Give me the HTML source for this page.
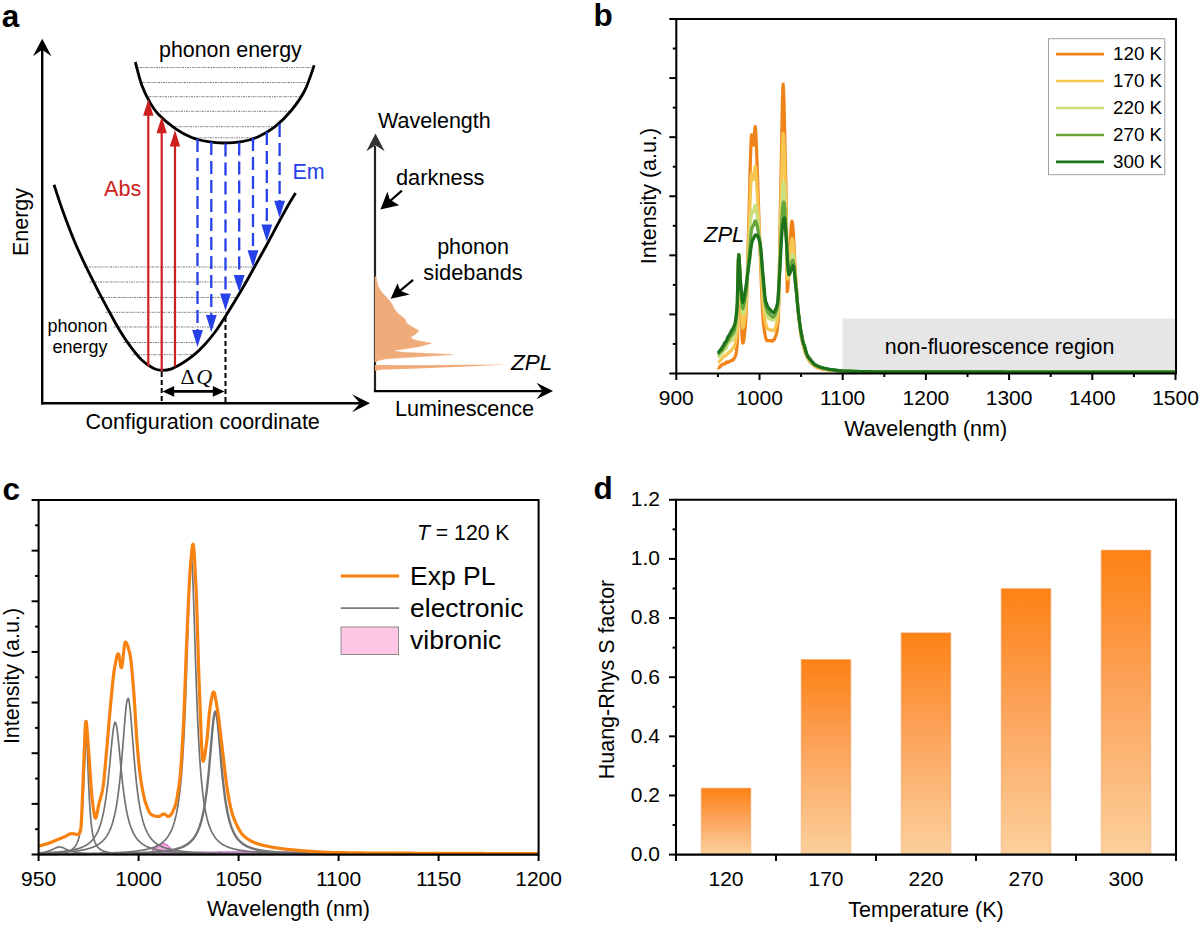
<!DOCTYPE html><html><head><meta charset="utf-8"><style>
html,body{margin:0;padding:0;background:#fff;}
svg{display:block;}
text{font-family:"Liberation Sans", sans-serif;}
</style></head><body>
<svg width="1200" height="927" viewBox="0 0 1200 927">
<defs>
<linearGradient id="barg" x1="0" y1="0" x2="0" y2="1">
<stop offset="0" stop-color="#fd8214"/><stop offset="0.45" stop-color="#fca35a"/><stop offset="1" stop-color="#fcd09c"/>
</linearGradient>
</defs>
<rect width="1200" height="927" fill="#fff"/>

<text x="1.80" y="26.50" font-size="31.5" text-anchor="start" fill="#000" font-weight="bold">a</text>
<line x1="42.2" y1="404.5" x2="42.2" y2="48" stroke="#000" stroke-width="2.4"/>
<path d="M42.20,38.80 L51.45,56.30 L42.20,49.80 L32.95,56.30 Z" fill="#000"/>
<line x1="41" y1="403.3" x2="360" y2="403.3" stroke="#000" stroke-width="2.4"/>
<path d="M370.00,403.30 L352.00,412.30 L360.00,403.30 L352.00,394.30 Z" fill="#000"/>
<line x1="135.0" y1="67.5" x2="313.2" y2="67.5" stroke="#7a7a7a" stroke-width="1" stroke-dasharray="2.2 1 1 1"/>
<line x1="142.2" y1="82.5" x2="307.3" y2="82.5" stroke="#7a7a7a" stroke-width="1" stroke-dasharray="2.2 1 1 1"/>
<line x1="149.2" y1="96.7" x2="300.5" y2="96.7" stroke="#7a7a7a" stroke-width="1" stroke-dasharray="2.2 1 1 1"/>
<line x1="160.0" y1="111.3" x2="289.0" y2="111.3" stroke="#7a7a7a" stroke-width="1" stroke-dasharray="2.2 1 1 1"/>
<line x1="174.2" y1="126.7" x2="274.5" y2="126.7" stroke="#7a7a7a" stroke-width="1" stroke-dasharray="2.2 1 1 1"/>
<line x1="194.2" y1="137.8" x2="254.8" y2="137.8" stroke="#7a7a7a" stroke-width="1" stroke-dasharray="2.2 1 1 1"/>
<line x1="83.9" y1="267.0" x2="255.0" y2="267.0" stroke="#7a7a7a" stroke-width="1" stroke-dasharray="2.2 1 1 1"/>
<line x1="89.5" y1="282.0" x2="246.4" y2="282.0" stroke="#7a7a7a" stroke-width="1" stroke-dasharray="2.2 1 1 1"/>
<line x1="97.5" y1="297.5" x2="236.5" y2="297.5" stroke="#7a7a7a" stroke-width="1" stroke-dasharray="2.2 1 1 1"/>
<line x1="105.5" y1="312.3" x2="227.0" y2="312.3" stroke="#7a7a7a" stroke-width="1" stroke-dasharray="2.2 1 1 1"/>
<line x1="113.5" y1="327.0" x2="214.0" y2="327.0" stroke="#7a7a7a" stroke-width="1" stroke-dasharray="2.2 1 1 1"/>
<line x1="123.5" y1="342.5" x2="198.9" y2="342.5" stroke="#7a7a7a" stroke-width="1" stroke-dasharray="2.2 1 1 1"/>
<line x1="132.5" y1="354.7" x2="192.5" y2="354.7" stroke="#7a7a7a" stroke-width="1" stroke-dasharray="2.2 1 1 1"/>
<path d="M135.30,62.00 C136.37,65.83 139.25,78.25 141.70,85.00 C144.15,91.75 147.23,97.63 150.00,102.50 C152.77,107.37 154.13,109.90 158.30,114.20 C162.47,118.50 169.43,124.42 175.00,128.30 C180.57,132.18 186.15,135.27 191.70,137.50 C197.25,139.73 203.03,140.78 208.30,141.70 C213.57,142.62 217.73,143.00 223.30,143.00 C228.87,143.00 235.87,142.75 241.70,141.70 C247.53,140.65 252.75,139.20 258.30,136.70 C263.85,134.20 269.43,131.15 275.00,126.70 C280.57,122.25 286.70,116.12 291.70,110.00 C296.70,103.88 301.25,97.45 305.00,90.00 C308.75,82.55 312.67,69.42 314.20,65.30" fill="none" stroke="#000" stroke-width="2.8" stroke-linecap="butt"/>
<path d="M54.00,184.70 C55.45,189.05 59.37,201.55 62.70,210.80 C66.03,220.05 70.23,231.13 74.00,240.20 C77.77,249.27 81.53,257.27 85.30,265.20 C89.07,273.13 92.82,280.45 96.60,287.80 C100.38,295.15 104.22,302.32 108.00,309.30 C111.78,316.28 115.53,323.47 119.30,329.70 C123.07,335.93 126.82,341.60 130.60,346.70 C134.38,351.80 138.22,356.72 142.00,360.30 C145.78,363.88 150.05,366.53 153.30,368.20 C156.55,369.87 158.45,370.20 161.50,370.30 C164.55,370.40 168.13,369.98 171.60,368.80 C175.07,367.62 178.72,365.38 182.30,363.20 C185.88,361.02 189.50,358.65 193.10,355.70 C196.70,352.75 200.30,349.37 203.90,345.50 C207.50,341.63 211.10,337.37 214.70,332.50 C218.30,327.63 221.90,321.92 225.50,316.30 C229.10,310.68 232.72,304.77 236.30,298.80 C239.88,292.83 243.42,286.80 247.00,280.50 C250.58,274.20 254.20,267.50 257.80,261.00 C261.40,254.50 265.00,248.13 268.60,241.50 C272.20,234.87 275.80,227.82 279.40,221.20 C283.00,214.58 287.50,206.50 290.20,201.80 C292.90,197.10 294.70,194.47 295.60,193.00" fill="none" stroke="#000" stroke-width="2.8"/>
<line x1="148.3" y1="366.5" x2="148.3" y2="109.2" stroke="#cf2020" stroke-width="2.2"/>
<path d="M148.3,99.2 L143.1,115.7 L153.5,115.7 Z" fill="#cf2020"/>
<line x1="161.7" y1="371.0" x2="161.7" y2="126.7" stroke="#cf2020" stroke-width="2.2"/>
<path d="M161.7,116.7 L156.5,133.2 L166.9,133.2 Z" fill="#cf2020"/>
<line x1="175.0" y1="366.5" x2="175.0" y2="140.0" stroke="#cf2020" stroke-width="2.2"/>
<path d="M175.0,130.0 L169.8,146.5 L180.2,146.5 Z" fill="#cf2020"/>
<line x1="197.5" y1="139.0" x2="197.5" y2="335.1" stroke="#2641e8" stroke-width="2.3" stroke-dasharray="13 6"/>
<path d="M197.5,347.1 L192.1,330.1 L202.9,330.1 Z" fill="#2641e8"/>
<line x1="211.3" y1="142.0" x2="211.3" y2="320.0" stroke="#2641e8" stroke-width="2.3" stroke-dasharray="13 6"/>
<path d="M211.3,332.0 L205.9,315.0 L216.7,315.0 Z" fill="#2641e8"/>
<line x1="225.5" y1="143.5" x2="225.5" y2="298.5" stroke="#2641e8" stroke-width="2.3" stroke-dasharray="13 6"/>
<path d="M225.5,310.5 L220.1,293.5 L230.9,293.5 Z" fill="#2641e8"/>
<line x1="239.2" y1="142.5" x2="239.2" y2="280.0" stroke="#2641e8" stroke-width="2.3" stroke-dasharray="13 6"/>
<path d="M239.2,292.0 L233.8,275.0 L244.6,275.0 Z" fill="#2641e8"/>
<line x1="253.0" y1="138.0" x2="253.0" y2="255.3" stroke="#2641e8" stroke-width="2.3" stroke-dasharray="13 6"/>
<path d="M253.0,267.3 L247.6,250.3 L258.4,250.3 Z" fill="#2641e8"/>
<line x1="266.8" y1="132.0" x2="266.8" y2="229.5" stroke="#2641e8" stroke-width="2.3" stroke-dasharray="13 6"/>
<path d="M266.8,241.5 L261.4,224.5 L272.2,224.5 Z" fill="#2641e8"/>
<line x1="279.6" y1="124.0" x2="279.6" y2="205.7" stroke="#2641e8" stroke-width="2.3" stroke-dasharray="13 6"/>
<path d="M279.6,217.7 L274.2,200.7 L285.0,200.7 Z" fill="#2641e8"/>
<line x1="161.7" y1="372" x2="161.7" y2="402" stroke="#000" stroke-width="2" stroke-dasharray="5 3"/>
<line x1="225.5" y1="317" x2="225.5" y2="402" stroke="#000" stroke-width="2" stroke-dasharray="5 3"/>
<line x1="170" y1="391.4" x2="216" y2="391.4" stroke="#000" stroke-width="2.8"/>
<path d="M162.5,391.4 L174.2,386.1 L174.2,396.7 Z" fill="#000"/>
<path d="M224.5,391.4 L212.8,386.1 L212.8,396.7 Z" fill="#000"/>
<text x="180.5" y="384" font-size="22" style="font-family:'Liberation Serif',serif">&#916;<tspan font-style="italic" dx="1.5">Q</tspan></text>
<text x="159.00" y="57.00" font-size="21.4" text-anchor="start" fill="#000" >phonon energy</text>
<text x="104.00" y="196.00" font-size="21.6" text-anchor="start" fill="#cf2020" >Abs</text>
<text x="292.50" y="179.00" font-size="21.5" text-anchor="start" fill="#2641e8" >Em</text>
<text x="27.50" y="222.00" font-size="21.5" text-anchor="middle" fill="#000" transform="rotate(-90 27.5 222)">Energy</text>
<text x="107.50" y="332.00" font-size="18" text-anchor="end" fill="#000" >phonon</text>
<text x="107.50" y="353.00" font-size="18" text-anchor="end" fill="#000" >energy</text>
<text x="202.70" y="429.00" font-size="21.5" text-anchor="middle" fill="#000" >Configuration coordinate</text>
<line x1="375" y1="392" x2="375" y2="146" stroke="#222" stroke-width="2.2"/>
<path d="M375.50,133.50 L384.65,151.30 L375.50,145.30 L366.35,151.30 Z" fill="#333"/>
<line x1="374" y1="391.1" x2="545" y2="391.1" stroke="#000" stroke-width="2.2"/>
<path d="M553.00,391.10 L536.50,399.35 L542.50,391.10 L536.50,382.85 Z" fill="#000"/>
<path d="M375.0,276.5 L376.1,277.4 L377.9,286.1 L381.6,292.3 L386.6,297.3 L391.6,303.5 L394.0,308.4 L397.8,313.4 L402.7,317.1 L405.2,319.6 L406.5,323.3 L411.4,326.4 L418.9,330.8 L415.1,334.5 L410.2,337.6 L413.0,339.2 L417.6,340.7 L431.3,343.2 L417.6,346.9 L400.0,349.5 L392.8,350.6 L398.0,351.8 L405.2,352.5 L452.4,354.6 L417.6,356.8 L386.6,358.7 L377.9,360.5 L376.7,361.8 L375.0,362.0 Z" fill="#f0ab7b" stroke="#f0ab7b" stroke-width="0.6" stroke-linejoin="round"/>
<path d="M375,364.8 L377.9,364.9 L417.6,365.3 L468,364.8 L507.2,364.6 L468,366.6 L417.6,368.4 L380.4,369.8 L376.7,370.5 L375,371 Z" fill="#f0ab7b"/>
<text x="378.00" y="127.50" font-size="21.5" text-anchor="start" fill="#000" >Wavelength</text>
<text x="396.00" y="185.00" font-size="21.8" text-anchor="start" fill="#000" >darkness</text>
<text x="473.00" y="254.00" font-size="21.5" text-anchor="middle" fill="#000" >phonon</text>
<text x="473.00" y="280.00" font-size="21.8" text-anchor="middle" fill="#000" >sidebands</text>
<text x="511" y="370" font-size="22.5" font-style="italic">ZPL</text>
<text x="464.50" y="416.00" font-size="21.6" text-anchor="middle" fill="#000" >Luminescence</text>
<line x1="401.9" y1="190.7" x2="385" y2="205.5" stroke="#000" stroke-width="2.2"/>
<path d="M380.4,209.5 L387.4,191.7 L389.8,199.5 L399.2,205.2 Z" fill="#000"/>
<line x1="413.1" y1="279.8" x2="395" y2="295" stroke="#000" stroke-width="2.2"/>
<path d="M390.7,298.8 L397.5,283.2 L400.3,290.8 L409.8,294.5 Z" fill="#000"/>
<path d="M38.6,854.5 39.1,854.5 39.6,854.5 40.1,854.5 40.6,854.5 41.1,854.5 41.6,854.5 42.1,854.5 42.6,854.5 43.1,854.5 43.6,854.5 44.1,854.5 44.6,854.5 45.1,854.5 45.6,854.5 46.1,854.5 46.6,854.5 47.1,854.5 47.6,854.5 48.1,854.5 48.6,854.5 49.1,854.5 49.6,854.5 50.1,854.5 50.6,854.5 51.1,854.5 51.6,854.5 52.1,854.5 52.6,854.5 53.1,854.5 53.6,854.5 54.1,854.5 54.6,854.5 55.1,854.5 55.6,854.5 56.1,854.5 56.6,854.5 57.1,854.5 57.6,854.5 58.1,854.5 58.6,854.5 59.1,854.5 59.6,854.5 60.1,854.5 60.6,854.5 61.1,854.5 61.6,854.5 62.1,854.5 62.6,854.5 63.1,854.5 63.6,854.5 64.1,854.5 64.6,854.5 65.1,854.5 65.6,854.5 66.1,854.5 66.6,854.5 67.1,854.5 67.6,854.5 68.1,854.5 68.6,854.5 69.1,854.5 69.6,854.5 70.1,854.5 70.6,854.5 71.1,854.5 71.6,854.5 72.1,854.5 72.6,854.5 73.1,854.5 73.6,854.5 74.1,854.5 74.6,854.5 75.1,854.5 75.6,854.5 76.1,854.5 76.6,854.5 77.1,854.5 77.6,854.5 78.1,854.5 78.6,854.5 79.1,854.5 79.6,854.5 80.1,854.5 80.6,854.5 81.1,854.5 81.6,854.5 82.1,854.5 82.6,854.5 83.1,854.5 83.6,854.5 84.1,854.5 84.6,854.5 85.1,854.5 85.6,854.5 86.1,854.5 86.6,854.5 87.1,854.5 87.6,854.5 88.1,854.5 88.6,854.5 89.1,854.5 89.6,854.5 90.1,854.5 90.6,854.5 91.1,854.5 91.6,854.5 92.1,854.5 92.6,854.5 93.1,854.5 93.6,854.5 94.1,854.5 94.6,854.5 95.1,854.5 95.6,854.5 96.1,854.5 96.6,854.5 97.1,854.5 97.6,854.5 98.1,854.5 98.6,854.5 99.1,854.5 99.6,854.5 100.1,854.5 100.6,854.5 101.1,854.5 101.6,854.5 102.1,854.5 102.6,854.5 103.1,854.5 103.6,854.5 104.1,854.5 104.6,854.5 105.1,854.5 105.6,854.5 106.1,854.5 106.6,854.5 107.1,854.5 107.6,854.5 108.1,854.5 108.6,854.5 109.1,854.5 109.6,854.5 110.1,854.5 110.6,854.5 111.1,854.5 111.6,854.5 112.1,854.5 112.6,854.5 113.1,854.5 113.6,854.5 114.1,854.5 114.6,854.5 115.1,854.5 115.6,854.5 116.1,854.5 116.6,854.5 117.1,854.5 117.6,854.5 118.1,854.5 118.6,854.5 119.1,854.5 119.6,854.5 120.1,854.5 120.6,854.5 121.1,854.5 121.6,854.5 122.1,854.5 122.6,854.5 123.1,854.5 123.6,854.5 124.1,854.5 124.6,854.5 125.1,854.5 125.6,854.5 126.1,854.5 126.6,854.5 127.1,854.5 127.6,854.5 128.1,854.5 128.6,854.5 129.1,854.5 129.6,854.5 130.1,854.5 130.6,854.5 131.1,854.5 131.6,854.5 132.1,854.5 132.6,854.5 133.1,854.5 133.6,854.5 134.1,854.5 134.6,854.5 135.1,854.5 135.6,854.5 136.1,854.5 136.6,854.5 137.1,854.5 137.6,854.5 138.1,854.5 138.6,854.5 139.1,854.5 139.6,854.4 140.1,854.4 140.6,854.4 141.1,854.4 141.6,854.4 142.1,854.3 142.6,854.3 143.1,854.3 143.6,854.2 144.1,854.1 144.6,854.1 145.1,854.0 145.6,853.9 146.1,853.8 146.6,853.7 147.1,853.5 147.6,853.4 148.1,853.2 148.6,853.0 149.1,852.8 149.6,852.6 150.1,852.3 150.6,852.0 151.1,851.7 151.6,851.4 152.1,851.0 152.6,850.6 153.1,850.2 153.6,849.8 154.1,849.4 154.6,848.9 155.1,848.5 155.6,848.0 156.1,847.6 156.6,847.1 157.1,846.6 157.6,846.2 158.1,845.8 158.6,845.4 159.1,845.0 159.6,844.7 160.1,844.4 160.6,844.1 161.1,843.9 161.6,843.7 162.1,843.6 162.6,843.5 163.1,843.5 163.6,843.5 164.1,843.6 164.6,843.8 165.1,844.0 165.6,844.2 166.1,844.5 166.6,844.8 167.1,845.1 167.6,845.5 168.1,845.9 168.6,846.4 169.1,846.8 169.6,847.3 170.1,847.7 170.6,848.2 171.1,848.7 171.6,849.1 172.1,849.6 172.6,850.0 173.1,850.4 173.6,850.8 174.1,851.1 174.6,851.5 175.1,851.8 175.6,852.1 176.1,852.4 176.6,852.7 177.1,852.9 177.6,853.1 178.1,853.3 178.6,853.4 179.1,853.6 179.6,853.7 180.1,853.8 180.6,853.9 181.1,854.0 181.6,854.1 182.1,854.2 182.6,854.2 183.1,854.3 183.6,854.3 184.1,854.3 184.6,854.4 185.1,854.4 185.6,854.4 186.1,854.4 186.6,854.4 187.1,854.5 187.6,854.5 188.1,854.5 188.6,854.5 189.1,854.5 189.6,854.5 190.1,854.5 190.6,854.5 191.1,854.5 191.6,854.5 192.1,854.5 192.6,854.5 193.1,854.5 193.6,854.5 194.1,854.5 194.6,854.5 195.1,854.5 195.6,854.5 196.1,854.5 196.6,854.5 197.1,854.5 197.6,854.5 198.1,854.5 198.6,854.5 199.1,854.5 199.6,854.5 200.1,854.5 200.6,854.5 201.1,854.5 201.6,854.5 202.1,854.5 202.6,854.5 203.1,854.5 203.6,854.5 204.1,854.5 204.6,854.5 205.1,854.5 205.6,854.5 206.1,854.5 206.6,854.5 207.1,854.5 207.6,854.5 208.1,854.5 208.6,854.5 209.1,854.5 209.6,854.5 210.1,854.5 210.6,854.5 211.1,854.5 211.6,854.5 212.1,854.5 212.6,854.5 213.1,854.5 213.6,854.5 214.1,854.5 214.6,854.5 215.1,854.5 215.6,854.5 216.1,854.5 216.6,854.5 217.1,854.5 217.6,854.5 218.1,854.5 218.6,854.5 219.1,854.5 219.6,854.5 220.1,854.5 220.6,854.5 221.1,854.5 221.6,854.5 222.1,854.5 222.6,854.5 223.1,854.5 223.6,854.5 224.1,854.5 224.6,854.5 225.1,854.5 225.6,854.5 226.1,854.5 226.6,854.5 227.1,854.5 227.6,854.5 228.1,854.5 228.6,854.5 229.1,854.5 229.6,854.5 230.1,854.5 230.6,854.5 231.1,854.5 231.6,854.5 232.1,854.5 232.6,854.5 233.1,854.5 233.6,854.5 234.1,854.5 234.6,854.5 235.1,854.5 235.6,854.5 236.1,854.5 236.6,854.5 237.1,854.5 237.6,854.5 238.1,854.5 238.6,854.5 239.1,854.5 239.6,854.5 240.1,854.5 240.6,854.5 241.1,854.5 241.6,854.5 242.1,854.5 242.6,854.5 243.1,854.5 243.6,854.5 244.1,854.5 244.6,854.5 245.1,854.5 245.6,854.5 246.1,854.5 246.6,854.5 247.1,854.5 247.6,854.5 248.1,854.5 248.6,854.5 249.1,854.5 249.6,854.5 250.1,854.5 250.6,854.5 251.1,854.5 251.6,854.5 252.1,854.5 252.6,854.5 253.1,854.5 253.6,854.5 254.1,854.5 254.6,854.5 255.1,854.5 255.6,854.5 256.1,854.5 256.6,854.5 257.1,854.5 257.6,854.5 258.1,854.5 258.6,854.5 259.1,854.5 259.6,854.5 260.1,854.5 260.6,854.5 261.1,854.5 261.6,854.5 262.1,854.5 262.6,854.5 263.1,854.5 263.6,854.5 264.1,854.5 264.6,854.5 265.1,854.5 265.6,854.5 266.1,854.5 266.6,854.5 267.1,854.5 267.6,854.5 268.1,854.5 268.6,854.5 269.1,854.5 269.6,854.5 270.1,854.5 270.6,854.5 271.1,854.5 271.6,854.5 272.1,854.5 272.6,854.5 273.1,854.5 273.6,854.5 274.1,854.5 274.6,854.5 275.1,854.5 275.6,854.5 276.1,854.5 276.6,854.5 277.1,854.5 277.6,854.5 278.1,854.5 278.6,854.5 279.1,854.5 279.6,854.5 280.1,854.5 280.6,854.5 281.1,854.5 281.6,854.5 282.1,854.5 282.6,854.5 283.1,854.5 283.6,854.5 284.1,854.5 284.6,854.5 285.1,854.5 285.6,854.5 286.1,854.5 286.6,854.5 287.1,854.5 287.6,854.5 288.1,854.5 288.6,854.5 289.1,854.5 289.6,854.5 290.1,854.5 290.6,854.5 291.1,854.5 291.6,854.5 292.1,854.5 292.6,854.5 293.1,854.5 293.6,854.5 294.1,854.5 294.6,854.5 295.1,854.5 295.6,854.5 296.1,854.5 296.6,854.5 297.1,854.5 297.6,854.5 298.1,854.5 298.6,854.5 299.1,854.5 299.6,854.5 300.1,854.5 300.6,854.5 301.1,854.5 301.6,854.5 302.1,854.5 302.6,854.5 303.1,854.5 303.6,854.5 304.1,854.5 304.6,854.5 305.1,854.5 305.6,854.5 306.1,854.5 306.6,854.5 307.1,854.5 307.6,854.5 308.1,854.5 308.6,854.5 309.1,854.5 309.6,854.5 310.1,854.5 310.6,854.5 311.1,854.5 311.6,854.5 312.1,854.5 312.6,854.5 313.1,854.5 313.6,854.5 314.1,854.5 314.6,854.5 315.1,854.5 315.6,854.5 316.1,854.5 316.6,854.5 317.1,854.5 317.6,854.5 318.1,854.5 318.6,854.5 319.1,854.5 319.6,854.5 320.1,854.5 320.6,854.5 321.1,854.5 321.6,854.5 322.1,854.5 322.6,854.5 323.1,854.5 323.6,854.5 324.1,854.5 324.6,854.5 325.1,854.5 325.6,854.5 326.1,854.5 326.6,854.5 327.1,854.5 327.6,854.5 328.1,854.5 328.6,854.5 329.1,854.5 329.6,854.5 330.1,854.5 330.6,854.5 331.1,854.5 331.6,854.5 332.1,854.5 332.6,854.5 333.1,854.5 333.6,854.5 334.1,854.5 334.6,854.5 335.1,854.5 335.6,854.5 336.1,854.5 336.6,854.5 337.1,854.5 337.6,854.5 338.1,854.5 338.6,854.5 339.1,854.5 339.6,854.5 340.1,854.5 340.6,854.5 341.1,854.5 341.6,854.5 342.1,854.5 342.6,854.5 343.1,854.5 343.6,854.5 344.1,854.5 344.6,854.5 345.1,854.5 345.6,854.5 346.1,854.5 346.6,854.5 347.1,854.5 347.6,854.5 348.1,854.5 348.6,854.5 349.1,854.5 349.6,854.5 350.1,854.5 350.6,854.5 351.1,854.5 351.6,854.5 352.1,854.5 352.6,854.5 353.1,854.5 353.6,854.5 354.1,854.5 354.6,854.5 355.1,854.5 355.6,854.5 356.1,854.5 356.6,854.5 357.1,854.5 357.6,854.5 358.1,854.5 358.6,854.5 359.1,854.5 359.6,854.5 360.1,854.5 360.6,854.5 361.1,854.5 361.6,854.5 362.1,854.5 362.6,854.5 363.1,854.5 363.6,854.5 364.1,854.5 364.6,854.5 365.1,854.5 365.6,854.5 366.1,854.5 366.6,854.5 367.1,854.5 367.6,854.5 368.1,854.5 368.6,854.5 369.1,854.5 369.6,854.5 370.1,854.5 370.6,854.5 371.1,854.5 371.6,854.5 372.1,854.5 372.6,854.5 373.1,854.5 373.6,854.5 374.1,854.5 374.6,854.5 375.1,854.5 375.6,854.5 376.1,854.5 376.6,854.5 377.1,854.5 377.6,854.5 378.1,854.5 378.6,854.5 379.1,854.5 379.6,854.5 380.1,854.5 380.6,854.5 381.1,854.5 381.6,854.5 382.1,854.5 382.6,854.5 383.1,854.5 383.6,854.5 384.1,854.5 384.6,854.5 385.1,854.5 385.6,854.5 386.1,854.5 386.6,854.5 387.1,854.5 387.6,854.5 388.1,854.5 388.6,854.5 389.1,854.5 389.6,854.5 390.1,854.5 390.6,854.5 391.1,854.5 391.6,854.5 392.1,854.5 392.6,854.5 393.1,854.5 393.6,854.5 394.1,854.5 394.6,854.5 395.1,854.5 395.6,854.5 396.1,854.5 396.6,854.5 397.1,854.5 397.6,854.5 398.1,854.5 398.6,854.5 399.1,854.5 399.6,854.5 400.1,854.5 400.6,854.5 401.1,854.5 401.6,854.5 402.1,854.5 402.6,854.5 403.1,854.5 403.6,854.5 404.1,854.5 404.6,854.5 405.1,854.5 405.6,854.5 406.1,854.5 406.6,854.5 407.1,854.5 407.6,854.5 408.1,854.5 408.6,854.5 409.1,854.5 409.6,854.5 410.1,854.5 410.6,854.5 411.1,854.5 411.6,854.5 412.1,854.5 412.6,854.5 413.1,854.5 413.6,854.5 414.1,854.5 414.6,854.5 415.1,854.5 415.6,854.5 416.1,854.5 416.6,854.5 417.1,854.5 417.6,854.5 418.1,854.5 418.6,854.5 419.1,854.5 419.6,854.5 420.1,854.5 420.6,854.5 421.1,854.5 421.6,854.5 422.1,854.5 422.6,854.5 423.1,854.5 423.6,854.5 424.1,854.5 424.6,854.5 425.1,854.5 425.6,854.5 426.1,854.5 426.6,854.5 427.1,854.5 427.6,854.5 428.1,854.5 428.6,854.5 429.1,854.5 429.6,854.5 430.1,854.5 430.6,854.5 431.1,854.5 431.6,854.5 432.1,854.5 432.6,854.5 433.1,854.5 433.6,854.5 434.1,854.5 434.6,854.5 435.1,854.5 435.6,854.5 436.1,854.5 436.6,854.5 437.1,854.5 437.6,854.5 438.1,854.5 438.6,854.5 439.1,854.5 439.6,854.5 440.1,854.5 440.6,854.5 441.1,854.5 441.6,854.5 442.1,854.5 442.6,854.5 443.1,854.5 443.6,854.5 444.1,854.5 444.6,854.5 445.1,854.5 445.6,854.5 446.1,854.5 446.6,854.5 447.1,854.5 447.6,854.5 448.1,854.5 448.6,854.5 449.1,854.5 449.6,854.5 450.1,854.5 450.6,854.5 451.1,854.5 451.6,854.5 452.1,854.5 452.6,854.5 453.1,854.5 453.6,854.5 454.1,854.5 454.6,854.5 455.1,854.5 455.6,854.5 456.1,854.5 456.6,854.5 457.1,854.5 457.6,854.5 458.1,854.5 458.6,854.5 459.1,854.5 459.6,854.5 460.1,854.5 460.6,854.5 461.1,854.5 461.6,854.5 462.1,854.5 462.6,854.5 463.1,854.5 463.6,854.5 464.1,854.5 464.6,854.5 465.1,854.5 465.6,854.5 466.1,854.5 466.6,854.5 467.1,854.5 467.6,854.5 468.1,854.5 468.6,854.5 469.1,854.5 469.6,854.5 470.1,854.5 470.6,854.5 471.1,854.5 471.6,854.5 472.1,854.5 472.6,854.5 473.1,854.5 473.6,854.5 474.1,854.5 474.6,854.5 475.1,854.5 475.6,854.5 476.1,854.5 476.6,854.5 477.1,854.5 477.6,854.5 478.1,854.5 478.6,854.5 479.1,854.5 479.6,854.5 480.1,854.5 480.6,854.5 481.1,854.5 481.6,854.5 482.1,854.5 482.6,854.5 483.1,854.5 483.6,854.5 484.1,854.5 484.6,854.5 485.1,854.5 485.6,854.5 486.1,854.5 486.6,854.5 487.1,854.5 487.6,854.5 488.1,854.5 488.6,854.5 489.1,854.5 489.6,854.5 490.1,854.5 490.6,854.5 491.1,854.5 491.6,854.5 492.1,854.5 492.6,854.5 493.1,854.5 493.6,854.5 494.1,854.5 494.6,854.5 495.1,854.5 495.6,854.5 496.1,854.5 496.6,854.5 497.1,854.5 497.6,854.5 498.1,854.5 498.6,854.5 499.1,854.5 499.6,854.5 500.1,854.5 500.6,854.5 501.1,854.5 501.6,854.5 502.1,854.5 502.6,854.5 503.1,854.5 503.6,854.5 504.1,854.5 504.6,854.5 505.1,854.5 505.6,854.5 506.1,854.5 506.6,854.5 507.1,854.5 507.6,854.5 508.1,854.5 508.6,854.5 509.1,854.5 509.6,854.5 510.1,854.5 510.6,854.5 511.1,854.5 511.6,854.5 512.1,854.5 512.6,854.5 513.1,854.5 513.6,854.5 514.1,854.5 514.6,854.5 515.1,854.5 515.6,854.5 516.1,854.5 516.6,854.5 517.1,854.5 517.6,854.5 518.1,854.5 518.6,854.5 519.1,854.5 519.6,854.5 520.1,854.5 520.6,854.5 521.1,854.5 521.6,854.5 522.1,854.5 522.6,854.5 523.1,854.5 523.6,854.5 524.1,854.5 524.6,854.5 525.1,854.5 525.6,854.5 526.1,854.5 526.6,854.5 527.1,854.5 527.6,854.5 528.1,854.5 528.6,854.5 529.1,854.5 529.6,854.5 530.1,854.5 530.6,854.5 531.1,854.5 531.6,854.5 532.1,854.5 532.6,854.5 533.1,854.5 533.6,854.5 534.1,854.5 534.6,854.5 535.1,854.5 535.6,854.5 536.1,854.5 536.6,854.5 537.1,854.5 537.6,854.5 538.1,854.5 538.6,854.5 L538.6,854.5 L38.6,854.5 Z" fill="#f7a8dc" stroke="#d070c8" stroke-width="1.2"/>
<path d="M38.6,854.5 39.1,854.5 39.6,854.5 40.1,854.5 40.6,854.5 41.1,854.5 41.6,854.5 42.1,854.5 42.6,854.5 43.1,854.5 43.6,854.5 44.1,854.5 44.6,854.5 45.1,854.5 45.6,854.5 46.1,854.5 46.6,854.5 47.1,854.5 47.6,854.5 48.1,854.5 48.6,854.5 49.1,854.5 49.6,854.5 50.1,854.5 50.6,854.5 51.1,854.5 51.6,854.5 52.1,854.5 52.6,854.5 53.1,854.5 53.6,854.5 54.1,854.5 54.6,854.5 55.1,854.5 55.6,854.5 56.1,854.5 56.6,854.5 57.1,854.5 57.6,854.5 58.1,854.5 58.6,854.5 59.1,854.5 59.6,854.5 60.1,854.5 60.6,854.5 61.1,854.5 61.6,854.5 62.1,854.5 62.6,854.5 63.1,854.5 63.6,854.5 64.1,854.5 64.6,854.5 65.1,854.5 65.6,854.5 66.1,854.5 66.6,854.5 67.1,854.5 67.6,854.5 68.1,854.5 68.6,854.5 69.1,854.5 69.6,854.5 70.1,854.5 70.6,854.5 71.1,854.5 71.6,854.5 72.1,854.5 72.6,854.5 73.1,854.5 73.6,854.5 74.1,854.5 74.6,854.5 75.1,854.5 75.6,854.5 76.1,854.5 76.6,854.5 77.1,854.5 77.6,854.5 78.1,854.5 78.6,854.5 79.1,854.5 79.6,854.5 80.1,854.5 80.6,854.5 81.1,854.5 81.6,854.5 82.1,854.5 82.6,854.5 83.1,854.5 83.6,854.5 84.1,854.5 84.6,854.5 85.1,854.5 85.6,854.5 86.1,854.5 86.6,854.5 87.1,854.5 87.6,854.5 88.1,854.5 88.6,854.5 89.1,854.5 89.6,854.5 90.1,854.5 90.6,854.5 91.1,854.5 91.6,854.5 92.1,854.5 92.6,854.5 93.1,854.5 93.6,854.5 94.1,854.5 94.6,854.5 95.1,854.5 95.6,854.5 96.1,854.5 96.6,854.5 97.1,854.5 97.6,854.5 98.1,854.5 98.6,854.5 99.1,854.5 99.6,854.5 100.1,854.5 100.6,854.5 101.1,854.5 101.6,854.5 102.1,854.5 102.6,854.5 103.1,854.5 103.6,854.5 104.1,854.5 104.6,854.5 105.1,854.5 105.6,854.5 106.1,854.5 106.6,854.5 107.1,854.5 107.6,854.5 108.1,854.5 108.6,854.5 109.1,854.5 109.6,854.5 110.1,854.5 110.6,854.5 111.1,854.5 111.6,854.5 112.1,854.5 112.6,854.5 113.1,854.5 113.6,854.5 114.1,854.5 114.6,854.5 115.1,854.5 115.6,854.5 116.1,854.5 116.6,854.5 117.1,854.5 117.6,854.5 118.1,854.5 118.6,854.5 119.1,854.4 119.6,854.4 120.1,854.4 120.6,854.4 121.1,854.4 121.6,854.4 122.1,854.4 122.6,854.4 123.1,854.3 123.6,854.3 124.1,854.3 124.6,854.3 125.1,854.3 125.6,854.2 126.1,854.2 126.6,854.2 127.1,854.1 127.6,854.1 128.1,854.1 128.6,854.0 129.1,854.0 129.6,854.0 130.1,853.9 130.6,853.9 131.1,853.9 131.6,853.8 132.1,853.8 132.6,853.7 133.1,853.7 133.6,853.7 134.1,853.6 134.6,853.6 135.1,853.6 135.6,853.5 136.1,853.5 136.6,853.5 137.1,853.5 137.6,853.5 138.1,853.4 138.6,853.4 139.1,853.4 139.6,853.4 140.1,853.4 140.6,853.4 141.1,853.4 141.6,853.4 142.1,853.4 142.6,853.4 143.1,853.4 143.6,853.4 144.1,853.3 144.6,853.3 145.1,853.3 145.6,853.3 146.1,853.3 146.6,853.3 147.1,853.3 147.6,853.3 148.1,853.3 148.6,853.3 149.1,853.3 149.6,853.3 150.1,853.2 150.6,853.2 151.1,853.2 151.6,853.2 152.1,853.2 152.6,853.2 153.1,853.2 153.6,853.2 154.1,853.2 154.6,853.2 155.1,853.2 155.6,853.1 156.1,853.1 156.6,853.1 157.1,853.1 157.6,853.1 158.1,853.1 158.6,853.1 159.1,853.1 159.6,853.1 160.1,853.1 160.6,853.1 161.1,853.1 161.6,853.0 162.1,853.0 162.6,853.0 163.1,853.0 163.6,853.0 164.1,853.0 164.6,853.0 165.1,853.0 165.6,853.0 166.1,853.0 166.6,853.0 167.1,852.9 167.6,852.9 168.1,852.9 168.6,852.9 169.1,852.9 169.6,852.9 170.1,852.9 170.6,852.9 171.1,852.9 171.6,852.9 172.1,852.9 172.6,852.9 173.1,852.8 173.6,852.8 174.1,852.8 174.6,852.8 175.1,852.8 175.6,852.8 176.1,852.8 176.6,852.8 177.1,852.8 177.6,852.8 178.1,852.8 178.6,852.7 179.1,852.7 179.6,852.7 180.1,852.7 180.6,852.7 181.1,852.7 181.6,852.7 182.1,852.7 182.6,852.7 183.1,852.7 183.6,852.7 184.1,852.7 184.6,852.6 185.1,852.6 185.6,852.6 186.1,852.6 186.6,852.6 187.1,852.6 187.6,852.6 188.1,852.6 188.6,852.6 189.1,852.6 189.6,852.6 190.1,852.6 190.6,852.5 191.1,852.5 191.6,852.5 192.1,852.5 192.6,852.5 193.1,852.5 193.6,852.5 194.1,852.5 194.6,852.5 195.1,852.5 195.6,852.5 196.1,852.5 196.6,852.4 197.1,852.4 197.6,852.4 198.1,852.4 198.6,852.4 199.1,852.4 199.6,852.4 200.1,852.4 200.6,852.4 201.1,852.4 201.6,852.4 202.1,852.4 202.6,852.4 203.1,852.4 203.6,852.3 204.1,852.3 204.6,852.3 205.1,852.3 205.6,852.3 206.1,852.3 206.6,852.3 207.1,852.3 207.6,852.3 208.1,852.3 208.6,852.3 209.1,852.3 209.6,852.3 210.1,852.3 210.6,852.2 211.1,852.2 211.6,852.2 212.1,852.2 212.6,852.2 213.1,852.2 213.6,852.2 214.1,852.2 214.6,852.2 215.1,852.2 215.6,852.2 216.1,852.2 216.6,852.2 217.1,852.2 217.6,852.2 218.1,852.2 218.6,852.1 219.1,852.1 219.6,852.1 220.1,852.1 220.6,852.1 221.1,852.1 221.6,852.1 222.1,852.1 222.6,852.1 223.1,852.1 223.6,852.1 224.1,852.1 224.6,852.1 225.1,852.1 225.6,852.1 226.1,852.1 226.6,852.1 227.1,852.1 227.6,852.0 228.1,852.0 228.6,852.0 229.1,852.0 229.6,852.0 230.1,852.0 230.6,852.0 231.1,852.0 231.6,852.0 232.1,852.0 232.6,852.0 233.1,852.0 233.6,852.0 234.1,852.0 234.6,852.0 235.1,852.0 235.6,852.0 236.1,852.0 236.6,852.0 237.1,852.0 237.6,852.0 238.1,852.0 238.6,852.0 239.1,852.0 239.6,852.0 240.1,852.0 240.6,852.0 241.1,851.9 241.6,851.9 242.1,851.9 242.6,851.9 243.1,851.9 243.6,851.9 244.1,851.9 244.6,851.9 245.1,851.9 245.6,851.9 246.1,851.9 246.6,851.9 247.1,851.9 247.6,851.9 248.1,851.9 248.6,851.9 249.1,851.9 249.6,851.9 250.1,851.9 250.6,851.9 251.1,851.9 251.6,851.9 252.1,851.9 252.6,851.9 253.1,851.9 253.6,851.9 254.1,851.9 254.6,851.9 255.1,851.9 255.6,851.9 256.1,851.9 256.6,851.9 257.1,851.9 257.6,851.9 258.1,851.9 258.6,851.9 259.1,851.9 259.6,851.9 260.1,851.9 260.6,851.9 261.1,851.9 261.6,851.9 262.1,851.9 262.6,851.9 263.1,851.9 263.6,851.9 264.1,851.9 264.6,851.9 265.1,851.9 265.6,851.9 266.1,851.9 266.6,851.9 267.1,851.9 267.6,851.9 268.1,851.9 268.6,851.9 269.1,851.9 269.6,851.9 270.1,851.9 270.6,851.9 271.1,851.9 271.6,851.9 272.1,851.9 272.6,851.9 273.1,851.9 273.6,851.9 274.1,851.9 274.6,851.9 275.1,851.9 275.6,851.9 276.1,851.9 276.6,852.0 277.1,852.0 277.6,852.0 278.1,852.0 278.6,852.0 279.1,852.0 279.6,852.0 280.1,852.0 280.6,852.0 281.1,852.0 281.6,852.0 282.1,852.0 282.6,852.0 283.1,852.0 283.6,852.0 284.1,852.0 284.6,852.0 285.1,852.0 285.6,852.0 286.1,852.0 286.6,852.0 287.1,852.0 287.6,852.0 288.1,852.0 288.6,852.0 289.1,852.0 289.6,852.0 290.1,852.1 290.6,852.1 291.1,852.1 291.6,852.1 292.1,852.1 292.6,852.1 293.1,852.1 293.6,852.1 294.1,852.1 294.6,852.1 295.1,852.1 295.6,852.1 296.1,852.1 296.6,852.1 297.1,852.1 297.6,852.1 298.1,852.1 298.6,852.1 299.1,852.2 299.6,852.2 300.1,852.2 300.6,852.2 301.1,852.2 301.6,852.2 302.1,852.2 302.6,852.2 303.1,852.2 303.6,852.2 304.1,852.2 304.6,852.2 305.1,852.2 305.6,852.2 306.1,852.2 306.6,852.2 307.1,852.3 307.6,852.3 308.1,852.3 308.6,852.3 309.1,852.3 309.6,852.3 310.1,852.3 310.6,852.3 311.1,852.3 311.6,852.3 312.1,852.3 312.6,852.3 313.1,852.3 313.6,852.3 314.1,852.4 314.6,852.4 315.1,852.4 315.6,852.4 316.1,852.4 316.6,852.4 317.1,852.4 317.6,852.4 318.1,852.4 318.6,852.4 319.1,852.4 319.6,852.4 320.1,852.4 320.6,852.4 321.1,852.5 321.6,852.5 322.1,852.5 322.6,852.5 323.1,852.5 323.6,852.5 324.1,852.5 324.6,852.5 325.1,852.5 325.6,852.5 326.1,852.5 326.6,852.5 327.1,852.6 327.6,852.6 328.1,852.6 328.6,852.6 329.1,852.6 329.6,852.6 330.1,852.6 330.6,852.6 331.1,852.6 331.6,852.6 332.1,852.6 332.6,852.6 333.1,852.7 333.6,852.7 334.1,852.7 334.6,852.7 335.1,852.7 335.6,852.7 336.1,852.7 336.6,852.7 337.1,852.7 337.6,852.7 338.1,852.7 338.6,852.7 339.1,852.8 339.6,852.8 340.1,852.8 340.6,852.8 341.1,852.8 341.6,852.8 342.1,852.8 342.6,852.8 343.1,852.8 343.6,852.8 344.1,852.8 344.6,852.9 345.1,852.9 345.6,852.9 346.1,852.9 346.6,852.9 347.1,852.9 347.6,852.9 348.1,852.9 348.6,852.9 349.1,852.9 349.6,852.9 350.1,852.9 350.6,853.0 351.1,853.0 351.6,853.0 352.1,853.0 352.6,853.0 353.1,853.0 353.6,853.0 354.1,853.0 354.6,853.0 355.1,853.0 355.6,853.0 356.1,853.1 356.6,853.1 357.1,853.1 357.6,853.1 358.1,853.1 358.6,853.1 359.1,853.1 359.6,853.1 360.1,853.1 360.6,853.1 361.1,853.1 361.6,853.1 362.1,853.2 362.6,853.2 363.1,853.2 363.6,853.2 364.1,853.2 364.6,853.2 365.1,853.2 365.6,853.2 366.1,853.2 366.6,853.2 367.1,853.2 367.6,853.3 368.1,853.3 368.6,853.3 369.1,853.3 369.6,853.3 370.1,853.3 370.6,853.3 371.1,853.3 371.6,853.3 372.1,853.3 372.6,853.3 373.1,853.3 373.6,853.4 374.1,853.4 374.6,853.4 375.1,853.4 375.6,853.4 376.1,853.4 376.6,853.4 377.1,853.4 377.6,853.4 378.1,853.4 378.6,853.4 379.1,853.4 379.6,853.4 380.1,853.5 380.6,853.5 381.1,853.5 381.6,853.5 382.1,853.5 382.6,853.5 383.1,853.5 383.6,853.5 384.1,853.5 384.6,853.5 385.1,853.5 385.6,853.5 386.1,853.5 386.6,853.6 387.1,853.6 387.6,853.6 388.1,853.6 388.6,853.6 389.1,853.6 389.6,853.6 390.1,853.6 390.6,853.6 391.1,853.6 391.6,853.6 392.1,853.6 392.6,853.6 393.1,853.6 393.6,853.7 394.1,853.7 394.6,853.7 395.1,853.7 395.6,853.7 396.1,853.7 396.6,853.7 397.1,853.7 397.6,853.7 398.1,853.7 398.6,853.7 399.1,853.7 399.6,853.7 400.1,853.7 400.6,853.8 401.1,853.8 401.6,853.8 402.1,853.8 402.6,853.8 403.1,853.8 403.6,853.8 404.1,853.8 404.6,853.8 405.1,853.8 405.6,853.8 406.1,853.8 406.6,853.8 407.1,853.8 407.6,853.8 408.1,853.8 408.6,853.9 409.1,853.9 409.6,853.9 410.1,853.9 410.6,853.9 411.1,853.9 411.6,853.9 412.1,853.9 412.6,853.9 413.1,853.9 413.6,853.9 414.1,853.9 414.6,853.9 415.1,853.9 415.6,853.9 416.1,853.9 416.6,853.9 417.1,853.9 417.6,854.0 418.1,854.0 418.6,854.0 419.1,854.0 419.6,854.0 420.1,854.0 420.6,854.0 421.1,854.0 421.6,854.0 422.1,854.0 422.6,854.0 423.1,854.0 423.6,854.0 424.1,854.0 424.6,854.0 425.1,854.0 425.6,854.0 426.1,854.0 426.6,854.0 427.1,854.0 427.6,854.1 428.1,854.1 428.6,854.1 429.1,854.1 429.6,854.1 430.1,854.1 430.6,854.1 431.1,854.1 431.6,854.1 432.1,854.1 432.6,854.1 433.1,854.1 433.6,854.1 434.1,854.1 434.6,854.1 435.1,854.1 435.6,854.1 436.1,854.1 436.6,854.1 437.1,854.1 437.6,854.1 438.1,854.1 438.6,854.1 439.1,854.2 439.6,854.2 440.1,854.2 440.6,854.2 441.1,854.2 441.6,854.2 442.1,854.2 442.6,854.2 443.1,854.2 443.6,854.2 444.1,854.2 444.6,854.2 445.1,854.2 445.6,854.2 446.1,854.2 446.6,854.2 447.1,854.2 447.6,854.2 448.1,854.2 448.6,854.2 449.1,854.2 449.6,854.2 450.1,854.2 450.6,854.2 451.1,854.2 451.6,854.2 452.1,854.2 452.6,854.2 453.1,854.2 453.6,854.3 454.1,854.3 454.6,854.3 455.1,854.3 455.6,854.3 456.1,854.3 456.6,854.3 457.1,854.3 457.6,854.3 458.1,854.3 458.6,854.3 459.1,854.3 459.6,854.3 460.1,854.3 460.6,854.3 461.1,854.3 461.6,854.3 462.1,854.3 462.6,854.3 463.1,854.3 463.6,854.3 464.1,854.3 464.6,854.3 465.1,854.3 465.6,854.3 466.1,854.3 466.6,854.3 467.1,854.3 467.6,854.3 468.1,854.3 468.6,854.3 469.1,854.3 469.6,854.3 470.1,854.3 470.6,854.3 471.1,854.3 471.6,854.3 472.1,854.3 472.6,854.3 473.1,854.3 473.6,854.4 474.1,854.4 474.6,854.4 475.1,854.4 475.6,854.4 476.1,854.4 476.6,854.4 477.1,854.4 477.6,854.4 478.1,854.4 478.6,854.4 479.1,854.4 479.6,854.4 480.1,854.4 480.6,854.4 481.1,854.4 481.6,854.4 482.1,854.4 482.6,854.4 483.1,854.4 483.6,854.4 484.1,854.4 484.6,854.4 485.1,854.4 485.6,854.4 486.1,854.4 486.6,854.4 487.1,854.4 487.6,854.4 488.1,854.4 488.6,854.4 489.1,854.4 489.6,854.4 490.1,854.4 490.6,854.4 491.1,854.4 491.6,854.4 492.1,854.4 492.6,854.4 493.1,854.4 493.6,854.4 494.1,854.4 494.6,854.4 495.1,854.4 495.6,854.4 496.1,854.4 496.6,854.4 497.1,854.4 497.6,854.4 498.1,854.4 498.6,854.4 499.1,854.4 499.6,854.4 500.1,854.4 500.6,854.4 501.1,854.4 501.6,854.4 502.1,854.4 502.6,854.4 503.1,854.4 503.6,854.4 504.1,854.4 504.6,854.4 505.1,854.4 505.6,854.4 506.1,854.4 506.6,854.4 507.1,854.4 507.6,854.4 508.1,854.4 508.6,854.4 509.1,854.4 509.6,854.4 510.1,854.4 510.6,854.4 511.1,854.4 511.6,854.4 512.1,854.5 512.6,854.5 513.1,854.5 513.6,854.5 514.1,854.5 514.6,854.5 515.1,854.5 515.6,854.5 516.1,854.5 516.6,854.5 517.1,854.5 517.6,854.5 518.1,854.5 518.6,854.5 519.1,854.5 519.6,854.5 520.1,854.5 520.6,854.5 521.1,854.5 521.6,854.5 522.1,854.5 522.6,854.5 523.1,854.5 523.6,854.5 524.1,854.5 524.6,854.5 525.1,854.5 525.6,854.5 526.1,854.5 526.6,854.5 527.1,854.5 527.6,854.5 528.1,854.5 528.6,854.5 529.1,854.5 529.6,854.5 530.1,854.5 530.6,854.5 531.1,854.5 531.6,854.5 532.1,854.5 532.6,854.5 533.1,854.5 533.6,854.5 534.1,854.5 534.6,854.5 535.1,854.5 535.6,854.5 536.1,854.5 536.6,854.5 537.1,854.5 537.6,854.5 538.1,854.5 538.6,854.5 L538.6,854.5 L38.6,854.5 Z" fill="#e9a0e0" stroke="#c07ccc" stroke-width="1.6"/>
<path d="M38.6,853.1 39.1,853.1 39.6,853.0 40.1,852.9 40.6,852.9 41.1,852.8 41.6,852.7 42.1,852.7 42.6,852.6 43.1,852.5 43.6,852.4 44.1,852.3 44.6,852.2 45.1,852.1 45.6,852.0 46.1,851.8 46.6,851.7 47.1,851.6 47.6,851.4 48.1,851.3 48.6,851.1 49.1,850.9 49.6,850.8 50.1,850.6 50.6,850.4 51.1,850.1 51.6,849.9 52.1,849.7 52.6,849.5 53.1,849.2 53.6,849.0 54.1,848.7 54.6,848.5 55.1,848.3 55.6,848.0 56.1,847.8 56.6,847.6 57.1,847.4 57.6,847.3 58.1,847.2 58.6,847.1 59.1,847.0 59.6,847.0 60.1,847.0 60.6,847.1 61.1,847.2 61.6,847.3 62.1,847.4 62.6,847.6 63.1,847.8 63.6,848.0 64.1,848.3 64.6,848.5 65.1,848.7 65.6,849.0 66.1,849.2 66.6,849.5 67.1,849.7 67.6,849.9 68.1,850.1 68.6,850.4 69.1,850.6 69.6,850.8 70.1,850.9 70.6,851.1 71.1,851.3 71.6,851.4 72.1,851.6 72.6,851.7 73.1,851.8 73.6,852.0 74.1,852.1 74.6,852.2 75.1,852.3 75.6,852.4 76.1,852.5 76.6,852.6 77.1,852.7 77.6,852.7 78.1,852.8 78.6,852.9 79.1,852.9 79.6,853.0 80.1,853.1 80.6,853.1 81.1,853.2 81.6,853.2 82.1,853.3 82.6,853.3 83.1,853.4 83.6,853.4 84.1,853.4 84.6,853.5 85.1,853.5 85.6,853.5 86.1,853.6 86.6,853.6 87.1,853.6 87.6,853.7 88.1,853.7 88.6,853.7 89.1,853.7 89.6,853.8 90.1,853.8 90.6,853.8 91.1,853.8 91.6,853.8 92.1,853.9 92.6,853.9 93.1,853.9 93.6,853.9 94.1,853.9 94.6,853.9 95.1,853.9 95.6,854.0 96.1,854.0 96.6,854.0 97.1,854.0 97.6,854.0 98.1,854.0 98.6,854.0 99.1,854.0 99.6,854.1 100.1,854.1 100.6,854.1 101.1,854.1 101.6,854.1 102.1,854.1 102.6,854.1 103.1,854.1 103.6,854.1 104.1,854.1 104.6,854.1 105.1,854.2 105.6,854.2 106.1,854.2 106.6,854.2 107.1,854.2 107.6,854.2 108.1,854.2 108.6,854.2 109.1,854.2 109.6,854.2 110.1,854.2 110.6,854.2 111.1,854.2 111.6,854.2 112.1,854.2 112.6,854.2 113.1,854.2 113.6,854.3 114.1,854.3 114.6,854.3 115.1,854.3 115.6,854.3 116.1,854.3 116.6,854.3 117.1,854.3 117.6,854.3 118.1,854.3 118.6,854.3 119.1,854.3 119.6,854.3 120.1,854.3 120.6,854.3 121.1,854.3 121.6,854.3 122.1,854.3 122.6,854.3 123.1,854.3 123.6,854.3 124.1,854.3 124.6,854.3 125.1,854.3 125.6,854.3 126.1,854.3 126.6,854.3 127.1,854.3 127.6,854.3 128.1,854.3 128.6,854.3 129.1,854.3 129.6,854.4 130.1,854.4 130.6,854.4 131.1,854.4 131.6,854.4 132.1,854.4 132.6,854.4 133.1,854.4 133.6,854.4 134.1,854.4 134.6,854.4 135.1,854.4 135.6,854.4 136.1,854.4 136.6,854.4 137.1,854.4 137.6,854.4 138.1,854.4 138.6,854.4 139.1,854.4 139.6,854.4 140.1,854.4 140.6,854.4 141.1,854.4 141.6,854.4 142.1,854.4 142.6,854.4 143.1,854.4 143.6,854.4 144.1,854.4 144.6,854.4 145.1,854.4 145.6,854.4 146.1,854.4 146.6,854.4 147.1,854.4 147.6,854.4 148.1,854.4 148.6,854.4 149.1,854.4 149.6,854.4 150.1,854.4 150.6,854.4 151.1,854.4 151.6,854.4 152.1,854.4 152.6,854.4 153.1,854.4 153.6,854.4 154.1,854.4 154.6,854.4 155.1,854.4 155.6,854.4 156.1,854.4 156.6,854.4 157.1,854.4 157.6,854.4 158.1,854.4 158.6,854.4 159.1,854.4 159.6,854.4 160.1,854.4 160.6,854.4 161.1,854.4 161.6,854.4 162.1,854.4 162.6,854.4 163.1,854.4 163.6,854.4 164.1,854.4 164.6,854.4 165.1,854.4 165.6,854.4 166.1,854.4 166.6,854.4 167.1,854.4 167.6,854.4 168.1,854.4 168.6,854.4 169.1,854.4 169.6,854.4 170.1,854.4 170.6,854.4 171.1,854.4 171.6,854.4 172.1,854.4 172.6,854.4 173.1,854.4 173.6,854.4 174.1,854.4 174.6,854.4 175.1,854.4 175.6,854.4 176.1,854.4 176.6,854.4 177.1,854.4 177.6,854.4 178.1,854.4 178.6,854.4 179.1,854.4 179.6,854.4 180.1,854.4 180.6,854.4 181.1,854.4 181.6,854.4 182.1,854.5 182.6,854.5 183.1,854.5 183.6,854.5 184.1,854.5 184.6,854.5 185.1,854.5 185.6,854.5 186.1,854.5 186.6,854.5 187.1,854.5 187.6,854.5 188.1,854.5 188.6,854.5 189.1,854.5 189.6,854.5 190.1,854.5 190.6,854.5 191.1,854.5 191.6,854.5 192.1,854.5 192.6,854.5 193.1,854.5 193.6,854.5 194.1,854.5 194.6,854.5 195.1,854.5 195.6,854.5 196.1,854.5 196.6,854.5 197.1,854.5 197.6,854.5 198.1,854.5 198.6,854.5 199.1,854.5 199.6,854.5 200.1,854.5 200.6,854.5 201.1,854.5 201.6,854.5 202.1,854.5 202.6,854.5 203.1,854.5 203.6,854.5 204.1,854.5 204.6,854.5 205.1,854.5 205.6,854.5 206.1,854.5 206.6,854.5 207.1,854.5 207.6,854.5 208.1,854.5 208.6,854.5 209.1,854.5 209.6,854.5 210.1,854.5 210.6,854.5 211.1,854.5 211.6,854.5 212.1,854.5 212.6,854.5 213.1,854.5 213.6,854.5 214.1,854.5 214.6,854.5 215.1,854.5 215.6,854.5 216.1,854.5 216.6,854.5 217.1,854.5 217.6,854.5 218.1,854.5 218.6,854.5 219.1,854.5 219.6,854.5 220.1,854.5 220.6,854.5 221.1,854.5 221.6,854.5 222.1,854.5 222.6,854.5 223.1,854.5 223.6,854.5 224.1,854.5 224.6,854.5 225.1,854.5 225.6,854.5 226.1,854.5 226.6,854.5 227.1,854.5 227.6,854.5 228.1,854.5 228.6,854.5 229.1,854.5 229.6,854.5 230.1,854.5 230.6,854.5 231.1,854.5 231.6,854.5 232.1,854.5 232.6,854.5 233.1,854.5 233.6,854.5 234.1,854.5 234.6,854.5 235.1,854.5 235.6,854.5 236.1,854.5 236.6,854.5 237.1,854.5 237.6,854.5 238.1,854.5 238.6,854.5 239.1,854.5 239.6,854.5 240.1,854.5 240.6,854.5 241.1,854.5 241.6,854.5 242.1,854.5 242.6,854.5 243.1,854.5 243.6,854.5 244.1,854.5 244.6,854.5 245.1,854.5 245.6,854.5 246.1,854.5 246.6,854.5 247.1,854.5 247.6,854.5 248.1,854.5 248.6,854.5 249.1,854.5 249.6,854.5 250.1,854.5 250.6,854.5 251.1,854.5 251.6,854.5 252.1,854.5 252.6,854.5 253.1,854.5 253.6,854.5 254.1,854.5 254.6,854.5 255.1,854.5 255.6,854.5 256.1,854.5 256.6,854.5 257.1,854.5 257.6,854.5 258.1,854.5 258.6,854.5 259.1,854.5 259.6,854.5 260.1,854.5 260.6,854.5 261.1,854.5 261.6,854.5 262.1,854.5 262.6,854.5 263.1,854.5 263.6,854.5 264.1,854.5 264.6,854.5 265.1,854.5 265.6,854.5 266.1,854.5 266.6,854.5 267.1,854.5 267.6,854.5 268.1,854.5 268.6,854.5 269.1,854.5 269.6,854.5 270.1,854.5 270.6,854.5 271.1,854.5 271.6,854.5 272.1,854.5 272.6,854.5 273.1,854.5 273.6,854.5 274.1,854.5 274.6,854.5 275.1,854.5 275.6,854.5 276.1,854.5 276.6,854.5 277.1,854.5 277.6,854.5 278.1,854.5 278.6,854.5 279.1,854.5 279.6,854.5 280.1,854.5 280.6,854.5 281.1,854.5 281.6,854.5 282.1,854.5 282.6,854.5 283.1,854.5 283.6,854.5 284.1,854.5 284.6,854.5 285.1,854.5 285.6,854.5 286.1,854.5 286.6,854.5 287.1,854.5 287.6,854.5 288.1,854.5 288.6,854.5 289.1,854.5 289.6,854.5 290.1,854.5 290.6,854.5 291.1,854.5 291.6,854.5 292.1,854.5 292.6,854.5 293.1,854.5 293.6,854.5 294.1,854.5 294.6,854.5 295.1,854.5 295.6,854.5 296.1,854.5 296.6,854.5 297.1,854.5 297.6,854.5 298.1,854.5 298.6,854.5 299.1,854.5 299.6,854.5 300.1,854.5 300.6,854.5 301.1,854.5 301.6,854.5 302.1,854.5 302.6,854.5 303.1,854.5 303.6,854.5 304.1,854.5 304.6,854.5 305.1,854.5 305.6,854.5 306.1,854.5 306.6,854.5 307.1,854.5 307.6,854.5 308.1,854.5 308.6,854.5 309.1,854.5 309.6,854.5 310.1,854.5 310.6,854.5 311.1,854.5 311.6,854.5 312.1,854.5 312.6,854.5 313.1,854.5 313.6,854.5 314.1,854.5 314.6,854.5 315.1,854.5 315.6,854.5 316.1,854.5 316.6,854.5 317.1,854.5 317.6,854.5 318.1,854.5 318.6,854.5 319.1,854.5 319.6,854.5 320.1,854.5 320.6,854.5 321.1,854.5 321.6,854.5 322.1,854.5 322.6,854.5 323.1,854.5 323.6,854.5 324.1,854.5 324.6,854.5 325.1,854.5 325.6,854.5 326.1,854.5 326.6,854.5 327.1,854.5 327.6,854.5 328.1,854.5 328.6,854.5 329.1,854.5 329.6,854.5 330.1,854.5 330.6,854.5 331.1,854.5 331.6,854.5 332.1,854.5 332.6,854.5 333.1,854.5 333.6,854.5 334.1,854.5 334.6,854.5 335.1,854.5 335.6,854.5 336.1,854.5 336.6,854.5 337.1,854.5 337.6,854.5 338.1,854.5 338.6,854.5 339.1,854.5 339.6,854.5 340.1,854.5 340.6,854.5 341.1,854.5 341.6,854.5 342.1,854.5 342.6,854.5 343.1,854.5 343.6,854.5 344.1,854.5 344.6,854.5 345.1,854.5 345.6,854.5 346.1,854.5 346.6,854.5 347.1,854.5 347.6,854.5 348.1,854.5 348.6,854.5 349.1,854.5 349.6,854.5 350.1,854.5 350.6,854.5 351.1,854.5 351.6,854.5 352.1,854.5 352.6,854.5 353.1,854.5 353.6,854.5 354.1,854.5 354.6,854.5 355.1,854.5 355.6,854.5 356.1,854.5 356.6,854.5 357.1,854.5 357.6,854.5 358.1,854.5 358.6,854.5 359.1,854.5 359.6,854.5 360.1,854.5 360.6,854.5 361.1,854.5 361.6,854.5 362.1,854.5 362.6,854.5 363.1,854.5 363.6,854.5 364.1,854.5 364.6,854.5 365.1,854.5 365.6,854.5 366.1,854.5 366.6,854.5 367.1,854.5 367.6,854.5 368.1,854.5 368.6,854.5 369.1,854.5 369.6,854.5 370.1,854.5 370.6,854.5 371.1,854.5 371.6,854.5 372.1,854.5 372.6,854.5 373.1,854.5 373.6,854.5 374.1,854.5 374.6,854.5 375.1,854.5 375.6,854.5 376.1,854.5 376.6,854.5 377.1,854.5 377.6,854.5 378.1,854.5 378.6,854.5 379.1,854.5 379.6,854.5 380.1,854.5 380.6,854.5 381.1,854.5 381.6,854.5 382.1,854.5 382.6,854.5 383.1,854.5 383.6,854.5 384.1,854.5 384.6,854.5 385.1,854.5 385.6,854.5 386.1,854.5 386.6,854.5 387.1,854.5 387.6,854.5 388.1,854.5 388.6,854.5 389.1,854.5 389.6,854.5 390.1,854.5 390.6,854.5 391.1,854.5 391.6,854.5 392.1,854.5 392.6,854.5 393.1,854.5 393.6,854.5 394.1,854.5 394.6,854.5 395.1,854.5 395.6,854.5 396.1,854.5 396.6,854.5 397.1,854.5 397.6,854.5 398.1,854.5 398.6,854.5 399.1,854.5 399.6,854.5 400.1,854.5 400.6,854.5 401.1,854.5 401.6,854.5 402.1,854.5 402.6,854.5 403.1,854.5 403.6,854.5 404.1,854.5 404.6,854.5 405.1,854.5 405.6,854.5 406.1,854.5 406.6,854.5 407.1,854.5 407.6,854.5 408.1,854.5 408.6,854.5 409.1,854.5 409.6,854.5 410.1,854.5 410.6,854.5 411.1,854.5 411.6,854.5 412.1,854.5 412.6,854.5 413.1,854.5 413.6,854.5 414.1,854.5 414.6,854.5 415.1,854.5 415.6,854.5 416.1,854.5 416.6,854.5 417.1,854.5 417.6,854.5 418.1,854.5 418.6,854.5 419.1,854.5 419.6,854.5 420.1,854.5 420.6,854.5 421.1,854.5 421.6,854.5 422.1,854.5 422.6,854.5 423.1,854.5 423.6,854.5 424.1,854.5 424.6,854.5 425.1,854.5 425.6,854.5 426.1,854.5 426.6,854.5 427.1,854.5 427.6,854.5 428.1,854.5 428.6,854.5 429.1,854.5 429.6,854.5 430.1,854.5 430.6,854.5 431.1,854.5 431.6,854.5 432.1,854.5 432.6,854.5 433.1,854.5 433.6,854.5 434.1,854.5 434.6,854.5 435.1,854.5 435.6,854.5 436.1,854.5 436.6,854.5 437.1,854.5 437.6,854.5 438.1,854.5 438.6,854.5 439.1,854.5 439.6,854.5 440.1,854.5 440.6,854.5 441.1,854.5 441.6,854.5 442.1,854.5 442.6,854.5 443.1,854.5 443.6,854.5 444.1,854.5 444.6,854.5 445.1,854.5 445.6,854.5 446.1,854.5 446.6,854.5 447.1,854.5 447.6,854.5 448.1,854.5 448.6,854.5 449.1,854.5 449.6,854.5 450.1,854.5 450.6,854.5 451.1,854.5 451.6,854.5 452.1,854.5 452.6,854.5 453.1,854.5 453.6,854.5 454.1,854.5 454.6,854.5 455.1,854.5 455.6,854.5 456.1,854.5 456.6,854.5 457.1,854.5 457.6,854.5 458.1,854.5 458.6,854.5 459.1,854.5 459.6,854.5 460.1,854.5 460.6,854.5 461.1,854.5 461.6,854.5 462.1,854.5 462.6,854.5 463.1,854.5 463.6,854.5 464.1,854.5 464.6,854.5 465.1,854.5 465.6,854.5 466.1,854.5 466.6,854.5 467.1,854.5 467.6,854.5 468.1,854.5 468.6,854.5 469.1,854.5 469.6,854.5 470.1,854.5 470.6,854.5 471.1,854.5 471.6,854.5 472.1,854.5 472.6,854.5 473.1,854.5 473.6,854.5 474.1,854.5 474.6,854.5 475.1,854.5 475.6,854.5 476.1,854.5 476.6,854.5 477.1,854.5 477.6,854.5 478.1,854.5 478.6,854.5 479.1,854.5 479.6,854.5 480.1,854.5 480.6,854.5 481.1,854.5 481.6,854.5 482.1,854.5 482.6,854.5 483.1,854.5 483.6,854.5 484.1,854.5 484.6,854.5 485.1,854.5 485.6,854.5 486.1,854.5 486.6,854.5 487.1,854.5 487.6,854.5 488.1,854.5 488.6,854.5 489.1,854.5 489.6,854.5 490.1,854.5 490.6,854.5 491.1,854.5 491.6,854.5 492.1,854.5 492.6,854.5 493.1,854.5 493.6,854.5 494.1,854.5 494.6,854.5 495.1,854.5 495.6,854.5 496.1,854.5 496.6,854.5 497.1,854.5 497.6,854.5 498.1,854.5 498.6,854.5 499.1,854.5 499.6,854.5 500.1,854.5 500.6,854.5 501.1,854.5 501.6,854.5 502.1,854.5 502.6,854.5 503.1,854.5 503.6,854.5 504.1,854.5 504.6,854.5 505.1,854.5 505.6,854.5 506.1,854.5 506.6,854.5 507.1,854.5 507.6,854.5 508.1,854.5 508.6,854.5 509.1,854.5 509.6,854.5 510.1,854.5 510.6,854.5 511.1,854.5 511.6,854.5 512.1,854.5 512.6,854.5 513.1,854.5 513.6,854.5 514.1,854.5 514.6,854.5 515.1,854.5 515.6,854.5 516.1,854.5 516.6,854.5 517.1,854.5 517.6,854.5 518.1,854.5 518.6,854.5 519.1,854.5 519.6,854.5 520.1,854.5 520.6,854.5 521.1,854.5 521.6,854.5 522.1,854.5 522.6,854.5 523.1,854.5 523.6,854.5 524.1,854.5 524.6,854.5 525.1,854.5 525.6,854.5 526.1,854.5 526.6,854.5 527.1,854.5 527.6,854.5 528.1,854.5 528.6,854.5 529.1,854.5 529.6,854.5 530.1,854.5 530.6,854.5 531.1,854.5 531.6,854.5 532.1,854.5 532.6,854.5 533.1,854.5 533.6,854.5 534.1,854.5 534.6,854.5 535.1,854.5 535.6,854.5 536.1,854.5 536.6,854.5 537.1,854.5 537.6,854.5 538.1,854.5 538.6,854.5" fill="none" stroke="#737373" stroke-width="1.7"/>
<path d="M38.6,854.0 39.1,854.0 39.6,854.0 40.1,854.0 40.6,854.0 41.1,854.0 41.6,854.0 42.1,854.0 42.6,853.9 43.1,853.9 43.6,853.9 44.1,853.9 44.6,853.9 45.1,853.9 45.6,853.9 46.1,853.8 46.6,853.8 47.1,853.8 47.6,853.8 48.1,853.8 48.6,853.8 49.1,853.7 49.6,853.7 50.1,853.7 50.6,853.7 51.1,853.7 51.6,853.6 52.1,853.6 52.6,853.6 53.1,853.5 53.6,853.5 54.1,853.5 54.6,853.5 55.1,853.4 55.6,853.4 56.1,853.3 56.6,853.3 57.1,853.3 57.6,853.2 58.1,853.2 58.6,853.1 59.1,853.1 59.6,853.0 60.1,853.0 60.6,852.9 61.1,852.9 61.6,852.8 62.1,852.7 62.6,852.6 63.1,852.6 63.6,852.5 64.1,852.4 64.6,852.3 65.1,852.2 65.6,852.1 66.1,852.0 66.6,851.8 67.1,851.7 67.6,851.5 68.1,851.4 68.6,851.2 69.1,851.0 69.6,850.8 70.1,850.6 70.6,850.3 71.1,850.1 71.6,849.8 72.1,849.4 72.6,849.1 73.1,848.7 73.6,848.2 74.1,847.7 74.6,847.2 75.1,846.5 75.6,845.8 76.1,845.0 76.6,844.1 77.1,843.0 77.6,841.8 78.1,840.4 78.6,838.7 79.1,836.8 79.6,834.5 80.1,831.7 80.6,828.4 81.1,824.4 81.6,819.6 82.1,813.7 82.6,806.5 83.1,797.9 83.6,787.7 84.1,776.0 84.6,763.4 85.1,751.4 85.6,742.0 86.1,737.6 86.6,739.5 87.1,747.2 87.6,758.4 88.1,771.0 88.6,783.2 89.1,794.0 89.6,803.3 90.1,811.0 90.6,817.4 91.1,822.6 91.6,826.9 92.1,830.5 92.6,833.4 93.1,835.9 93.6,838.0 94.1,839.8 94.6,841.3 95.1,842.6 95.6,843.7 96.1,844.7 96.6,845.5 97.1,846.3 97.6,846.9 98.1,847.5 98.6,848.0 99.1,848.5 99.6,848.9 100.1,849.3 100.6,849.6 101.1,849.9 101.6,850.2 102.1,850.5 102.6,850.7 103.1,850.9 103.6,851.1 104.1,851.3 104.6,851.5 105.1,851.6 105.6,851.8 106.1,851.9 106.6,852.0 107.1,852.1 107.6,852.2 108.1,852.3 108.6,852.4 109.1,852.5 109.6,852.6 110.1,852.7 110.6,852.8 111.1,852.8 111.6,852.9 112.1,853.0 112.6,853.0 113.1,853.1 113.6,853.1 114.1,853.2 114.6,853.2 115.1,853.3 115.6,853.3 116.1,853.3 116.6,853.4 117.1,853.4 117.6,853.4 118.1,853.5 118.6,853.5 119.1,853.5 119.6,853.6 120.1,853.6 120.6,853.6 121.1,853.6 121.6,853.7 122.1,853.7 122.6,853.7 123.1,853.7 123.6,853.8 124.1,853.8 124.6,853.8 125.1,853.8 125.6,853.8 126.1,853.8 126.6,853.9 127.1,853.9 127.6,853.9 128.1,853.9 128.6,853.9 129.1,853.9 129.6,853.9 130.1,854.0 130.6,854.0 131.1,854.0 131.6,854.0 132.1,854.0 132.6,854.0 133.1,854.0 133.6,854.0 134.1,854.0 134.6,854.1 135.1,854.1 135.6,854.1 136.1,854.1 136.6,854.1 137.1,854.1 137.6,854.1 138.1,854.1 138.6,854.1 139.1,854.1 139.6,854.1 140.1,854.1 140.6,854.1 141.1,854.2 141.6,854.2 142.1,854.2 142.6,854.2 143.1,854.2 143.6,854.2 144.1,854.2 144.6,854.2 145.1,854.2 145.6,854.2 146.1,854.2 146.6,854.2 147.1,854.2 147.6,854.2 148.1,854.2 148.6,854.2 149.1,854.2 149.6,854.2 150.1,854.2 150.6,854.2 151.1,854.3 151.6,854.3 152.1,854.3 152.6,854.3 153.1,854.3 153.6,854.3 154.1,854.3 154.6,854.3 155.1,854.3 155.6,854.3 156.1,854.3 156.6,854.3 157.1,854.3 157.6,854.3 158.1,854.3 158.6,854.3 159.1,854.3 159.6,854.3 160.1,854.3 160.6,854.3 161.1,854.3 161.6,854.3 162.1,854.3 162.6,854.3 163.1,854.3 163.6,854.3 164.1,854.3 164.6,854.3 165.1,854.3 165.6,854.3 166.1,854.3 166.6,854.3 167.1,854.3 167.6,854.3 168.1,854.3 168.6,854.3 169.1,854.3 169.6,854.3 170.1,854.4 170.6,854.4 171.1,854.4 171.6,854.4 172.1,854.4 172.6,854.4 173.1,854.4 173.6,854.4 174.1,854.4 174.6,854.4 175.1,854.4 175.6,854.4 176.1,854.4 176.6,854.4 177.1,854.4 177.6,854.4 178.1,854.4 178.6,854.4 179.1,854.4 179.6,854.4 180.1,854.4 180.6,854.4 181.1,854.4 181.6,854.4 182.1,854.4 182.6,854.4 183.1,854.4 183.6,854.4 184.1,854.4 184.6,854.4 185.1,854.4 185.6,854.4 186.1,854.4 186.6,854.4 187.1,854.4 187.6,854.4 188.1,854.4 188.6,854.4 189.1,854.4 189.6,854.4 190.1,854.4 190.6,854.4 191.1,854.4 191.6,854.4 192.1,854.4 192.6,854.4 193.1,854.4 193.6,854.4 194.1,854.4 194.6,854.4 195.1,854.4 195.6,854.4 196.1,854.4 196.6,854.4 197.1,854.4 197.6,854.4 198.1,854.4 198.6,854.4 199.1,854.4 199.6,854.4 200.1,854.4 200.6,854.4 201.1,854.4 201.6,854.4 202.1,854.4 202.6,854.4 203.1,854.4 203.6,854.4 204.1,854.4 204.6,854.4 205.1,854.4 205.6,854.4 206.1,854.4 206.6,854.4 207.1,854.4 207.6,854.4 208.1,854.4 208.6,854.4 209.1,854.4 209.6,854.4 210.1,854.4 210.6,854.4 211.1,854.4 211.6,854.4 212.1,854.4 212.6,854.4 213.1,854.4 213.6,854.4 214.1,854.4 214.6,854.4 215.1,854.4 215.6,854.4 216.1,854.4 216.6,854.4 217.1,854.4 217.6,854.4 218.1,854.4 218.6,854.4 219.1,854.4 219.6,854.4 220.1,854.4 220.6,854.4 221.1,854.4 221.6,854.4 222.1,854.4 222.6,854.4 223.1,854.4 223.6,854.4 224.1,854.4 224.6,854.4 225.1,854.4 225.6,854.4 226.1,854.4 226.6,854.4 227.1,854.4 227.6,854.4 228.1,854.4 228.6,854.4 229.1,854.4 229.6,854.4 230.1,854.4 230.6,854.4 231.1,854.4 231.6,854.5 232.1,854.5 232.6,854.5 233.1,854.5 233.6,854.5 234.1,854.5 234.6,854.5 235.1,854.5 235.6,854.5 236.1,854.5 236.6,854.5 237.1,854.5 237.6,854.5 238.1,854.5 238.6,854.5 239.1,854.5 239.6,854.5 240.1,854.5 240.6,854.5 241.1,854.5 241.6,854.5 242.1,854.5 242.6,854.5 243.1,854.5 243.6,854.5 244.1,854.5 244.6,854.5 245.1,854.5 245.6,854.5 246.1,854.5 246.6,854.5 247.1,854.5 247.6,854.5 248.1,854.5 248.6,854.5 249.1,854.5 249.6,854.5 250.1,854.5 250.6,854.5 251.1,854.5 251.6,854.5 252.1,854.5 252.6,854.5 253.1,854.5 253.6,854.5 254.1,854.5 254.6,854.5 255.1,854.5 255.6,854.5 256.1,854.5 256.6,854.5 257.1,854.5 257.6,854.5 258.1,854.5 258.6,854.5 259.1,854.5 259.6,854.5 260.1,854.5 260.6,854.5 261.1,854.5 261.6,854.5 262.1,854.5 262.6,854.5 263.1,854.5 263.6,854.5 264.1,854.5 264.6,854.5 265.1,854.5 265.6,854.5 266.1,854.5 266.6,854.5 267.1,854.5 267.6,854.5 268.1,854.5 268.6,854.5 269.1,854.5 269.6,854.5 270.1,854.5 270.6,854.5 271.1,854.5 271.6,854.5 272.1,854.5 272.6,854.5 273.1,854.5 273.6,854.5 274.1,854.5 274.6,854.5 275.1,854.5 275.6,854.5 276.1,854.5 276.6,854.5 277.1,854.5 277.6,854.5 278.1,854.5 278.6,854.5 279.1,854.5 279.6,854.5 280.1,854.5 280.6,854.5 281.1,854.5 281.6,854.5 282.1,854.5 282.6,854.5 283.1,854.5 283.6,854.5 284.1,854.5 284.6,854.5 285.1,854.5 285.6,854.5 286.1,854.5 286.6,854.5 287.1,854.5 287.6,854.5 288.1,854.5 288.6,854.5 289.1,854.5 289.6,854.5 290.1,854.5 290.6,854.5 291.1,854.5 291.6,854.5 292.1,854.5 292.6,854.5 293.1,854.5 293.6,854.5 294.1,854.5 294.6,854.5 295.1,854.5 295.6,854.5 296.1,854.5 296.6,854.5 297.1,854.5 297.6,854.5 298.1,854.5 298.6,854.5 299.1,854.5 299.6,854.5 300.1,854.5 300.6,854.5 301.1,854.5 301.6,854.5 302.1,854.5 302.6,854.5 303.1,854.5 303.6,854.5 304.1,854.5 304.6,854.5 305.1,854.5 305.6,854.5 306.1,854.5 306.6,854.5 307.1,854.5 307.6,854.5 308.1,854.5 308.6,854.5 309.1,854.5 309.6,854.5 310.1,854.5 310.6,854.5 311.1,854.5 311.6,854.5 312.1,854.5 312.6,854.5 313.1,854.5 313.6,854.5 314.1,854.5 314.6,854.5 315.1,854.5 315.6,854.5 316.1,854.5 316.6,854.5 317.1,854.5 317.6,854.5 318.1,854.5 318.6,854.5 319.1,854.5 319.6,854.5 320.1,854.5 320.6,854.5 321.1,854.5 321.6,854.5 322.1,854.5 322.6,854.5 323.1,854.5 323.6,854.5 324.1,854.5 324.6,854.5 325.1,854.5 325.6,854.5 326.1,854.5 326.6,854.5 327.1,854.5 327.6,854.5 328.1,854.5 328.6,854.5 329.1,854.5 329.6,854.5 330.1,854.5 330.6,854.5 331.1,854.5 331.6,854.5 332.1,854.5 332.6,854.5 333.1,854.5 333.6,854.5 334.1,854.5 334.6,854.5 335.1,854.5 335.6,854.5 336.1,854.5 336.6,854.5 337.1,854.5 337.6,854.5 338.1,854.5 338.6,854.5 339.1,854.5 339.6,854.5 340.1,854.5 340.6,854.5 341.1,854.5 341.6,854.5 342.1,854.5 342.6,854.5 343.1,854.5 343.6,854.5 344.1,854.5 344.6,854.5 345.1,854.5 345.6,854.5 346.1,854.5 346.6,854.5 347.1,854.5 347.6,854.5 348.1,854.5 348.6,854.5 349.1,854.5 349.6,854.5 350.1,854.5 350.6,854.5 351.1,854.5 351.6,854.5 352.1,854.5 352.6,854.5 353.1,854.5 353.6,854.5 354.1,854.5 354.6,854.5 355.1,854.5 355.6,854.5 356.1,854.5 356.6,854.5 357.1,854.5 357.6,854.5 358.1,854.5 358.6,854.5 359.1,854.5 359.6,854.5 360.1,854.5 360.6,854.5 361.1,854.5 361.6,854.5 362.1,854.5 362.6,854.5 363.1,854.5 363.6,854.5 364.1,854.5 364.6,854.5 365.1,854.5 365.6,854.5 366.1,854.5 366.6,854.5 367.1,854.5 367.6,854.5 368.1,854.5 368.6,854.5 369.1,854.5 369.6,854.5 370.1,854.5 370.6,854.5 371.1,854.5 371.6,854.5 372.1,854.5 372.6,854.5 373.1,854.5 373.6,854.5 374.1,854.5 374.6,854.5 375.1,854.5 375.6,854.5 376.1,854.5 376.6,854.5 377.1,854.5 377.6,854.5 378.1,854.5 378.6,854.5 379.1,854.5 379.6,854.5 380.1,854.5 380.6,854.5 381.1,854.5 381.6,854.5 382.1,854.5 382.6,854.5 383.1,854.5 383.6,854.5 384.1,854.5 384.6,854.5 385.1,854.5 385.6,854.5 386.1,854.5 386.6,854.5 387.1,854.5 387.6,854.5 388.1,854.5 388.6,854.5 389.1,854.5 389.6,854.5 390.1,854.5 390.6,854.5 391.1,854.5 391.6,854.5 392.1,854.5 392.6,854.5 393.1,854.5 393.6,854.5 394.1,854.5 394.6,854.5 395.1,854.5 395.6,854.5 396.1,854.5 396.6,854.5 397.1,854.5 397.6,854.5 398.1,854.5 398.6,854.5 399.1,854.5 399.6,854.5 400.1,854.5 400.6,854.5 401.1,854.5 401.6,854.5 402.1,854.5 402.6,854.5 403.1,854.5 403.6,854.5 404.1,854.5 404.6,854.5 405.1,854.5 405.6,854.5 406.1,854.5 406.6,854.5 407.1,854.5 407.6,854.5 408.1,854.5 408.6,854.5 409.1,854.5 409.6,854.5 410.1,854.5 410.6,854.5 411.1,854.5 411.6,854.5 412.1,854.5 412.6,854.5 413.1,854.5 413.6,854.5 414.1,854.5 414.6,854.5 415.1,854.5 415.6,854.5 416.1,854.5 416.6,854.5 417.1,854.5 417.6,854.5 418.1,854.5 418.6,854.5 419.1,854.5 419.6,854.5 420.1,854.5 420.6,854.5 421.1,854.5 421.6,854.5 422.1,854.5 422.6,854.5 423.1,854.5 423.6,854.5 424.1,854.5 424.6,854.5 425.1,854.5 425.6,854.5 426.1,854.5 426.6,854.5 427.1,854.5 427.6,854.5 428.1,854.5 428.6,854.5 429.1,854.5 429.6,854.5 430.1,854.5 430.6,854.5 431.1,854.5 431.6,854.5 432.1,854.5 432.6,854.5 433.1,854.5 433.6,854.5 434.1,854.5 434.6,854.5 435.1,854.5 435.6,854.5 436.1,854.5 436.6,854.5 437.1,854.5 437.6,854.5 438.1,854.5 438.6,854.5 439.1,854.5 439.6,854.5 440.1,854.5 440.6,854.5 441.1,854.5 441.6,854.5 442.1,854.5 442.6,854.5 443.1,854.5 443.6,854.5 444.1,854.5 444.6,854.5 445.1,854.5 445.6,854.5 446.1,854.5 446.6,854.5 447.1,854.5 447.6,854.5 448.1,854.5 448.6,854.5 449.1,854.5 449.6,854.5 450.1,854.5 450.6,854.5 451.1,854.5 451.6,854.5 452.1,854.5 452.6,854.5 453.1,854.5 453.6,854.5 454.1,854.5 454.6,854.5 455.1,854.5 455.6,854.5 456.1,854.5 456.6,854.5 457.1,854.5 457.6,854.5 458.1,854.5 458.6,854.5 459.1,854.5 459.6,854.5 460.1,854.5 460.6,854.5 461.1,854.5 461.6,854.5 462.1,854.5 462.6,854.5 463.1,854.5 463.6,854.5 464.1,854.5 464.6,854.5 465.1,854.5 465.6,854.5 466.1,854.5 466.6,854.5 467.1,854.5 467.6,854.5 468.1,854.5 468.6,854.5 469.1,854.5 469.6,854.5 470.1,854.5 470.6,854.5 471.1,854.5 471.6,854.5 472.1,854.5 472.6,854.5 473.1,854.5 473.6,854.5 474.1,854.5 474.6,854.5 475.1,854.5 475.6,854.5 476.1,854.5 476.6,854.5 477.1,854.5 477.6,854.5 478.1,854.5 478.6,854.5 479.1,854.5 479.6,854.5 480.1,854.5 480.6,854.5 481.1,854.5 481.6,854.5 482.1,854.5 482.6,854.5 483.1,854.5 483.6,854.5 484.1,854.5 484.6,854.5 485.1,854.5 485.6,854.5 486.1,854.5 486.6,854.5 487.1,854.5 487.6,854.5 488.1,854.5 488.6,854.5 489.1,854.5 489.6,854.5 490.1,854.5 490.6,854.5 491.1,854.5 491.6,854.5 492.1,854.5 492.6,854.5 493.1,854.5 493.6,854.5 494.1,854.5 494.6,854.5 495.1,854.5 495.6,854.5 496.1,854.5 496.6,854.5 497.1,854.5 497.6,854.5 498.1,854.5 498.6,854.5 499.1,854.5 499.6,854.5 500.1,854.5 500.6,854.5 501.1,854.5 501.6,854.5 502.1,854.5 502.6,854.5 503.1,854.5 503.6,854.5 504.1,854.5 504.6,854.5 505.1,854.5 505.6,854.5 506.1,854.5 506.6,854.5 507.1,854.5 507.6,854.5 508.1,854.5 508.6,854.5 509.1,854.5 509.6,854.5 510.1,854.5 510.6,854.5 511.1,854.5 511.6,854.5 512.1,854.5 512.6,854.5 513.1,854.5 513.6,854.5 514.1,854.5 514.6,854.5 515.1,854.5 515.6,854.5 516.1,854.5 516.6,854.5 517.1,854.5 517.6,854.5 518.1,854.5 518.6,854.5 519.1,854.5 519.6,854.5 520.1,854.5 520.6,854.5 521.1,854.5 521.6,854.5 522.1,854.5 522.6,854.5 523.1,854.5 523.6,854.5 524.1,854.5 524.6,854.5 525.1,854.5 525.6,854.5 526.1,854.5 526.6,854.5 527.1,854.5 527.6,854.5 528.1,854.5 528.6,854.5 529.1,854.5 529.6,854.5 530.1,854.5 530.6,854.5 531.1,854.5 531.6,854.5 532.1,854.5 532.6,854.5 533.1,854.5 533.6,854.5 534.1,854.5 534.6,854.5 535.1,854.5 535.6,854.5 536.1,854.5 536.6,854.5 537.1,854.5 537.6,854.5 538.1,854.5 538.6,854.5" fill="none" stroke="#737373" stroke-width="1.7"/>
<path d="M38.6,853.1 39.1,853.1 39.6,853.0 40.1,853.0 40.6,853.0 41.1,853.0 41.6,853.0 42.1,852.9 42.6,852.9 43.1,852.9 43.6,852.9 44.1,852.8 44.6,852.8 45.1,852.8 45.6,852.8 46.1,852.8 46.6,852.7 47.1,852.7 47.6,852.7 48.1,852.6 48.6,852.6 49.1,852.6 49.6,852.6 50.1,852.5 50.6,852.5 51.1,852.5 51.6,852.4 52.1,852.4 52.6,852.4 53.1,852.3 53.6,852.3 54.1,852.3 54.6,852.2 55.1,852.2 55.6,852.2 56.1,852.1 56.6,852.1 57.1,852.0 57.6,852.0 58.1,852.0 58.6,851.9 59.1,851.9 59.6,851.8 60.1,851.8 60.6,851.7 61.1,851.7 61.6,851.6 62.1,851.6 62.6,851.5 63.1,851.5 63.6,851.4 64.1,851.3 64.6,851.3 65.1,851.2 65.6,851.2 66.1,851.1 66.6,851.0 67.1,850.9 67.6,850.9 68.1,850.8 68.6,850.7 69.1,850.6 69.6,850.6 70.1,850.5 70.6,850.4 71.1,850.3 71.6,850.2 72.1,850.1 72.6,850.0 73.1,849.9 73.6,849.8 74.1,849.7 74.6,849.6 75.1,849.4 75.6,849.3 76.1,849.2 76.6,849.1 77.1,848.9 77.6,848.8 78.1,848.6 78.6,848.5 79.1,848.3 79.6,848.2 80.1,848.0 80.6,847.8 81.1,847.6 81.6,847.4 82.1,847.2 82.6,847.0 83.1,846.8 83.6,846.5 84.1,846.3 84.6,846.1 85.1,845.8 85.6,845.5 86.1,845.2 86.6,844.9 87.1,844.6 87.6,844.3 88.1,843.9 88.6,843.6 89.1,843.2 89.6,842.8 90.1,842.3 90.6,841.9 91.1,841.4 91.6,840.9 92.1,840.4 92.6,839.8 93.1,839.2 93.6,838.6 94.1,837.9 94.6,837.2 95.1,836.4 95.6,835.6 96.1,834.8 96.6,833.9 97.1,832.9 97.6,831.9 98.1,830.8 98.6,829.6 99.1,828.4 99.6,827.0 100.1,825.6 100.6,824.0 101.1,822.4 101.6,820.6 102.1,818.6 102.6,816.6 103.1,814.3 103.6,812.0 104.1,809.4 104.6,806.6 105.1,803.6 105.6,800.4 106.1,797.0 106.6,793.3 107.1,789.3 107.6,785.1 108.1,780.7 108.6,776.0 109.1,771.0 109.6,765.9 110.1,760.6 110.6,755.3 111.1,750.0 111.6,744.7 112.1,739.7 112.6,735.1 113.1,731.0 113.6,727.6 114.1,724.9 114.6,723.2 115.1,722.5 115.6,722.8 116.1,724.1 116.6,726.4 117.1,729.5 117.6,733.4 118.1,737.8 118.6,742.7 119.1,747.8 119.6,753.2 120.1,758.5 120.6,763.8 121.1,769.0 121.6,774.0 122.1,778.8 122.6,783.4 123.1,787.7 123.6,791.7 124.1,795.5 124.6,799.1 125.1,802.4 125.6,805.4 126.1,808.3 126.6,810.9 127.1,813.4 127.6,815.7 128.1,817.8 128.6,819.8 129.1,821.7 129.6,823.4 130.1,825.0 130.6,826.4 131.1,827.8 131.6,829.1 132.1,830.3 132.6,831.5 133.1,832.5 133.6,833.5 134.1,834.4 134.6,835.3 135.1,836.1 135.6,836.9 136.1,837.6 136.6,838.3 137.1,839.0 137.6,839.6 138.1,840.1 138.6,840.7 139.1,841.2 139.6,841.7 140.1,842.1 140.6,842.6 141.1,843.0 141.6,843.4 142.1,843.8 142.6,844.1 143.1,844.5 143.6,844.8 144.1,845.1 144.6,845.4 145.1,845.7 145.6,846.0 146.1,846.2 146.6,846.5 147.1,846.7 147.6,846.9 148.1,847.1 148.6,847.3 149.1,847.5 149.6,847.7 150.1,847.9 150.6,848.1 151.1,848.3 151.6,848.4 152.1,848.6 152.6,848.7 153.1,848.9 153.6,849.0 154.1,849.1 154.6,849.3 155.1,849.4 155.6,849.5 156.1,849.6 156.6,849.7 157.1,849.9 157.6,850.0 158.1,850.1 158.6,850.2 159.1,850.3 159.6,850.3 160.1,850.4 160.6,850.5 161.1,850.6 161.6,850.7 162.1,850.8 162.6,850.8 163.1,850.9 163.6,851.0 164.1,851.1 164.6,851.1 165.1,851.2 165.6,851.3 166.1,851.3 166.6,851.4 167.1,851.4 167.6,851.5 168.1,851.5 168.6,851.6 169.1,851.7 169.6,851.7 170.1,851.8 170.6,851.8 171.1,851.9 171.6,851.9 172.1,851.9 172.6,852.0 173.1,852.0 173.6,852.1 174.1,852.1 174.6,852.1 175.1,852.2 175.6,852.2 176.1,852.3 176.6,852.3 177.1,852.3 177.6,852.4 178.1,852.4 178.6,852.4 179.1,852.5 179.6,852.5 180.1,852.5 180.6,852.6 181.1,852.6 181.6,852.6 182.1,852.6 182.6,852.7 183.1,852.7 183.6,852.7 184.1,852.7 184.6,852.8 185.1,852.8 185.6,852.8 186.1,852.8 186.6,852.9 187.1,852.9 187.6,852.9 188.1,852.9 188.6,853.0 189.1,853.0 189.6,853.0 190.1,853.0 190.6,853.0 191.1,853.0 191.6,853.1 192.1,853.1 192.6,853.1 193.1,853.1 193.6,853.1 194.1,853.2 194.6,853.2 195.1,853.2 195.6,853.2 196.1,853.2 196.6,853.2 197.1,853.3 197.6,853.3 198.1,853.3 198.6,853.3 199.1,853.3 199.6,853.3 200.1,853.3 200.6,853.4 201.1,853.4 201.6,853.4 202.1,853.4 202.6,853.4 203.1,853.4 203.6,853.4 204.1,853.4 204.6,853.5 205.1,853.5 205.6,853.5 206.1,853.5 206.6,853.5 207.1,853.5 207.6,853.5 208.1,853.5 208.6,853.5 209.1,853.5 209.6,853.6 210.1,853.6 210.6,853.6 211.1,853.6 211.6,853.6 212.1,853.6 212.6,853.6 213.1,853.6 213.6,853.6 214.1,853.6 214.6,853.7 215.1,853.7 215.6,853.7 216.1,853.7 216.6,853.7 217.1,853.7 217.6,853.7 218.1,853.7 218.6,853.7 219.1,853.7 219.6,853.7 220.1,853.7 220.6,853.7 221.1,853.8 221.6,853.8 222.1,853.8 222.6,853.8 223.1,853.8 223.6,853.8 224.1,853.8 224.6,853.8 225.1,853.8 225.6,853.8 226.1,853.8 226.6,853.8 227.1,853.8 227.6,853.8 228.1,853.8 228.6,853.8 229.1,853.9 229.6,853.9 230.1,853.9 230.6,853.9 231.1,853.9 231.6,853.9 232.1,853.9 232.6,853.9 233.1,853.9 233.6,853.9 234.1,853.9 234.6,853.9 235.1,853.9 235.6,853.9 236.1,853.9 236.6,853.9 237.1,853.9 237.6,853.9 238.1,853.9 238.6,853.9 239.1,854.0 239.6,854.0 240.1,854.0 240.6,854.0 241.1,854.0 241.6,854.0 242.1,854.0 242.6,854.0 243.1,854.0 243.6,854.0 244.1,854.0 244.6,854.0 245.1,854.0 245.6,854.0 246.1,854.0 246.6,854.0 247.1,854.0 247.6,854.0 248.1,854.0 248.6,854.0 249.1,854.0 249.6,854.0 250.1,854.0 250.6,854.0 251.1,854.0 251.6,854.0 252.1,854.1 252.6,854.1 253.1,854.1 253.6,854.1 254.1,854.1 254.6,854.1 255.1,854.1 255.6,854.1 256.1,854.1 256.6,854.1 257.1,854.1 257.6,854.1 258.1,854.1 258.6,854.1 259.1,854.1 259.6,854.1 260.1,854.1 260.6,854.1 261.1,854.1 261.6,854.1 262.1,854.1 262.6,854.1 263.1,854.1 263.6,854.1 264.1,854.1 264.6,854.1 265.1,854.1 265.6,854.1 266.1,854.1 266.6,854.1 267.1,854.1 267.6,854.1 268.1,854.1 268.6,854.1 269.1,854.1 269.6,854.1 270.1,854.1 270.6,854.2 271.1,854.2 271.6,854.2 272.1,854.2 272.6,854.2 273.1,854.2 273.6,854.2 274.1,854.2 274.6,854.2 275.1,854.2 275.6,854.2 276.1,854.2 276.6,854.2 277.1,854.2 277.6,854.2 278.1,854.2 278.6,854.2 279.1,854.2 279.6,854.2 280.1,854.2 280.6,854.2 281.1,854.2 281.6,854.2 282.1,854.2 282.6,854.2 283.1,854.2 283.6,854.2 284.1,854.2 284.6,854.2 285.1,854.2 285.6,854.2 286.1,854.2 286.6,854.2 287.1,854.2 287.6,854.2 288.1,854.2 288.6,854.2 289.1,854.2 289.6,854.2 290.1,854.2 290.6,854.2 291.1,854.2 291.6,854.2 292.1,854.2 292.6,854.2 293.1,854.2 293.6,854.2 294.1,854.2 294.6,854.2 295.1,854.2 295.6,854.2 296.1,854.2 296.6,854.2 297.1,854.2 297.6,854.2 298.1,854.2 298.6,854.2 299.1,854.3 299.6,854.3 300.1,854.3 300.6,854.3 301.1,854.3 301.6,854.3 302.1,854.3 302.6,854.3 303.1,854.3 303.6,854.3 304.1,854.3 304.6,854.3 305.1,854.3 305.6,854.3 306.1,854.3 306.6,854.3 307.1,854.3 307.6,854.3 308.1,854.3 308.6,854.3 309.1,854.3 309.6,854.3 310.1,854.3 310.6,854.3 311.1,854.3 311.6,854.3 312.1,854.3 312.6,854.3 313.1,854.3 313.6,854.3 314.1,854.3 314.6,854.3 315.1,854.3 315.6,854.3 316.1,854.3 316.6,854.3 317.1,854.3 317.6,854.3 318.1,854.3 318.6,854.3 319.1,854.3 319.6,854.3 320.1,854.3 320.6,854.3 321.1,854.3 321.6,854.3 322.1,854.3 322.6,854.3 323.1,854.3 323.6,854.3 324.1,854.3 324.6,854.3 325.1,854.3 325.6,854.3 326.1,854.3 326.6,854.3 327.1,854.3 327.6,854.3 328.1,854.3 328.6,854.3 329.1,854.3 329.6,854.3 330.1,854.3 330.6,854.3 331.1,854.3 331.6,854.3 332.1,854.3 332.6,854.3 333.1,854.3 333.6,854.3 334.1,854.3 334.6,854.3 335.1,854.3 335.6,854.3 336.1,854.3 336.6,854.3 337.1,854.3 337.6,854.3 338.1,854.3 338.6,854.3 339.1,854.3 339.6,854.3 340.1,854.3 340.6,854.3 341.1,854.3 341.6,854.3 342.1,854.3 342.6,854.3 343.1,854.3 343.6,854.3 344.1,854.3 344.6,854.3 345.1,854.3 345.6,854.3 346.1,854.3 346.6,854.3 347.1,854.3 347.6,854.3 348.1,854.3 348.6,854.3 349.1,854.3 349.6,854.3 350.1,854.3 350.6,854.3 351.1,854.3 351.6,854.3 352.1,854.3 352.6,854.4 353.1,854.4 353.6,854.4 354.1,854.4 354.6,854.4 355.1,854.4 355.6,854.4 356.1,854.4 356.6,854.4 357.1,854.4 357.6,854.4 358.1,854.4 358.6,854.4 359.1,854.4 359.6,854.4 360.1,854.4 360.6,854.4 361.1,854.4 361.6,854.4 362.1,854.4 362.6,854.4 363.1,854.4 363.6,854.4 364.1,854.4 364.6,854.4 365.1,854.4 365.6,854.4 366.1,854.4 366.6,854.4 367.1,854.4 367.6,854.4 368.1,854.4 368.6,854.4 369.1,854.4 369.6,854.4 370.1,854.4 370.6,854.4 371.1,854.4 371.6,854.4 372.1,854.4 372.6,854.4 373.1,854.4 373.6,854.4 374.1,854.4 374.6,854.4 375.1,854.4 375.6,854.4 376.1,854.4 376.6,854.4 377.1,854.4 377.6,854.4 378.1,854.4 378.6,854.4 379.1,854.4 379.6,854.4 380.1,854.4 380.6,854.4 381.1,854.4 381.6,854.4 382.1,854.4 382.6,854.4 383.1,854.4 383.6,854.4 384.1,854.4 384.6,854.4 385.1,854.4 385.6,854.4 386.1,854.4 386.6,854.4 387.1,854.4 387.6,854.4 388.1,854.4 388.6,854.4 389.1,854.4 389.6,854.4 390.1,854.4 390.6,854.4 391.1,854.4 391.6,854.4 392.1,854.4 392.6,854.4 393.1,854.4 393.6,854.4 394.1,854.4 394.6,854.4 395.1,854.4 395.6,854.4 396.1,854.4 396.6,854.4 397.1,854.4 397.6,854.4 398.1,854.4 398.6,854.4 399.1,854.4 399.6,854.4 400.1,854.4 400.6,854.4 401.1,854.4 401.6,854.4 402.1,854.4 402.6,854.4 403.1,854.4 403.6,854.4 404.1,854.4 404.6,854.4 405.1,854.4 405.6,854.4 406.1,854.4 406.6,854.4 407.1,854.4 407.6,854.4 408.1,854.4 408.6,854.4 409.1,854.4 409.6,854.4 410.1,854.4 410.6,854.4 411.1,854.4 411.6,854.4 412.1,854.4 412.6,854.4 413.1,854.4 413.6,854.4 414.1,854.4 414.6,854.4 415.1,854.4 415.6,854.4 416.1,854.4 416.6,854.4 417.1,854.4 417.6,854.4 418.1,854.4 418.6,854.4 419.1,854.4 419.6,854.4 420.1,854.4 420.6,854.4 421.1,854.4 421.6,854.4 422.1,854.4 422.6,854.4 423.1,854.4 423.6,854.4 424.1,854.4 424.6,854.4 425.1,854.4 425.6,854.4 426.1,854.4 426.6,854.4 427.1,854.4 427.6,854.4 428.1,854.4 428.6,854.4 429.1,854.4 429.6,854.4 430.1,854.4 430.6,854.4 431.1,854.4 431.6,854.4 432.1,854.4 432.6,854.4 433.1,854.4 433.6,854.4 434.1,854.4 434.6,854.4 435.1,854.4 435.6,854.4 436.1,854.4 436.6,854.4 437.1,854.4 437.6,854.4 438.1,854.4 438.6,854.4 439.1,854.4 439.6,854.4 440.1,854.4 440.6,854.4 441.1,854.4 441.6,854.4 442.1,854.4 442.6,854.4 443.1,854.4 443.6,854.4 444.1,854.4 444.6,854.4 445.1,854.4 445.6,854.4 446.1,854.4 446.6,854.4 447.1,854.4 447.6,854.4 448.1,854.4 448.6,854.4 449.1,854.4 449.6,854.4 450.1,854.4 450.6,854.4 451.1,854.4 451.6,854.4 452.1,854.4 452.6,854.4 453.1,854.4 453.6,854.4 454.1,854.4 454.6,854.4 455.1,854.4 455.6,854.4 456.1,854.4 456.6,854.4 457.1,854.4 457.6,854.4 458.1,854.4 458.6,854.4 459.1,854.4 459.6,854.4 460.1,854.4 460.6,854.4 461.1,854.4 461.6,854.4 462.1,854.4 462.6,854.4 463.1,854.4 463.6,854.4 464.1,854.4 464.6,854.4 465.1,854.4 465.6,854.4 466.1,854.4 466.6,854.4 467.1,854.4 467.6,854.4 468.1,854.4 468.6,854.4 469.1,854.4 469.6,854.4 470.1,854.4 470.6,854.4 471.1,854.4 471.6,854.4 472.1,854.4 472.6,854.4 473.1,854.4 473.6,854.4 474.1,854.4 474.6,854.4 475.1,854.4 475.6,854.4 476.1,854.4 476.6,854.4 477.1,854.4 477.6,854.4 478.1,854.4 478.6,854.4 479.1,854.4 479.6,854.4 480.1,854.4 480.6,854.4 481.1,854.4 481.6,854.4 482.1,854.4 482.6,854.4 483.1,854.4 483.6,854.4 484.1,854.4 484.6,854.4 485.1,854.4 485.6,854.4 486.1,854.4 486.6,854.4 487.1,854.4 487.6,854.4 488.1,854.4 488.6,854.4 489.1,854.4 489.6,854.4 490.1,854.4 490.6,854.4 491.1,854.4 491.6,854.4 492.1,854.4 492.6,854.4 493.1,854.4 493.6,854.4 494.1,854.4 494.6,854.4 495.1,854.4 495.6,854.4 496.1,854.4 496.6,854.4 497.1,854.4 497.6,854.4 498.1,854.4 498.6,854.4 499.1,854.4 499.6,854.4 500.1,854.4 500.6,854.4 501.1,854.4 501.6,854.4 502.1,854.4 502.6,854.4 503.1,854.4 503.6,854.4 504.1,854.4 504.6,854.4 505.1,854.4 505.6,854.4 506.1,854.4 506.6,854.4 507.1,854.4 507.6,854.4 508.1,854.4 508.6,854.4 509.1,854.4 509.6,854.4 510.1,854.4 510.6,854.4 511.1,854.4 511.6,854.4 512.1,854.4 512.6,854.4 513.1,854.4 513.6,854.4 514.1,854.4 514.6,854.4 515.1,854.4 515.6,854.4 516.1,854.4 516.6,854.4 517.1,854.4 517.6,854.4 518.1,854.4 518.6,854.4 519.1,854.4 519.6,854.4 520.1,854.4 520.6,854.4 521.1,854.4 521.6,854.4 522.1,854.4 522.6,854.4 523.1,854.4 523.6,854.4 524.1,854.4 524.6,854.4 525.1,854.4 525.6,854.4 526.1,854.4 526.6,854.5 527.1,854.5 527.6,854.5 528.1,854.5 528.6,854.5 529.1,854.5 529.6,854.5 530.1,854.5 530.6,854.5 531.1,854.5 531.6,854.5 532.1,854.5 532.6,854.5 533.1,854.5 533.6,854.5 534.1,854.5 534.6,854.5 535.1,854.5 535.6,854.5 536.1,854.5 536.6,854.5 537.1,854.5 537.6,854.5 538.1,854.5 538.6,854.5" fill="none" stroke="#737373" stroke-width="1.7"/>
<path d="M38.6,853.3 39.1,853.3 39.6,853.3 40.1,853.3 40.6,853.3 41.1,853.3 41.6,853.2 42.1,853.2 42.6,853.2 43.1,853.2 43.6,853.2 44.1,853.2 44.6,853.1 45.1,853.1 45.6,853.1 46.1,853.1 46.6,853.1 47.1,853.1 47.6,853.0 48.1,853.0 48.6,853.0 49.1,853.0 49.6,853.0 50.1,853.0 50.6,852.9 51.1,852.9 51.6,852.9 52.1,852.9 52.6,852.8 53.1,852.8 53.6,852.8 54.1,852.8 54.6,852.8 55.1,852.7 55.6,852.7 56.1,852.7 56.6,852.7 57.1,852.6 57.6,852.6 58.1,852.6 58.6,852.6 59.1,852.5 59.6,852.5 60.1,852.5 60.6,852.4 61.1,852.4 61.6,852.4 62.1,852.3 62.6,852.3 63.1,852.3 63.6,852.2 64.1,852.2 64.6,852.2 65.1,852.1 65.6,852.1 66.1,852.1 66.6,852.0 67.1,852.0 67.6,851.9 68.1,851.9 68.6,851.9 69.1,851.8 69.6,851.8 70.1,851.7 70.6,851.7 71.1,851.6 71.6,851.6 72.1,851.5 72.6,851.5 73.1,851.4 73.6,851.4 74.1,851.3 74.6,851.2 75.1,851.2 75.6,851.1 76.1,851.1 76.6,851.0 77.1,850.9 77.6,850.9 78.1,850.8 78.6,850.7 79.1,850.6 79.6,850.6 80.1,850.5 80.6,850.4 81.1,850.3 81.6,850.2 82.1,850.1 82.6,850.0 83.1,849.9 83.6,849.8 84.1,849.7 84.6,849.6 85.1,849.5 85.6,849.4 86.1,849.3 86.6,849.2 87.1,849.0 87.6,848.9 88.1,848.8 88.6,848.6 89.1,848.5 89.6,848.3 90.1,848.2 90.6,848.0 91.1,847.8 91.6,847.7 92.1,847.5 92.6,847.3 93.1,847.1 93.6,846.9 94.1,846.7 94.6,846.4 95.1,846.2 95.6,846.0 96.1,845.7 96.6,845.4 97.1,845.2 97.6,844.9 98.1,844.6 98.6,844.2 99.1,843.9 99.6,843.6 100.1,843.2 100.6,842.8 101.1,842.4 101.6,842.0 102.1,841.5 102.6,841.1 103.1,840.6 103.6,840.0 104.1,839.5 104.6,838.9 105.1,838.3 105.6,837.6 106.1,836.9 106.6,836.2 107.1,835.4 107.6,834.6 108.1,833.7 108.6,832.8 109.1,831.8 109.6,830.7 110.1,829.6 110.6,828.4 111.1,827.1 111.6,825.7 112.1,824.2 112.6,822.7 113.1,820.9 113.6,819.1 114.1,817.1 114.6,815.0 115.1,812.7 115.6,810.3 116.1,807.6 116.6,804.8 117.1,801.7 117.6,798.3 118.1,794.8 118.6,790.9 119.1,786.7 119.6,782.3 120.1,777.5 120.6,772.4 121.1,767.0 121.6,761.3 122.1,755.3 122.6,749.0 123.1,742.6 123.6,736.2 124.1,729.7 124.6,723.4 125.1,717.4 125.6,712.0 126.1,707.2 126.6,703.4 127.1,700.5 127.6,698.9 128.1,698.5 128.6,699.4 129.1,701.5 129.6,704.8 130.1,709.0 130.6,714.1 131.1,719.8 131.6,725.9 132.1,732.3 132.6,738.8 133.1,745.2 133.6,751.6 134.1,757.7 134.6,763.6 135.1,769.2 135.6,774.5 136.1,779.4 136.6,784.1 137.1,788.4 137.6,792.5 138.1,796.2 138.6,799.7 139.1,802.9 139.6,805.9 140.1,808.7 140.6,811.3 141.1,813.7 141.6,815.9 142.1,817.9 142.6,819.9 143.1,821.6 143.6,823.3 144.1,824.8 144.6,826.3 145.1,827.6 145.6,828.9 146.1,830.1 146.6,831.2 147.1,832.2 147.6,833.2 148.1,834.1 148.6,834.9 149.1,835.7 149.6,836.5 150.1,837.2 150.6,837.9 151.1,838.5 151.6,839.1 152.1,839.7 152.6,840.2 153.1,840.8 153.6,841.2 154.1,841.7 154.6,842.1 155.1,842.6 155.6,843.0 156.1,843.3 156.6,843.7 157.1,844.0 157.6,844.4 158.1,844.7 158.6,845.0 159.1,845.3 159.6,845.5 160.1,845.8 160.6,846.1 161.1,846.3 161.6,846.5 162.1,846.7 162.6,847.0 163.1,847.2 163.6,847.4 164.1,847.5 164.6,847.7 165.1,847.9 165.6,848.1 166.1,848.2 166.6,848.4 167.1,848.5 167.6,848.7 168.1,848.8 168.6,848.9 169.1,849.1 169.6,849.2 170.1,849.3 170.6,849.4 171.1,849.6 171.6,849.7 172.1,849.8 172.6,849.9 173.1,850.0 173.6,850.1 174.1,850.2 174.6,850.2 175.1,850.3 175.6,850.4 176.1,850.5 176.6,850.6 177.1,850.7 177.6,850.7 178.1,850.8 178.6,850.9 179.1,850.9 179.6,851.0 180.1,851.1 180.6,851.1 181.1,851.2 181.6,851.3 182.1,851.3 182.6,851.4 183.1,851.4 183.6,851.5 184.1,851.5 184.6,851.6 185.1,851.6 185.6,851.7 186.1,851.7 186.6,851.8 187.1,851.8 187.6,851.9 188.1,851.9 188.6,852.0 189.1,852.0 189.6,852.0 190.1,852.1 190.6,852.1 191.1,852.2 191.6,852.2 192.1,852.2 192.6,852.3 193.1,852.3 193.6,852.3 194.1,852.4 194.6,852.4 195.1,852.4 195.6,852.5 196.1,852.5 196.6,852.5 197.1,852.5 197.6,852.6 198.1,852.6 198.6,852.6 199.1,852.6 199.6,852.7 200.1,852.7 200.6,852.7 201.1,852.7 201.6,852.8 202.1,852.8 202.6,852.8 203.1,852.8 203.6,852.9 204.1,852.9 204.6,852.9 205.1,852.9 205.6,852.9 206.1,853.0 206.6,853.0 207.1,853.0 207.6,853.0 208.1,853.0 208.6,853.1 209.1,853.1 209.6,853.1 210.1,853.1 210.6,853.1 211.1,853.1 211.6,853.2 212.1,853.2 212.6,853.2 213.1,853.2 213.6,853.2 214.1,853.2 214.6,853.2 215.1,853.3 215.6,853.3 216.1,853.3 216.6,853.3 217.1,853.3 217.6,853.3 218.1,853.3 218.6,853.4 219.1,853.4 219.6,853.4 220.1,853.4 220.6,853.4 221.1,853.4 221.6,853.4 222.1,853.4 222.6,853.4 223.1,853.5 223.6,853.5 224.1,853.5 224.6,853.5 225.1,853.5 225.6,853.5 226.1,853.5 226.6,853.5 227.1,853.5 227.6,853.5 228.1,853.6 228.6,853.6 229.1,853.6 229.6,853.6 230.1,853.6 230.6,853.6 231.1,853.6 231.6,853.6 232.1,853.6 232.6,853.6 233.1,853.6 233.6,853.7 234.1,853.7 234.6,853.7 235.1,853.7 235.6,853.7 236.1,853.7 236.6,853.7 237.1,853.7 237.6,853.7 238.1,853.7 238.6,853.7 239.1,853.7 239.6,853.7 240.1,853.7 240.6,853.8 241.1,853.8 241.6,853.8 242.1,853.8 242.6,853.8 243.1,853.8 243.6,853.8 244.1,853.8 244.6,853.8 245.1,853.8 245.6,853.8 246.1,853.8 246.6,853.8 247.1,853.8 247.6,853.8 248.1,853.8 248.6,853.9 249.1,853.9 249.6,853.9 250.1,853.9 250.6,853.9 251.1,853.9 251.6,853.9 252.1,853.9 252.6,853.9 253.1,853.9 253.6,853.9 254.1,853.9 254.6,853.9 255.1,853.9 255.6,853.9 256.1,853.9 256.6,853.9 257.1,853.9 257.6,853.9 258.1,853.9 258.6,853.9 259.1,853.9 259.6,854.0 260.1,854.0 260.6,854.0 261.1,854.0 261.6,854.0 262.1,854.0 262.6,854.0 263.1,854.0 263.6,854.0 264.1,854.0 264.6,854.0 265.1,854.0 265.6,854.0 266.1,854.0 266.6,854.0 267.1,854.0 267.6,854.0 268.1,854.0 268.6,854.0 269.1,854.0 269.6,854.0 270.1,854.0 270.6,854.0 271.1,854.0 271.6,854.0 272.1,854.0 272.6,854.0 273.1,854.1 273.6,854.1 274.1,854.1 274.6,854.1 275.1,854.1 275.6,854.1 276.1,854.1 276.6,854.1 277.1,854.1 277.6,854.1 278.1,854.1 278.6,854.1 279.1,854.1 279.6,854.1 280.1,854.1 280.6,854.1 281.1,854.1 281.6,854.1 282.1,854.1 282.6,854.1 283.1,854.1 283.6,854.1 284.1,854.1 284.6,854.1 285.1,854.1 285.6,854.1 286.1,854.1 286.6,854.1 287.1,854.1 287.6,854.1 288.1,854.1 288.6,854.1 289.1,854.1 289.6,854.1 290.1,854.1 290.6,854.1 291.1,854.1 291.6,854.1 292.1,854.1 292.6,854.2 293.1,854.2 293.6,854.2 294.1,854.2 294.6,854.2 295.1,854.2 295.6,854.2 296.1,854.2 296.6,854.2 297.1,854.2 297.6,854.2 298.1,854.2 298.6,854.2 299.1,854.2 299.6,854.2 300.1,854.2 300.6,854.2 301.1,854.2 301.6,854.2 302.1,854.2 302.6,854.2 303.1,854.2 303.6,854.2 304.1,854.2 304.6,854.2 305.1,854.2 305.6,854.2 306.1,854.2 306.6,854.2 307.1,854.2 307.6,854.2 308.1,854.2 308.6,854.2 309.1,854.2 309.6,854.2 310.1,854.2 310.6,854.2 311.1,854.2 311.6,854.2 312.1,854.2 312.6,854.2 313.1,854.2 313.6,854.2 314.1,854.2 314.6,854.2 315.1,854.2 315.6,854.2 316.1,854.2 316.6,854.2 317.1,854.2 317.6,854.2 318.1,854.2 318.6,854.2 319.1,854.2 319.6,854.2 320.1,854.2 320.6,854.2 321.1,854.2 321.6,854.2 322.1,854.2 322.6,854.2 323.1,854.3 323.6,854.3 324.1,854.3 324.6,854.3 325.1,854.3 325.6,854.3 326.1,854.3 326.6,854.3 327.1,854.3 327.6,854.3 328.1,854.3 328.6,854.3 329.1,854.3 329.6,854.3 330.1,854.3 330.6,854.3 331.1,854.3 331.6,854.3 332.1,854.3 332.6,854.3 333.1,854.3 333.6,854.3 334.1,854.3 334.6,854.3 335.1,854.3 335.6,854.3 336.1,854.3 336.6,854.3 337.1,854.3 337.6,854.3 338.1,854.3 338.6,854.3 339.1,854.3 339.6,854.3 340.1,854.3 340.6,854.3 341.1,854.3 341.6,854.3 342.1,854.3 342.6,854.3 343.1,854.3 343.6,854.3 344.1,854.3 344.6,854.3 345.1,854.3 345.6,854.3 346.1,854.3 346.6,854.3 347.1,854.3 347.6,854.3 348.1,854.3 348.6,854.3 349.1,854.3 349.6,854.3 350.1,854.3 350.6,854.3 351.1,854.3 351.6,854.3 352.1,854.3 352.6,854.3 353.1,854.3 353.6,854.3 354.1,854.3 354.6,854.3 355.1,854.3 355.6,854.3 356.1,854.3 356.6,854.3 357.1,854.3 357.6,854.3 358.1,854.3 358.6,854.3 359.1,854.3 359.6,854.3 360.1,854.3 360.6,854.3 361.1,854.3 361.6,854.3 362.1,854.3 362.6,854.3 363.1,854.3 363.6,854.3 364.1,854.3 364.6,854.3 365.1,854.3 365.6,854.3 366.1,854.3 366.6,854.3 367.1,854.3 367.6,854.3 368.1,854.3 368.6,854.3 369.1,854.3 369.6,854.3 370.1,854.3 370.6,854.3 371.1,854.3 371.6,854.3 372.1,854.3 372.6,854.3 373.1,854.3 373.6,854.3 374.1,854.3 374.6,854.3 375.1,854.3 375.6,854.3 376.1,854.3 376.6,854.3 377.1,854.3 377.6,854.3 378.1,854.3 378.6,854.3 379.1,854.3 379.6,854.4 380.1,854.4 380.6,854.4 381.1,854.4 381.6,854.4 382.1,854.4 382.6,854.4 383.1,854.4 383.6,854.4 384.1,854.4 384.6,854.4 385.1,854.4 385.6,854.4 386.1,854.4 386.6,854.4 387.1,854.4 387.6,854.4 388.1,854.4 388.6,854.4 389.1,854.4 389.6,854.4 390.1,854.4 390.6,854.4 391.1,854.4 391.6,854.4 392.1,854.4 392.6,854.4 393.1,854.4 393.6,854.4 394.1,854.4 394.6,854.4 395.1,854.4 395.6,854.4 396.1,854.4 396.6,854.4 397.1,854.4 397.6,854.4 398.1,854.4 398.6,854.4 399.1,854.4 399.6,854.4 400.1,854.4 400.6,854.4 401.1,854.4 401.6,854.4 402.1,854.4 402.6,854.4 403.1,854.4 403.6,854.4 404.1,854.4 404.6,854.4 405.1,854.4 405.6,854.4 406.1,854.4 406.6,854.4 407.1,854.4 407.6,854.4 408.1,854.4 408.6,854.4 409.1,854.4 409.6,854.4 410.1,854.4 410.6,854.4 411.1,854.4 411.6,854.4 412.1,854.4 412.6,854.4 413.1,854.4 413.6,854.4 414.1,854.4 414.6,854.4 415.1,854.4 415.6,854.4 416.1,854.4 416.6,854.4 417.1,854.4 417.6,854.4 418.1,854.4 418.6,854.4 419.1,854.4 419.6,854.4 420.1,854.4 420.6,854.4 421.1,854.4 421.6,854.4 422.1,854.4 422.6,854.4 423.1,854.4 423.6,854.4 424.1,854.4 424.6,854.4 425.1,854.4 425.6,854.4 426.1,854.4 426.6,854.4 427.1,854.4 427.6,854.4 428.1,854.4 428.6,854.4 429.1,854.4 429.6,854.4 430.1,854.4 430.6,854.4 431.1,854.4 431.6,854.4 432.1,854.4 432.6,854.4 433.1,854.4 433.6,854.4 434.1,854.4 434.6,854.4 435.1,854.4 435.6,854.4 436.1,854.4 436.6,854.4 437.1,854.4 437.6,854.4 438.1,854.4 438.6,854.4 439.1,854.4 439.6,854.4 440.1,854.4 440.6,854.4 441.1,854.4 441.6,854.4 442.1,854.4 442.6,854.4 443.1,854.4 443.6,854.4 444.1,854.4 444.6,854.4 445.1,854.4 445.6,854.4 446.1,854.4 446.6,854.4 447.1,854.4 447.6,854.4 448.1,854.4 448.6,854.4 449.1,854.4 449.6,854.4 450.1,854.4 450.6,854.4 451.1,854.4 451.6,854.4 452.1,854.4 452.6,854.4 453.1,854.4 453.6,854.4 454.1,854.4 454.6,854.4 455.1,854.4 455.6,854.4 456.1,854.4 456.6,854.4 457.1,854.4 457.6,854.4 458.1,854.4 458.6,854.4 459.1,854.4 459.6,854.4 460.1,854.4 460.6,854.4 461.1,854.4 461.6,854.4 462.1,854.4 462.6,854.4 463.1,854.4 463.6,854.4 464.1,854.4 464.6,854.4 465.1,854.4 465.6,854.4 466.1,854.4 466.6,854.4 467.1,854.4 467.6,854.4 468.1,854.4 468.6,854.4 469.1,854.4 469.6,854.4 470.1,854.4 470.6,854.4 471.1,854.4 471.6,854.4 472.1,854.4 472.6,854.4 473.1,854.4 473.6,854.4 474.1,854.4 474.6,854.4 475.1,854.4 475.6,854.4 476.1,854.4 476.6,854.4 477.1,854.4 477.6,854.4 478.1,854.4 478.6,854.4 479.1,854.4 479.6,854.4 480.1,854.4 480.6,854.4 481.1,854.4 481.6,854.4 482.1,854.4 482.6,854.4 483.1,854.4 483.6,854.4 484.1,854.4 484.6,854.4 485.1,854.4 485.6,854.4 486.1,854.4 486.6,854.4 487.1,854.4 487.6,854.4 488.1,854.4 488.6,854.4 489.1,854.4 489.6,854.4 490.1,854.4 490.6,854.4 491.1,854.4 491.6,854.4 492.1,854.4 492.6,854.4 493.1,854.4 493.6,854.4 494.1,854.4 494.6,854.4 495.1,854.4 495.6,854.4 496.1,854.4 496.6,854.4 497.1,854.4 497.6,854.4 498.1,854.4 498.6,854.4 499.1,854.4 499.6,854.4 500.1,854.4 500.6,854.4 501.1,854.4 501.6,854.4 502.1,854.4 502.6,854.4 503.1,854.4 503.6,854.4 504.1,854.4 504.6,854.4 505.1,854.4 505.6,854.4 506.1,854.4 506.6,854.4 507.1,854.4 507.6,854.4 508.1,854.4 508.6,854.4 509.1,854.4 509.6,854.4 510.1,854.4 510.6,854.4 511.1,854.4 511.6,854.4 512.1,854.4 512.6,854.4 513.1,854.4 513.6,854.4 514.1,854.4 514.6,854.4 515.1,854.4 515.6,854.4 516.1,854.4 516.6,854.4 517.1,854.4 517.6,854.4 518.1,854.4 518.6,854.4 519.1,854.4 519.6,854.4 520.1,854.4 520.6,854.4 521.1,854.4 521.6,854.4 522.1,854.4 522.6,854.4 523.1,854.4 523.6,854.4 524.1,854.4 524.6,854.4 525.1,854.4 525.6,854.4 526.1,854.4 526.6,854.4 527.1,854.4 527.6,854.4 528.1,854.4 528.6,854.4 529.1,854.4 529.6,854.4 530.1,854.4 530.6,854.4 531.1,854.4 531.6,854.4 532.1,854.4 532.6,854.4 533.1,854.4 533.6,854.4 534.1,854.4 534.6,854.4 535.1,854.4 535.6,854.4 536.1,854.4 536.6,854.4 537.1,854.4 537.6,854.4 538.1,854.4 538.6,854.4" fill="none" stroke="#737373" stroke-width="1.7"/>
<path d="M38.6,854.1 39.1,854.1 39.6,854.1 40.1,854.0 40.6,854.0 41.1,854.0 41.6,854.0 42.1,854.0 42.6,854.0 43.1,854.0 43.6,854.0 44.1,854.0 44.6,854.0 45.1,854.0 45.6,854.0 46.1,854.0 46.6,854.0 47.1,854.0 47.6,854.0 48.1,854.0 48.6,854.0 49.1,854.0 49.6,854.0 50.1,854.0 50.6,854.0 51.1,854.0 51.6,854.0 52.1,854.0 52.6,854.0 53.1,854.0 53.6,854.0 54.1,854.0 54.6,853.9 55.1,853.9 55.6,853.9 56.1,853.9 56.6,853.9 57.1,853.9 57.6,853.9 58.1,853.9 58.6,853.9 59.1,853.9 59.6,853.9 60.1,853.9 60.6,853.9 61.1,853.9 61.6,853.9 62.1,853.9 62.6,853.9 63.1,853.9 63.6,853.9 64.1,853.9 64.6,853.9 65.1,853.9 65.6,853.8 66.1,853.8 66.6,853.8 67.1,853.8 67.6,853.8 68.1,853.8 68.6,853.8 69.1,853.8 69.6,853.8 70.1,853.8 70.6,853.8 71.1,853.8 71.6,853.8 72.1,853.8 72.6,853.8 73.1,853.8 73.6,853.8 74.1,853.7 74.6,853.7 75.1,853.7 75.6,853.7 76.1,853.7 76.6,853.7 77.1,853.7 77.6,853.7 78.1,853.7 78.6,853.7 79.1,853.7 79.6,853.7 80.1,853.7 80.6,853.7 81.1,853.6 81.6,853.6 82.1,853.6 82.6,853.6 83.1,853.6 83.6,853.6 84.1,853.6 84.6,853.6 85.1,853.6 85.6,853.6 86.1,853.6 86.6,853.6 87.1,853.5 87.6,853.5 88.1,853.5 88.6,853.5 89.1,853.5 89.6,853.5 90.1,853.5 90.6,853.5 91.1,853.5 91.6,853.5 92.1,853.5 92.6,853.4 93.1,853.4 93.6,853.4 94.1,853.4 94.6,853.4 95.1,853.4 95.6,853.4 96.1,853.4 96.6,853.3 97.1,853.3 97.6,853.3 98.1,853.3 98.6,853.3 99.1,853.3 99.6,853.3 100.1,853.3 100.6,853.2 101.1,853.2 101.6,853.2 102.1,853.2 102.6,853.2 103.1,853.2 103.6,853.2 104.1,853.1 104.6,853.1 105.1,853.1 105.6,853.1 106.1,853.1 106.6,853.1 107.1,853.0 107.6,853.0 108.1,853.0 108.6,853.0 109.1,853.0 109.6,853.0 110.1,852.9 110.6,852.9 111.1,852.9 111.6,852.9 112.1,852.9 112.6,852.8 113.1,852.8 113.6,852.8 114.1,852.8 114.6,852.7 115.1,852.7 115.6,852.7 116.1,852.7 116.6,852.7 117.1,852.6 117.6,852.6 118.1,852.6 118.6,852.6 119.1,852.5 119.6,852.5 120.1,852.5 120.6,852.4 121.1,852.4 121.6,852.4 122.1,852.4 122.6,852.3 123.1,852.3 123.6,852.3 124.1,852.2 124.6,852.2 125.1,852.2 125.6,852.1 126.1,852.1 126.6,852.0 127.1,852.0 127.6,852.0 128.1,851.9 128.6,851.9 129.1,851.8 129.6,851.8 130.1,851.8 130.6,851.7 131.1,851.7 131.6,851.6 132.1,851.6 132.6,851.5 133.1,851.5 133.6,851.4 134.1,851.4 134.6,851.3 135.1,851.3 135.6,851.2 136.1,851.1 136.6,851.1 137.1,851.0 137.6,850.9 138.1,850.9 138.6,850.8 139.1,850.7 139.6,850.7 140.1,850.6 140.6,850.5 141.1,850.4 141.6,850.4 142.1,850.3 142.6,850.2 143.1,850.1 143.6,850.0 144.1,849.9 144.6,849.8 145.1,849.7 145.6,849.6 146.1,849.5 146.6,849.4 147.1,849.3 147.6,849.2 148.1,849.0 148.6,848.9 149.1,848.8 149.6,848.6 150.1,848.5 150.6,848.4 151.1,848.2 151.6,848.1 152.1,847.9 152.6,847.7 153.1,847.5 153.6,847.4 154.1,847.2 154.6,847.0 155.1,846.8 155.6,846.6 156.1,846.3 156.6,846.1 157.1,845.9 157.6,845.6 158.1,845.4 158.6,845.1 159.1,844.8 159.6,844.5 160.1,844.2 160.6,843.9 161.1,843.5 161.6,843.2 162.1,842.8 162.6,842.4 163.1,842.0 163.6,841.5 164.1,841.1 164.6,840.6 165.1,840.1 165.6,839.5 166.1,838.9 166.6,838.3 167.1,837.7 167.6,837.0 168.1,836.3 168.6,835.5 169.1,834.7 169.6,833.9 170.1,833.0 170.6,832.0 171.1,830.9 171.6,829.8 172.1,828.6 172.6,827.3 173.1,826.0 173.6,824.5 174.1,822.9 174.6,821.2 175.1,819.3 175.6,817.3 176.1,815.2 176.6,812.8 177.1,810.2 177.6,807.5 178.1,804.4 178.6,801.1 179.1,797.5 179.6,793.5 180.1,789.1 180.6,784.3 181.1,778.9 181.6,773.1 182.1,766.6 182.6,759.5 183.1,751.5 183.6,742.8 184.1,733.2 184.6,722.6 185.1,710.9 185.6,698.3 186.1,684.5 186.6,669.8 187.1,654.2 187.6,638.1 188.1,621.8 188.6,605.8 189.1,590.9 189.6,577.8 190.1,567.5 190.6,560.5 191.1,557.6 191.6,558.9 192.1,564.3 192.6,573.3 193.1,585.4 193.6,599.7 194.1,615.3 194.6,631.5 195.1,647.8 195.6,663.6 196.1,678.7 196.6,692.9 197.1,706.0 197.6,718.1 198.1,729.1 198.6,739.1 199.1,748.2 199.6,756.4 200.1,763.8 200.6,770.6 201.1,776.7 201.6,782.2 202.1,787.2 202.6,791.8 203.1,795.9 203.6,799.7 204.1,803.1 204.6,806.3 205.1,809.2 205.6,811.8 206.1,814.2 206.6,816.5 207.1,818.6 207.6,820.5 208.1,822.2 208.6,823.9 209.1,825.4 209.6,826.8 210.1,828.1 210.6,829.4 211.1,830.5 211.6,831.6 212.1,832.6 212.6,833.5 213.1,834.4 213.6,835.2 214.1,836.0 214.6,836.7 215.1,837.4 215.6,838.1 216.1,838.7 216.6,839.3 217.1,839.8 217.6,840.4 218.1,840.9 218.6,841.3 219.1,841.8 219.6,842.2 220.1,842.6 220.6,843.0 221.1,843.4 221.6,843.7 222.1,844.1 222.6,844.4 223.1,844.7 223.6,845.0 224.1,845.2 224.6,845.5 225.1,845.8 225.6,846.0 226.1,846.2 226.6,846.5 227.1,846.7 227.6,846.9 228.1,847.1 228.6,847.3 229.1,847.5 229.6,847.7 230.1,847.8 230.6,848.0 231.1,848.1 231.6,848.3 232.1,848.4 232.6,848.6 233.1,848.7 233.6,848.9 234.1,849.0 234.6,849.1 235.1,849.2 235.6,849.3 236.1,849.5 236.6,849.6 237.1,849.7 237.6,849.8 238.1,849.9 238.6,850.0 239.1,850.1 239.6,850.2 240.1,850.2 240.6,850.3 241.1,850.4 241.6,850.5 242.1,850.6 242.6,850.6 243.1,850.7 243.6,850.8 244.1,850.9 244.6,850.9 245.1,851.0 245.6,851.0 246.1,851.1 246.6,851.2 247.1,851.2 247.6,851.3 248.1,851.3 248.6,851.4 249.1,851.4 249.6,851.5 250.1,851.5 250.6,851.6 251.1,851.6 251.6,851.7 252.1,851.7 252.6,851.8 253.1,851.8 253.6,851.9 254.1,851.9 254.6,852.0 255.1,852.0 255.6,852.0 256.1,852.1 256.6,852.1 257.1,852.1 257.6,852.2 258.1,852.2 258.6,852.2 259.1,852.3 259.6,852.3 260.1,852.3 260.6,852.4 261.1,852.4 261.6,852.4 262.1,852.5 262.6,852.5 263.1,852.5 263.6,852.5 264.1,852.6 264.6,852.6 265.1,852.6 265.6,852.6 266.1,852.7 266.6,852.7 267.1,852.7 267.6,852.7 268.1,852.8 268.6,852.8 269.1,852.8 269.6,852.8 270.1,852.8 270.6,852.9 271.1,852.9 271.6,852.9 272.1,852.9 272.6,852.9 273.1,853.0 273.6,853.0 274.1,853.0 274.6,853.0 275.1,853.0 275.6,853.1 276.1,853.1 276.6,853.1 277.1,853.1 277.6,853.1 278.1,853.1 278.6,853.2 279.1,853.2 279.6,853.2 280.1,853.2 280.6,853.2 281.1,853.2 281.6,853.2 282.1,853.3 282.6,853.3 283.1,853.3 283.6,853.3 284.1,853.3 284.6,853.3 285.1,853.3 285.6,853.3 286.1,853.4 286.6,853.4 287.1,853.4 287.6,853.4 288.1,853.4 288.6,853.4 289.1,853.4 289.6,853.4 290.1,853.4 290.6,853.5 291.1,853.5 291.6,853.5 292.1,853.5 292.6,853.5 293.1,853.5 293.6,853.5 294.1,853.5 294.6,853.5 295.1,853.5 295.6,853.6 296.1,853.6 296.6,853.6 297.1,853.6 297.6,853.6 298.1,853.6 298.6,853.6 299.1,853.6 299.6,853.6 300.1,853.6 300.6,853.6 301.1,853.6 301.6,853.7 302.1,853.7 302.6,853.7 303.1,853.7 303.6,853.7 304.1,853.7 304.6,853.7 305.1,853.7 305.6,853.7 306.1,853.7 306.6,853.7 307.1,853.7 307.6,853.7 308.1,853.7 308.6,853.8 309.1,853.8 309.6,853.8 310.1,853.8 310.6,853.8 311.1,853.8 311.6,853.8 312.1,853.8 312.6,853.8 313.1,853.8 313.6,853.8 314.1,853.8 314.6,853.8 315.1,853.8 315.6,853.8 316.1,853.8 316.6,853.8 317.1,853.8 317.6,853.9 318.1,853.9 318.6,853.9 319.1,853.9 319.6,853.9 320.1,853.9 320.6,853.9 321.1,853.9 321.6,853.9 322.1,853.9 322.6,853.9 323.1,853.9 323.6,853.9 324.1,853.9 324.6,853.9 325.1,853.9 325.6,853.9 326.1,853.9 326.6,853.9 327.1,853.9 327.6,853.9 328.1,853.9 328.6,854.0 329.1,854.0 329.6,854.0 330.1,854.0 330.6,854.0 331.1,854.0 331.6,854.0 332.1,854.0 332.6,854.0 333.1,854.0 333.6,854.0 334.1,854.0 334.6,854.0 335.1,854.0 335.6,854.0 336.1,854.0 336.6,854.0 337.1,854.0 337.6,854.0 338.1,854.0 338.6,854.0 339.1,854.0 339.6,854.0 340.1,854.0 340.6,854.0 341.1,854.0 341.6,854.0 342.1,854.0 342.6,854.0 343.1,854.1 343.6,854.1 344.1,854.1 344.6,854.1 345.1,854.1 345.6,854.1 346.1,854.1 346.6,854.1 347.1,854.1 347.6,854.1 348.1,854.1 348.6,854.1 349.1,854.1 349.6,854.1 350.1,854.1 350.6,854.1 351.1,854.1 351.6,854.1 352.1,854.1 352.6,854.1 353.1,854.1 353.6,854.1 354.1,854.1 354.6,854.1 355.1,854.1 355.6,854.1 356.1,854.1 356.6,854.1 357.1,854.1 357.6,854.1 358.1,854.1 358.6,854.1 359.1,854.1 359.6,854.1 360.1,854.1 360.6,854.1 361.1,854.1 361.6,854.1 362.1,854.1 362.6,854.1 363.1,854.2 363.6,854.2 364.1,854.2 364.6,854.2 365.1,854.2 365.6,854.2 366.1,854.2 366.6,854.2 367.1,854.2 367.6,854.2 368.1,854.2 368.6,854.2 369.1,854.2 369.6,854.2 370.1,854.2 370.6,854.2 371.1,854.2 371.6,854.2 372.1,854.2 372.6,854.2 373.1,854.2 373.6,854.2 374.1,854.2 374.6,854.2 375.1,854.2 375.6,854.2 376.1,854.2 376.6,854.2 377.1,854.2 377.6,854.2 378.1,854.2 378.6,854.2 379.1,854.2 379.6,854.2 380.1,854.2 380.6,854.2 381.1,854.2 381.6,854.2 382.1,854.2 382.6,854.2 383.1,854.2 383.6,854.2 384.1,854.2 384.6,854.2 385.1,854.2 385.6,854.2 386.1,854.2 386.6,854.2 387.1,854.2 387.6,854.2 388.1,854.2 388.6,854.2 389.1,854.2 389.6,854.2 390.1,854.2 390.6,854.2 391.1,854.2 391.6,854.2 392.1,854.2 392.6,854.2 393.1,854.2 393.6,854.2 394.1,854.2 394.6,854.3 395.1,854.3 395.6,854.3 396.1,854.3 396.6,854.3 397.1,854.3 397.6,854.3 398.1,854.3 398.6,854.3 399.1,854.3 399.6,854.3 400.1,854.3 400.6,854.3 401.1,854.3 401.6,854.3 402.1,854.3 402.6,854.3 403.1,854.3 403.6,854.3 404.1,854.3 404.6,854.3 405.1,854.3 405.6,854.3 406.1,854.3 406.6,854.3 407.1,854.3 407.6,854.3 408.1,854.3 408.6,854.3 409.1,854.3 409.6,854.3 410.1,854.3 410.6,854.3 411.1,854.3 411.6,854.3 412.1,854.3 412.6,854.3 413.1,854.3 413.6,854.3 414.1,854.3 414.6,854.3 415.1,854.3 415.6,854.3 416.1,854.3 416.6,854.3 417.1,854.3 417.6,854.3 418.1,854.3 418.6,854.3 419.1,854.3 419.6,854.3 420.1,854.3 420.6,854.3 421.1,854.3 421.6,854.3 422.1,854.3 422.6,854.3 423.1,854.3 423.6,854.3 424.1,854.3 424.6,854.3 425.1,854.3 425.6,854.3 426.1,854.3 426.6,854.3 427.1,854.3 427.6,854.3 428.1,854.3 428.6,854.3 429.1,854.3 429.6,854.3 430.1,854.3 430.6,854.3 431.1,854.3 431.6,854.3 432.1,854.3 432.6,854.3 433.1,854.3 433.6,854.3 434.1,854.3 434.6,854.3 435.1,854.3 435.6,854.3 436.1,854.3 436.6,854.3 437.1,854.3 437.6,854.3 438.1,854.3 438.6,854.3 439.1,854.3 439.6,854.3 440.1,854.3 440.6,854.3 441.1,854.3 441.6,854.3 442.1,854.3 442.6,854.3 443.1,854.3 443.6,854.3 444.1,854.3 444.6,854.3 445.1,854.3 445.6,854.3 446.1,854.3 446.6,854.3 447.1,854.3 447.6,854.3 448.1,854.3 448.6,854.3 449.1,854.3 449.6,854.3 450.1,854.3 450.6,854.3 451.1,854.3 451.6,854.3 452.1,854.3 452.6,854.3 453.1,854.3 453.6,854.3 454.1,854.4 454.6,854.4 455.1,854.4 455.6,854.4 456.1,854.4 456.6,854.4 457.1,854.4 457.6,854.4 458.1,854.4 458.6,854.4 459.1,854.4 459.6,854.4 460.1,854.4 460.6,854.4 461.1,854.4 461.6,854.4 462.1,854.4 462.6,854.4 463.1,854.4 463.6,854.4 464.1,854.4 464.6,854.4 465.1,854.4 465.6,854.4 466.1,854.4 466.6,854.4 467.1,854.4 467.6,854.4 468.1,854.4 468.6,854.4 469.1,854.4 469.6,854.4 470.1,854.4 470.6,854.4 471.1,854.4 471.6,854.4 472.1,854.4 472.6,854.4 473.1,854.4 473.6,854.4 474.1,854.4 474.6,854.4 475.1,854.4 475.6,854.4 476.1,854.4 476.6,854.4 477.1,854.4 477.6,854.4 478.1,854.4 478.6,854.4 479.1,854.4 479.6,854.4 480.1,854.4 480.6,854.4 481.1,854.4 481.6,854.4 482.1,854.4 482.6,854.4 483.1,854.4 483.6,854.4 484.1,854.4 484.6,854.4 485.1,854.4 485.6,854.4 486.1,854.4 486.6,854.4 487.1,854.4 487.6,854.4 488.1,854.4 488.6,854.4 489.1,854.4 489.6,854.4 490.1,854.4 490.6,854.4 491.1,854.4 491.6,854.4 492.1,854.4 492.6,854.4 493.1,854.4 493.6,854.4 494.1,854.4 494.6,854.4 495.1,854.4 495.6,854.4 496.1,854.4 496.6,854.4 497.1,854.4 497.6,854.4 498.1,854.4 498.6,854.4 499.1,854.4 499.6,854.4 500.1,854.4 500.6,854.4 501.1,854.4 501.6,854.4 502.1,854.4 502.6,854.4 503.1,854.4 503.6,854.4 504.1,854.4 504.6,854.4 505.1,854.4 505.6,854.4 506.1,854.4 506.6,854.4 507.1,854.4 507.6,854.4 508.1,854.4 508.6,854.4 509.1,854.4 509.6,854.4 510.1,854.4 510.6,854.4 511.1,854.4 511.6,854.4 512.1,854.4 512.6,854.4 513.1,854.4 513.6,854.4 514.1,854.4 514.6,854.4 515.1,854.4 515.6,854.4 516.1,854.4 516.6,854.4 517.1,854.4 517.6,854.4 518.1,854.4 518.6,854.4 519.1,854.4 519.6,854.4 520.1,854.4 520.6,854.4 521.1,854.4 521.6,854.4 522.1,854.4 522.6,854.4 523.1,854.4 523.6,854.4 524.1,854.4 524.6,854.4 525.1,854.4 525.6,854.4 526.1,854.4 526.6,854.4 527.1,854.4 527.6,854.4 528.1,854.4 528.6,854.4 529.1,854.4 529.6,854.4 530.1,854.4 530.6,854.4 531.1,854.4 531.6,854.4 532.1,854.4 532.6,854.4 533.1,854.4 533.6,854.4 534.1,854.4 534.6,854.4 535.1,854.4 535.6,854.4 536.1,854.4 536.6,854.4 537.1,854.4 537.6,854.4 538.1,854.4 538.6,854.4" fill="none" stroke="#737373" stroke-width="1.7"/>
<path d="M38.6,854.2 39.1,854.2 39.6,854.2 40.1,854.2 40.6,854.2 41.1,854.2 41.6,854.2 42.1,854.2 42.6,854.2 43.1,854.2 43.6,854.2 44.1,854.2 44.6,854.2 45.1,854.2 45.6,854.2 46.1,854.2 46.6,854.2 47.1,854.2 47.6,854.2 48.1,854.2 48.6,854.2 49.1,854.2 49.6,854.2 50.1,854.2 50.6,854.2 51.1,854.2 51.6,854.2 52.1,854.2 52.6,854.2 53.1,854.2 53.6,854.2 54.1,854.2 54.6,854.2 55.1,854.2 55.6,854.2 56.1,854.2 56.6,854.2 57.1,854.2 57.6,854.2 58.1,854.1 58.6,854.1 59.1,854.1 59.6,854.1 60.1,854.1 60.6,854.1 61.1,854.1 61.6,854.1 62.1,854.1 62.6,854.1 63.1,854.1 63.6,854.1 64.1,854.1 64.6,854.1 65.1,854.1 65.6,854.1 66.1,854.1 66.6,854.1 67.1,854.1 67.6,854.1 68.1,854.1 68.6,854.1 69.1,854.1 69.6,854.1 70.1,854.1 70.6,854.1 71.1,854.1 71.6,854.1 72.1,854.1 72.6,854.1 73.1,854.1 73.6,854.1 74.1,854.1 74.6,854.1 75.1,854.1 75.6,854.1 76.1,854.1 76.6,854.0 77.1,854.0 77.6,854.0 78.1,854.0 78.6,854.0 79.1,854.0 79.6,854.0 80.1,854.0 80.6,854.0 81.1,854.0 81.6,854.0 82.1,854.0 82.6,854.0 83.1,854.0 83.6,854.0 84.1,854.0 84.6,854.0 85.1,854.0 85.6,854.0 86.1,854.0 86.6,854.0 87.1,854.0 87.6,854.0 88.1,854.0 88.6,854.0 89.1,854.0 89.6,854.0 90.1,853.9 90.6,853.9 91.1,853.9 91.6,853.9 92.1,853.9 92.6,853.9 93.1,853.9 93.6,853.9 94.1,853.9 94.6,853.9 95.1,853.9 95.6,853.9 96.1,853.9 96.6,853.9 97.1,853.9 97.6,853.9 98.1,853.9 98.6,853.9 99.1,853.9 99.6,853.9 100.1,853.8 100.6,853.8 101.1,853.8 101.6,853.8 102.1,853.8 102.6,853.8 103.1,853.8 103.6,853.8 104.1,853.8 104.6,853.8 105.1,853.8 105.6,853.8 106.1,853.8 106.6,853.8 107.1,853.8 107.6,853.8 108.1,853.7 108.6,853.7 109.1,853.7 109.6,853.7 110.1,853.7 110.6,853.7 111.1,853.7 111.6,853.7 112.1,853.7 112.6,853.7 113.1,853.7 113.6,853.7 114.1,853.7 114.6,853.6 115.1,853.6 115.6,853.6 116.1,853.6 116.6,853.6 117.1,853.6 117.6,853.6 118.1,853.6 118.6,853.6 119.1,853.6 119.6,853.6 120.1,853.5 120.6,853.5 121.1,853.5 121.6,853.5 122.1,853.5 122.6,853.5 123.1,853.5 123.6,853.5 124.1,853.5 124.6,853.5 125.1,853.4 125.6,853.4 126.1,853.4 126.6,853.4 127.1,853.4 127.6,853.4 128.1,853.4 128.6,853.4 129.1,853.3 129.6,853.3 130.1,853.3 130.6,853.3 131.1,853.3 131.6,853.3 132.1,853.3 132.6,853.2 133.1,853.2 133.6,853.2 134.1,853.2 134.6,853.2 135.1,853.2 135.6,853.1 136.1,853.1 136.6,853.1 137.1,853.1 137.6,853.1 138.1,853.1 138.6,853.0 139.1,853.0 139.6,853.0 140.1,853.0 140.6,853.0 141.1,852.9 141.6,852.9 142.1,852.9 142.6,852.9 143.1,852.9 143.6,852.8 144.1,852.8 144.6,852.8 145.1,852.8 145.6,852.7 146.1,852.7 146.6,852.7 147.1,852.7 147.6,852.6 148.1,852.6 148.6,852.6 149.1,852.5 149.6,852.5 150.1,852.5 150.6,852.5 151.1,852.4 151.6,852.4 152.1,852.4 152.6,852.3 153.1,852.3 153.6,852.3 154.1,852.2 154.6,852.2 155.1,852.1 155.6,852.1 156.1,852.1 156.6,852.0 157.1,852.0 157.6,851.9 158.1,851.9 158.6,851.9 159.1,851.8 159.6,851.8 160.1,851.7 160.6,851.7 161.1,851.6 161.6,851.6 162.1,851.5 162.6,851.4 163.1,851.4 163.6,851.3 164.1,851.3 164.6,851.2 165.1,851.1 165.6,851.1 166.1,851.0 166.6,850.9 167.1,850.9 167.6,850.8 168.1,850.7 168.6,850.6 169.1,850.6 169.6,850.5 170.1,850.4 170.6,850.3 171.1,850.2 171.6,850.1 172.1,850.0 172.6,849.9 173.1,849.8 173.6,849.7 174.1,849.6 174.6,849.5 175.1,849.3 175.6,849.2 176.1,849.1 176.6,848.9 177.1,848.8 177.6,848.7 178.1,848.5 178.6,848.4 179.1,848.2 179.6,848.0 180.1,847.8 180.6,847.7 181.1,847.5 181.6,847.3 182.1,847.1 182.6,846.8 183.1,846.6 183.6,846.4 184.1,846.1 184.6,845.9 185.1,845.6 185.6,845.3 186.1,845.0 186.6,844.7 187.1,844.4 187.6,844.1 188.1,843.7 188.6,843.3 189.1,842.9 189.6,842.5 190.1,842.1 190.6,841.6 191.1,841.1 191.6,840.6 192.1,840.1 192.6,839.5 193.1,838.9 193.6,838.3 194.1,837.6 194.6,836.9 195.1,836.1 195.6,835.3 196.1,834.4 196.6,833.5 197.1,832.5 197.6,831.5 198.1,830.3 198.6,829.1 199.1,827.9 199.6,826.5 200.1,825.0 200.6,823.4 201.1,821.7 201.6,819.9 202.1,817.9 202.6,815.8 203.1,813.5 203.6,811.0 204.1,808.4 204.6,805.5 205.1,802.4 205.6,799.0 206.1,795.4 206.6,791.6 207.1,787.4 207.6,783.0 208.1,778.3 208.6,773.3 209.1,768.0 209.6,762.4 210.1,756.7 210.6,750.8 211.1,744.8 211.6,738.9 212.1,733.2 212.6,727.8 213.1,722.9 213.6,718.7 214.1,715.4 214.6,713.0 215.1,711.7 215.6,711.6 216.1,712.6 216.6,714.8 217.1,718.0 217.6,722.0 218.1,726.8 218.6,732.1 219.1,737.8 219.6,743.6 220.1,749.6 220.6,755.5 221.1,761.3 221.6,766.9 222.1,772.2 222.6,777.3 223.1,782.1 223.6,786.6 224.1,790.8 224.6,794.7 225.1,798.3 225.6,801.7 226.1,804.9 226.6,807.8 227.1,810.5 227.6,813.0 228.1,815.3 228.6,817.5 229.1,819.5 229.6,821.4 230.1,823.1 230.6,824.7 231.1,826.2 231.6,827.6 232.1,828.9 232.6,830.1 233.1,831.2 233.6,832.3 234.1,833.3 234.6,834.2 235.1,835.1 235.6,835.9 236.1,836.7 236.6,837.5 237.1,838.1 237.6,838.8 238.1,839.4 238.6,840.0 239.1,840.5 239.6,841.0 240.1,841.5 240.6,842.0 241.1,842.4 241.6,842.9 242.1,843.3 242.6,843.6 243.1,844.0 243.6,844.3 244.1,844.7 244.6,845.0 245.1,845.3 245.6,845.6 246.1,845.8 246.6,846.1 247.1,846.3 247.6,846.6 248.1,846.8 248.6,847.0 249.1,847.2 249.6,847.4 250.1,847.6 250.6,847.8 251.1,848.0 251.6,848.2 252.1,848.3 252.6,848.5 253.1,848.6 253.6,848.8 254.1,848.9 254.6,849.1 255.1,849.2 255.6,849.3 256.1,849.4 256.6,849.6 257.1,849.7 257.6,849.8 258.1,849.9 258.6,850.0 259.1,850.1 259.6,850.2 260.1,850.3 260.6,850.4 261.1,850.5 261.6,850.5 262.1,850.6 262.6,850.7 263.1,850.8 263.6,850.9 264.1,850.9 264.6,851.0 265.1,851.1 265.6,851.1 266.1,851.2 266.6,851.3 267.1,851.3 267.6,851.4 268.1,851.4 268.6,851.5 269.1,851.5 269.6,851.6 270.1,851.7 270.6,851.7 271.1,851.7 271.6,851.8 272.1,851.8 272.6,851.9 273.1,851.9 273.6,852.0 274.1,852.0 274.6,852.1 275.1,852.1 275.6,852.1 276.1,852.2 276.6,852.2 277.1,852.3 277.6,852.3 278.1,852.3 278.6,852.4 279.1,852.4 279.6,852.4 280.1,852.5 280.6,852.5 281.1,852.5 281.6,852.5 282.1,852.6 282.6,852.6 283.1,852.6 283.6,852.7 284.1,852.7 284.6,852.7 285.1,852.7 285.6,852.8 286.1,852.8 286.6,852.8 287.1,852.8 287.6,852.9 288.1,852.9 288.6,852.9 289.1,852.9 289.6,852.9 290.1,853.0 290.6,853.0 291.1,853.0 291.6,853.0 292.1,853.0 292.6,853.1 293.1,853.1 293.6,853.1 294.1,853.1 294.6,853.1 295.1,853.1 295.6,853.2 296.1,853.2 296.6,853.2 297.1,853.2 297.6,853.2 298.1,853.2 298.6,853.3 299.1,853.3 299.6,853.3 300.1,853.3 300.6,853.3 301.1,853.3 301.6,853.3 302.1,853.4 302.6,853.4 303.1,853.4 303.6,853.4 304.1,853.4 304.6,853.4 305.1,853.4 305.6,853.4 306.1,853.5 306.6,853.5 307.1,853.5 307.6,853.5 308.1,853.5 308.6,853.5 309.1,853.5 309.6,853.5 310.1,853.5 310.6,853.5 311.1,853.6 311.6,853.6 312.1,853.6 312.6,853.6 313.1,853.6 313.6,853.6 314.1,853.6 314.6,853.6 315.1,853.6 315.6,853.6 316.1,853.6 316.6,853.7 317.1,853.7 317.6,853.7 318.1,853.7 318.6,853.7 319.1,853.7 319.6,853.7 320.1,853.7 320.6,853.7 321.1,853.7 321.6,853.7 322.1,853.7 322.6,853.7 323.1,853.8 323.6,853.8 324.1,853.8 324.6,853.8 325.1,853.8 325.6,853.8 326.1,853.8 326.6,853.8 327.1,853.8 327.6,853.8 328.1,853.8 328.6,853.8 329.1,853.8 329.6,853.8 330.1,853.8 330.6,853.8 331.1,853.9 331.6,853.9 332.1,853.9 332.6,853.9 333.1,853.9 333.6,853.9 334.1,853.9 334.6,853.9 335.1,853.9 335.6,853.9 336.1,853.9 336.6,853.9 337.1,853.9 337.6,853.9 338.1,853.9 338.6,853.9 339.1,853.9 339.6,853.9 340.1,853.9 340.6,853.9 341.1,854.0 341.6,854.0 342.1,854.0 342.6,854.0 343.1,854.0 343.6,854.0 344.1,854.0 344.6,854.0 345.1,854.0 345.6,854.0 346.1,854.0 346.6,854.0 347.1,854.0 347.6,854.0 348.1,854.0 348.6,854.0 349.1,854.0 349.6,854.0 350.1,854.0 350.6,854.0 351.1,854.0 351.6,854.0 352.1,854.0 352.6,854.0 353.1,854.0 353.6,854.0 354.1,854.0 354.6,854.1 355.1,854.1 355.6,854.1 356.1,854.1 356.6,854.1 357.1,854.1 357.6,854.1 358.1,854.1 358.6,854.1 359.1,854.1 359.6,854.1 360.1,854.1 360.6,854.1 361.1,854.1 361.6,854.1 362.1,854.1 362.6,854.1 363.1,854.1 363.6,854.1 364.1,854.1 364.6,854.1 365.1,854.1 365.6,854.1 366.1,854.1 366.6,854.1 367.1,854.1 367.6,854.1 368.1,854.1 368.6,854.1 369.1,854.1 369.6,854.1 370.1,854.1 370.6,854.1 371.1,854.1 371.6,854.1 372.1,854.1 372.6,854.1 373.1,854.2 373.6,854.2 374.1,854.2 374.6,854.2 375.1,854.2 375.6,854.2 376.1,854.2 376.6,854.2 377.1,854.2 377.6,854.2 378.1,854.2 378.6,854.2 379.1,854.2 379.6,854.2 380.1,854.2 380.6,854.2 381.1,854.2 381.6,854.2 382.1,854.2 382.6,854.2 383.1,854.2 383.6,854.2 384.1,854.2 384.6,854.2 385.1,854.2 385.6,854.2 386.1,854.2 386.6,854.2 387.1,854.2 387.6,854.2 388.1,854.2 388.6,854.2 389.1,854.2 389.6,854.2 390.1,854.2 390.6,854.2 391.1,854.2 391.6,854.2 392.1,854.2 392.6,854.2 393.1,854.2 393.6,854.2 394.1,854.2 394.6,854.2 395.1,854.2 395.6,854.2 396.1,854.2 396.6,854.2 397.1,854.2 397.6,854.2 398.1,854.2 398.6,854.2 399.1,854.2 399.6,854.2 400.1,854.2 400.6,854.2 401.1,854.2 401.6,854.2 402.1,854.3 402.6,854.3 403.1,854.3 403.6,854.3 404.1,854.3 404.6,854.3 405.1,854.3 405.6,854.3 406.1,854.3 406.6,854.3 407.1,854.3 407.6,854.3 408.1,854.3 408.6,854.3 409.1,854.3 409.6,854.3 410.1,854.3 410.6,854.3 411.1,854.3 411.6,854.3 412.1,854.3 412.6,854.3 413.1,854.3 413.6,854.3 414.1,854.3 414.6,854.3 415.1,854.3 415.6,854.3 416.1,854.3 416.6,854.3 417.1,854.3 417.6,854.3 418.1,854.3 418.6,854.3 419.1,854.3 419.6,854.3 420.1,854.3 420.6,854.3 421.1,854.3 421.6,854.3 422.1,854.3 422.6,854.3 423.1,854.3 423.6,854.3 424.1,854.3 424.6,854.3 425.1,854.3 425.6,854.3 426.1,854.3 426.6,854.3 427.1,854.3 427.6,854.3 428.1,854.3 428.6,854.3 429.1,854.3 429.6,854.3 430.1,854.3 430.6,854.3 431.1,854.3 431.6,854.3 432.1,854.3 432.6,854.3 433.1,854.3 433.6,854.3 434.1,854.3 434.6,854.3 435.1,854.3 435.6,854.3 436.1,854.3 436.6,854.3 437.1,854.3 437.6,854.3 438.1,854.3 438.6,854.3 439.1,854.3 439.6,854.3 440.1,854.3 440.6,854.3 441.1,854.3 441.6,854.3 442.1,854.3 442.6,854.3 443.1,854.3 443.6,854.3 444.1,854.3 444.6,854.3 445.1,854.3 445.6,854.3 446.1,854.3 446.6,854.3 447.1,854.3 447.6,854.3 448.1,854.3 448.6,854.3 449.1,854.3 449.6,854.3 450.1,854.3 450.6,854.3 451.1,854.3 451.6,854.3 452.1,854.3 452.6,854.3 453.1,854.3 453.6,854.3 454.1,854.3 454.6,854.3 455.1,854.3 455.6,854.3 456.1,854.3 456.6,854.4 457.1,854.4 457.6,854.4 458.1,854.4 458.6,854.4 459.1,854.4 459.6,854.4 460.1,854.4 460.6,854.4 461.1,854.4 461.6,854.4 462.1,854.4 462.6,854.4 463.1,854.4 463.6,854.4 464.1,854.4 464.6,854.4 465.1,854.4 465.6,854.4 466.1,854.4 466.6,854.4 467.1,854.4 467.6,854.4 468.1,854.4 468.6,854.4 469.1,854.4 469.6,854.4 470.1,854.4 470.6,854.4 471.1,854.4 471.6,854.4 472.1,854.4 472.6,854.4 473.1,854.4 473.6,854.4 474.1,854.4 474.6,854.4 475.1,854.4 475.6,854.4 476.1,854.4 476.6,854.4 477.1,854.4 477.6,854.4 478.1,854.4 478.6,854.4 479.1,854.4 479.6,854.4 480.1,854.4 480.6,854.4 481.1,854.4 481.6,854.4 482.1,854.4 482.6,854.4 483.1,854.4 483.6,854.4 484.1,854.4 484.6,854.4 485.1,854.4 485.6,854.4 486.1,854.4 486.6,854.4 487.1,854.4 487.6,854.4 488.1,854.4 488.6,854.4 489.1,854.4 489.6,854.4 490.1,854.4 490.6,854.4 491.1,854.4 491.6,854.4 492.1,854.4 492.6,854.4 493.1,854.4 493.6,854.4 494.1,854.4 494.6,854.4 495.1,854.4 495.6,854.4 496.1,854.4 496.6,854.4 497.1,854.4 497.6,854.4 498.1,854.4 498.6,854.4 499.1,854.4 499.6,854.4 500.1,854.4 500.6,854.4 501.1,854.4 501.6,854.4 502.1,854.4 502.6,854.4 503.1,854.4 503.6,854.4 504.1,854.4 504.6,854.4 505.1,854.4 505.6,854.4 506.1,854.4 506.6,854.4 507.1,854.4 507.6,854.4 508.1,854.4 508.6,854.4 509.1,854.4 509.6,854.4 510.1,854.4 510.6,854.4 511.1,854.4 511.6,854.4 512.1,854.4 512.6,854.4 513.1,854.4 513.6,854.4 514.1,854.4 514.6,854.4 515.1,854.4 515.6,854.4 516.1,854.4 516.6,854.4 517.1,854.4 517.6,854.4 518.1,854.4 518.6,854.4 519.1,854.4 519.6,854.4 520.1,854.4 520.6,854.4 521.1,854.4 521.6,854.4 522.1,854.4 522.6,854.4 523.1,854.4 523.6,854.4 524.1,854.4 524.6,854.4 525.1,854.4 525.6,854.4 526.1,854.4 526.6,854.4 527.1,854.4 527.6,854.4 528.1,854.4 528.6,854.4 529.1,854.4 529.6,854.4 530.1,854.4 530.6,854.4 531.1,854.4 531.6,854.4 532.1,854.4 532.6,854.4 533.1,854.4 533.6,854.4 534.1,854.4 534.6,854.4 535.1,854.4 535.6,854.4 536.1,854.4 536.6,854.4 537.1,854.4 537.6,854.4 538.1,854.4 538.6,854.4" fill="none" stroke="#737373" stroke-width="2.4"/>
<path d="M38.6,846.0 39.1,845.9 39.6,845.8 40.1,845.7 40.6,845.6 41.1,845.4 41.6,845.3 42.1,845.2 42.6,845.0 43.1,844.9 43.6,844.8 44.1,844.6 44.6,844.5 45.1,844.3 45.6,844.2 46.1,844.0 46.6,843.9 47.1,843.7 47.6,843.6 48.1,843.4 48.6,843.2 49.1,843.1 49.6,842.9 50.1,842.7 50.6,842.5 51.1,842.3 51.6,842.1 52.1,841.9 52.6,841.7 53.1,841.5 53.6,841.2 54.1,841.0 54.6,840.8 55.1,840.6 55.6,840.4 56.1,840.2 56.6,840.0 57.1,839.8 57.6,839.6 58.1,839.4 58.6,839.2 59.1,839.0 59.6,838.8 60.1,838.6 60.6,838.4 61.1,838.2 61.6,838.0 62.1,837.8 62.6,837.6 63.1,837.4 63.6,837.2 64.1,837.0 64.6,836.8 65.1,836.5 65.6,836.3 66.1,836.0 66.6,835.7 67.1,835.4 67.6,835.1 68.1,834.8 68.6,834.6 69.1,834.3 69.6,834.1 70.1,834.0 70.6,833.8 71.1,833.7 71.6,833.7 72.1,833.7 72.6,833.7 73.1,833.8 73.6,833.9 74.1,833.9 74.6,834.0 75.1,834.1 75.6,834.2 76.1,834.3 76.6,834.4 77.1,834.4 77.6,834.5 78.1,834.5 78.6,834.4 79.1,833.8 79.6,832.9 80.1,831.7 80.6,830.1 81.1,826.4 81.6,817.7 82.1,805.7 82.6,792.5 83.1,779.8 83.6,768.5 84.1,755.1 84.6,741.4 85.1,729.7 85.6,722.4 86.1,721.3 86.6,724.4 87.1,730.0 87.6,737.0 88.1,744.3 88.6,750.7 89.1,757.3 89.6,764.6 90.1,772.2 90.6,779.8 91.1,786.9 91.6,793.4 92.1,798.7 92.6,802.8 93.1,806.7 93.6,810.4 94.1,813.6 94.6,816.2 95.1,817.8 95.6,818.2 96.1,817.4 96.6,815.7 97.1,813.4 97.6,810.7 98.1,807.9 98.6,805.3 99.1,803.2 99.6,801.3 100.1,799.6 100.6,797.9 101.1,796.1 101.6,794.2 102.1,792.0 102.6,789.5 103.1,786.5 103.6,782.7 104.1,778.1 104.6,773.0 105.1,767.5 105.6,761.8 106.1,756.1 106.6,750.6 107.1,745.1 107.6,739.3 108.1,733.4 108.6,727.3 109.1,721.3 109.6,715.4 110.1,709.8 110.6,704.5 111.1,699.2 111.6,693.9 112.1,688.6 112.6,683.5 113.1,678.8 113.6,674.6 114.1,671.0 114.6,668.1 115.1,665.3 115.6,662.5 116.1,659.9 116.6,657.6 117.1,655.8 117.6,654.4 118.1,653.8 118.6,654.1 119.1,656.0 119.6,659.1 120.1,662.5 120.6,665.6 121.1,667.5 121.6,667.7 122.1,665.7 122.6,662.1 123.1,657.4 123.6,652.5 124.1,647.8 124.6,644.2 125.1,642.2 125.6,642.1 126.1,642.5 126.6,643.2 127.1,644.3 127.6,645.6 128.1,647.2 128.6,648.9 129.1,650.8 129.6,652.9 130.1,655.1 130.6,658.0 131.1,662.0 131.6,666.8 132.1,672.1 132.6,677.9 133.1,684.0 133.6,690.0 134.1,696.6 134.6,704.3 135.1,712.5 135.6,721.0 136.1,729.2 136.6,736.9 137.1,743.5 137.6,749.4 138.1,755.2 138.6,760.7 139.1,765.8 139.6,770.5 140.1,774.7 140.6,778.4 141.1,781.7 141.6,784.7 142.1,787.6 142.6,790.3 143.1,792.8 143.6,795.2 144.1,797.4 144.6,799.4 145.1,801.2 145.6,802.8 146.1,804.3 146.6,805.7 147.1,807.0 147.6,808.3 148.1,809.6 148.6,810.7 149.1,811.7 149.6,812.7 150.1,813.5 150.6,814.1 151.1,814.5 151.6,814.8 152.1,815.0 152.6,815.2 153.1,815.4 153.6,815.6 154.1,815.8 154.6,815.9 155.1,816.1 155.6,816.2 156.1,816.3 156.6,816.4 157.1,816.4 157.6,816.5 158.1,816.5 158.6,816.5 159.1,816.4 159.6,816.2 160.1,816.0 160.6,815.6 161.1,815.3 161.6,814.9 162.1,814.6 162.6,814.3 163.1,814.1 163.6,814.0 164.1,814.0 164.6,814.2 165.1,814.5 165.6,814.8 166.1,815.2 166.6,815.7 167.1,816.0 167.6,816.3 168.1,816.5 168.6,816.5 169.1,816.3 169.6,816.0 170.1,815.6 170.6,815.0 171.1,814.4 171.6,813.6 172.1,812.7 172.6,811.7 173.1,810.7 173.6,809.6 174.1,808.5 174.6,807.4 175.1,806.0 175.6,804.3 176.1,802.3 176.6,800.0 177.1,797.5 177.6,794.6 178.1,791.5 178.6,788.2 179.1,784.6 179.6,780.7 180.1,776.4 180.6,771.0 181.1,764.5 181.6,757.2 182.1,749.1 182.6,740.4 183.1,731.3 183.6,721.8 184.1,710.5 184.6,697.8 185.1,684.2 185.6,670.2 186.1,656.6 186.6,643.8 187.1,632.3 187.6,620.9 188.1,609.6 188.6,598.6 189.1,588.2 189.6,578.9 190.1,570.9 190.6,564.4 191.1,558.4 191.6,552.8 192.1,548.1 192.6,545.0 193.1,544.3 193.6,546.9 194.1,552.7 194.6,560.6 195.1,569.9 195.6,579.6 196.1,589.7 196.6,602.7 197.1,617.9 197.6,634.5 198.1,651.4 198.6,667.7 199.1,682.4 199.6,695.0 200.1,707.9 200.6,721.2 201.1,734.0 201.6,745.3 202.1,754.2 202.6,759.8 203.1,761.3 203.6,760.5 204.1,758.7 204.6,756.2 205.1,753.2 205.6,749.8 206.1,746.3 206.6,742.8 207.1,738.5 207.6,733.1 208.1,727.3 208.6,721.3 209.1,715.7 209.6,711.0 210.1,707.4 210.6,704.2 211.1,701.1 211.6,698.3 212.1,695.8 212.6,693.8 213.1,692.5 213.6,692.0 214.1,692.5 214.6,693.9 215.1,696.0 215.6,698.6 216.1,701.4 216.6,704.5 217.1,707.4 217.6,710.4 218.1,713.7 218.6,717.4 219.1,721.4 219.6,725.6 220.1,729.9 220.6,734.3 221.1,738.7 221.6,743.1 222.1,747.3 222.6,751.4 223.1,755.5 223.6,759.7 224.1,764.0 224.6,768.4 225.1,772.6 225.6,776.8 226.1,780.9 226.6,784.7 227.1,788.3 227.6,791.5 228.1,794.4 228.6,797.2 229.1,799.9 229.6,802.5 230.1,804.9 230.6,807.3 231.1,809.4 231.6,811.4 232.1,813.2 232.6,814.9 233.1,816.3 233.6,817.6 234.1,818.8 234.6,820.1 235.1,821.3 235.6,822.4 236.1,823.6 236.6,824.6 237.1,825.7 237.6,826.7 238.1,827.7 238.6,828.6 239.1,829.5 239.6,830.3 240.1,831.2 240.6,831.9 241.1,832.7 241.6,833.4 242.1,834.0 242.6,834.6 243.1,835.2 243.6,835.7 244.1,836.2 244.6,836.7 245.1,837.1 245.6,837.5 246.1,837.8 246.6,838.2 247.1,838.6 247.6,838.9 248.1,839.2 248.6,839.6 249.1,839.9 249.6,840.2 250.1,840.5 250.6,840.8 251.1,841.0 251.6,841.3 252.1,841.5 252.6,841.8 253.1,842.0 253.6,842.2 254.1,842.5 254.6,842.7 255.1,842.9 255.6,843.1 256.1,843.3 256.6,843.4 257.1,843.6 257.6,843.8 258.1,843.9 258.6,844.1 259.1,844.2 259.6,844.4 260.1,844.5 260.6,844.7 261.1,844.8 261.6,844.9 262.1,845.0 262.6,845.2 263.1,845.3 263.6,845.4 264.1,845.5 264.6,845.7 265.1,845.8 265.6,845.9 266.1,846.0 266.6,846.1 267.1,846.2 267.6,846.3 268.1,846.4 268.6,846.5 269.1,846.6 269.6,846.7 270.1,846.8 270.6,846.9 271.1,847.0 271.6,847.1 272.1,847.2 272.6,847.3 273.1,847.4 273.6,847.5 274.1,847.6 274.6,847.6 275.1,847.7 275.6,847.8 276.1,847.9 276.6,848.0 277.1,848.0 277.6,848.1 278.1,848.2 278.6,848.3 279.1,848.3 279.6,848.4 280.1,848.5 280.6,848.5 281.1,848.6 281.6,848.7 282.1,848.7 282.6,848.8 283.1,848.9 283.6,848.9 284.1,849.0 284.6,849.0 285.1,849.1 285.6,849.1 286.1,849.2 286.6,849.3 287.1,849.3 287.6,849.4 288.1,849.4 288.6,849.5 289.1,849.5 289.6,849.6 290.1,849.6 290.6,849.7 291.1,849.7 291.6,849.8 292.1,849.8 292.6,849.8 293.1,849.9 293.6,849.9 294.1,850.0 294.6,850.0 295.1,850.1 295.6,850.1 296.1,850.2 296.6,850.2 297.1,850.3 297.6,850.3 298.1,850.3 298.6,850.4 299.1,850.4 299.6,850.5 300.1,850.5 300.6,850.6 301.1,850.6 301.6,850.6 302.1,850.7 302.6,850.7 303.1,850.8 303.6,850.8 304.1,850.8 304.6,850.9 305.1,850.9 305.6,851.0 306.1,851.0 306.6,851.0 307.1,851.1 307.6,851.1 308.1,851.2 308.6,851.2 309.1,851.2 309.6,851.3 310.1,851.3 310.6,851.3 311.1,851.4 311.6,851.4 312.1,851.4 312.6,851.5 313.1,851.5 313.6,851.5 314.1,851.6 314.6,851.6 315.1,851.6 315.6,851.7 316.1,851.7 316.6,851.7 317.1,851.8 317.6,851.8 318.1,851.8 318.6,851.8 319.1,851.9 319.6,851.9 320.1,851.9 320.6,852.0 321.1,852.0 321.6,852.0 322.1,852.0 322.6,852.1 323.1,852.1 323.6,852.1 324.1,852.1 324.6,852.2 325.1,852.2 325.6,852.2 326.1,852.2 326.6,852.3 327.1,852.3 327.6,852.3 328.1,852.3 328.6,852.3 329.1,852.4 329.6,852.4 330.1,852.4 330.6,852.4 331.1,852.4 331.6,852.4 332.1,852.5 332.6,852.5 333.1,852.5 333.6,852.5 334.1,852.5 334.6,852.5 335.1,852.5 335.6,852.6 336.1,852.6 336.6,852.6 337.1,852.6 337.6,852.6 338.1,852.6 338.6,852.6 339.1,852.6 339.6,852.6 340.1,852.6 340.6,852.6 341.1,852.7 341.6,852.7 342.1,852.7 342.6,852.7 343.1,852.7 343.6,852.7 344.1,852.7 344.6,852.7 345.1,852.7 345.6,852.7 346.1,852.7 346.6,852.7 347.1,852.7 347.6,852.8 348.1,852.8 348.6,852.8 349.1,852.8 349.6,852.8 350.1,852.8 350.6,852.8 351.1,852.8 351.6,852.8 352.1,852.8 352.6,852.8 353.1,852.8 353.6,852.8 354.1,852.8 354.6,852.8 355.1,852.9 355.6,852.9 356.1,852.9 356.6,852.9 357.1,852.9 357.6,852.9 358.1,852.9 358.6,852.9 359.1,852.9 359.6,852.9 360.1,852.9 360.6,852.9 361.1,852.9 361.6,852.9 362.1,852.9 362.6,852.9 363.1,852.9 363.6,853.0 364.1,853.0 364.6,853.0 365.1,853.0 365.6,853.0 366.1,853.0 366.6,853.0 367.1,853.0 367.6,853.0 368.1,853.0 368.6,853.0 369.1,853.0 369.6,853.0 370.1,853.0 370.6,853.0 371.1,853.0 371.6,853.0 372.1,853.0 372.6,853.0 373.1,853.0 373.6,853.0 374.1,853.0 374.6,853.1 375.1,853.1 375.6,853.1 376.1,853.1 376.6,853.1 377.1,853.1 377.6,853.1 378.1,853.1 378.6,853.1 379.1,853.1 379.6,853.1 380.1,853.1 380.6,853.1 381.1,853.1 381.6,853.1 382.1,853.1 382.6,853.1 383.1,853.1 383.6,853.1 384.1,853.1 384.6,853.1 385.1,853.1 385.6,853.1 386.1,853.1 386.6,853.1 387.1,853.1 387.6,853.1 388.1,853.1 388.6,853.1 389.1,853.1 389.6,853.2 390.1,853.2 390.6,853.2 391.1,853.2 391.6,853.2 392.1,853.2 392.6,853.2 393.1,853.2 393.6,853.2 394.1,853.2 394.6,853.2 395.1,853.2 395.6,853.2 396.1,853.2 396.6,853.2 397.1,853.2 397.6,853.2 398.1,853.2 398.6,853.2 399.1,853.2 399.6,853.2 400.1,853.2 400.6,853.2 401.1,853.2 401.6,853.2 402.1,853.2 402.6,853.2 403.1,853.2 403.6,853.2 404.1,853.2 404.6,853.2 405.1,853.2 405.6,853.2 406.1,853.2 406.6,853.2 407.1,853.2 407.6,853.2 408.1,853.2 408.6,853.2 409.1,853.2 409.6,853.2 410.1,853.2 410.6,853.2 411.1,853.2 411.6,853.2 412.1,853.2 412.6,853.2 413.1,853.2 413.6,853.3 414.1,853.3 414.6,853.3 415.1,853.3 415.6,853.3 416.1,853.3 416.6,853.3 417.1,853.3 417.6,853.3 418.1,853.3 418.6,853.3 419.1,853.3 419.6,853.3 420.1,853.3 420.6,853.3 421.1,853.3 421.6,853.3 422.1,853.3 422.6,853.3 423.1,853.3 423.6,853.3 424.1,853.3 424.6,853.3 425.1,853.3 425.6,853.3 426.1,853.3 426.6,853.3 427.1,853.3 427.6,853.3 428.1,853.3 428.6,853.3 429.1,853.3 429.6,853.3 430.1,853.3 430.6,853.3 431.1,853.3 431.6,853.3 432.1,853.3 432.6,853.3 433.1,853.3 433.6,853.3 434.1,853.3 434.6,853.3 435.1,853.3 435.6,853.3 436.1,853.3 436.6,853.3 437.1,853.3 437.6,853.3 438.1,853.3 438.6,853.3 439.1,853.3 439.6,853.3 440.1,853.3 440.6,853.3 441.1,853.3 441.6,853.3 442.1,853.3 442.6,853.3 443.1,853.3 443.6,853.3 444.1,853.4 444.6,853.4 445.1,853.4 445.6,853.4 446.1,853.4 446.6,853.4 447.1,853.4 447.6,853.4 448.1,853.4 448.6,853.4 449.1,853.4 449.6,853.4 450.1,853.4 450.6,853.4 451.1,853.4 451.6,853.4 452.1,853.4 452.6,853.4 453.1,853.4 453.6,853.4 454.1,853.4 454.6,853.4 455.1,853.4 455.6,853.4 456.1,853.4 456.6,853.4 457.1,853.4 457.6,853.4 458.1,853.4 458.6,853.4 459.1,853.4 459.6,853.4 460.1,853.4 460.6,853.4 461.1,853.4 461.6,853.4 462.1,853.4 462.6,853.4 463.1,853.4 463.6,853.4 464.1,853.4 464.6,853.4 465.1,853.4 465.6,853.4 466.1,853.4 466.6,853.4 467.1,853.4 467.6,853.4 468.1,853.4 468.6,853.4 469.1,853.4 469.6,853.4 470.1,853.4 470.6,853.4 471.1,853.4 471.6,853.4 472.1,853.4 472.6,853.4 473.1,853.4 473.6,853.4 474.1,853.4 474.6,853.4 475.1,853.4 475.6,853.4 476.1,853.4 476.6,853.4 477.1,853.4 477.6,853.4 478.1,853.4 478.6,853.4 479.1,853.4 479.6,853.4 480.1,853.4 480.6,853.4 481.1,853.4 481.6,853.4 482.1,853.4 482.6,853.4 483.1,853.4 483.6,853.4 484.1,853.4 484.6,853.4 485.1,853.4 485.6,853.5 486.1,853.5 486.6,853.5 487.1,853.5 487.6,853.5 488.1,853.5 488.6,853.5 489.1,853.5 489.6,853.5 490.1,853.5 490.6,853.5 491.1,853.5 491.6,853.5 492.1,853.5 492.6,853.5 493.1,853.5 493.6,853.5 494.1,853.5 494.6,853.5 495.1,853.5 495.6,853.5 496.1,853.5 496.6,853.5 497.1,853.5 497.6,853.5 498.1,853.5 498.6,853.5 499.1,853.5 499.6,853.5 500.1,853.5 500.6,853.5 501.1,853.5 501.6,853.5 502.1,853.5 502.6,853.5 503.1,853.5 503.6,853.5 504.1,853.5 504.6,853.5 505.1,853.5 505.6,853.5 506.1,853.5 506.6,853.5 507.1,853.5 507.6,853.5 508.1,853.5 508.6,853.5 509.1,853.5 509.6,853.5 510.1,853.5 510.6,853.5 511.1,853.5 511.6,853.5 512.1,853.5 512.6,853.5 513.1,853.5 513.6,853.5 514.1,853.5 514.6,853.5 515.1,853.5 515.6,853.5 516.1,853.5 516.6,853.5 517.1,853.5 517.6,853.5 518.1,853.5 518.6,853.5 519.1,853.5 519.6,853.5 520.1,853.5 520.6,853.5 521.1,853.5 521.6,853.5 522.1,853.5 522.6,853.5 523.1,853.5 523.6,853.5 524.1,853.5 524.6,853.5 525.1,853.5 525.6,853.5 526.1,853.5 526.6,853.5 527.1,853.5 527.6,853.5 528.1,853.5 528.6,853.5 529.1,853.5 529.6,853.5 530.1,853.5 530.6,853.5 531.1,853.5 531.6,853.5 532.1,853.5 532.6,853.5 533.1,853.5 533.6,853.5 534.1,853.5 534.6,853.5 535.1,853.5 535.6,853.5 536.1,853.5 536.6,853.5 537.1,853.5 537.6,853.5 538.1,853.5 538.6,853.5" fill="none" stroke="#f7820f" stroke-width="3.2" stroke-linejoin="round"/>
<path d="M38.6,500.0 L538.6,500.0 L538.6,854.5 L38.6,854.5 Z" fill="none" stroke="#000" stroke-width="2.05"/>
<line x1="31.6" y1="500.00" x2="38.6" y2="500.00" stroke="#000" stroke-width="2"/>
<line x1="35.1" y1="525.32" x2="38.6" y2="525.32" stroke="#000" stroke-width="2"/>
<line x1="31.6" y1="550.64" x2="38.6" y2="550.64" stroke="#000" stroke-width="2"/>
<line x1="35.1" y1="575.96" x2="38.6" y2="575.96" stroke="#000" stroke-width="2"/>
<line x1="31.6" y1="601.29" x2="38.6" y2="601.29" stroke="#000" stroke-width="2"/>
<line x1="35.1" y1="626.61" x2="38.6" y2="626.61" stroke="#000" stroke-width="2"/>
<line x1="31.6" y1="651.93" x2="38.6" y2="651.93" stroke="#000" stroke-width="2"/>
<line x1="35.1" y1="677.25" x2="38.6" y2="677.25" stroke="#000" stroke-width="2"/>
<line x1="31.6" y1="702.57" x2="38.6" y2="702.57" stroke="#000" stroke-width="2"/>
<line x1="35.1" y1="727.89" x2="38.6" y2="727.89" stroke="#000" stroke-width="2"/>
<line x1="31.6" y1="753.21" x2="38.6" y2="753.21" stroke="#000" stroke-width="2"/>
<line x1="35.1" y1="778.54" x2="38.6" y2="778.54" stroke="#000" stroke-width="2"/>
<line x1="31.6" y1="803.86" x2="38.6" y2="803.86" stroke="#000" stroke-width="2"/>
<line x1="35.1" y1="829.18" x2="38.6" y2="829.18" stroke="#000" stroke-width="2"/>
<line x1="31.6" y1="854.50" x2="38.6" y2="854.50" stroke="#000" stroke-width="2"/>
<line x1="38.60" y1="854.5" x2="38.60" y2="861.0" stroke="#000" stroke-width="2"/>
<text x="38.60" y="885.50" font-size="21" text-anchor="middle" fill="#000" >950</text>
<line x1="138.60" y1="854.5" x2="138.60" y2="861.0" stroke="#000" stroke-width="2"/>
<text x="138.60" y="885.50" font-size="21" text-anchor="middle" fill="#000" >1000</text>
<line x1="238.60" y1="854.5" x2="238.60" y2="861.0" stroke="#000" stroke-width="2"/>
<text x="238.60" y="885.50" font-size="21" text-anchor="middle" fill="#000" >1050</text>
<line x1="338.60" y1="854.5" x2="338.60" y2="861.0" stroke="#000" stroke-width="2"/>
<text x="338.60" y="885.50" font-size="21" text-anchor="middle" fill="#000" >1100</text>
<line x1="438.60" y1="854.5" x2="438.60" y2="861.0" stroke="#000" stroke-width="2"/>
<text x="438.60" y="885.50" font-size="21" text-anchor="middle" fill="#000" >1150</text>
<line x1="538.60" y1="854.5" x2="538.60" y2="861.0" stroke="#000" stroke-width="2"/>
<text x="538.60" y="885.50" font-size="21" text-anchor="middle" fill="#000" >1200</text>
<text x="288.50" y="915.50" font-size="21.5" text-anchor="middle" fill="#000" >Wavelength (nm)</text>
<text x="18.50" y="676.00" font-size="21.5" text-anchor="middle" fill="#000" transform="rotate(-90 18.5 676)">Intensity (a.u.)</text>
<text x="2.50" y="500.00" font-size="31.5" text-anchor="start" fill="#000" font-weight="bold">c</text>
<text x="417" y="539.5" font-size="21.2"><tspan font-style="italic">T</tspan> = 120 K</text>
<line x1="340.8" y1="576" x2="399.2" y2="576" stroke="#f7820f" stroke-width="3"/>
<text x="410.00" y="584.70" font-size="26.5" text-anchor="start" fill="#000" >Exp PL</text>
<line x1="340.8" y1="608.2" x2="399.2" y2="608.2" stroke="#7a7a7a" stroke-width="1.8"/>
<text x="410.00" y="616.80" font-size="26.5" text-anchor="start" fill="#000" >electronic</text>
<rect x="341" y="627" width="57.5" height="27.5" fill="#fcc6e4" stroke="#8a8a8a" stroke-width="1"/>
<text x="410.00" y="648.50" font-size="26.5" text-anchor="start" fill="#000" >vibronic</text>
<rect x="842.5" y="318.5" width="333.5" height="54" fill="#e6e6e6"/>
<text x="999.60" y="354.00" font-size="21.4" text-anchor="middle" fill="#000" >non-fluorescence region</text>
<path d="M718.0,367.4 718.4,367.8 718.8,367.5 719.2,367.2 719.6,367.4 720.0,366.5 720.4,366.2 720.8,366.0 721.2,365.3 721.6,365.0 722.0,364.9 722.4,364.6 722.8,364.5 723.2,364.2 723.6,363.9 724.0,364.0 724.4,364.0 724.8,363.9 725.2,363.9 725.6,363.2 726.0,362.4 726.4,362.3 726.8,361.9 727.2,362.1 727.6,362.3 728.0,362.4 728.4,362.2 728.8,361.9 729.2,361.5 729.6,361.5 730.0,361.3 730.4,361.1 730.8,360.9 731.2,360.5 731.6,360.4 732.0,360.2 732.4,360.3 732.8,359.9 733.2,359.9 733.6,359.4 734.0,358.5 734.4,358.1 734.8,357.2 735.2,356.4 735.6,355.4 736.0,353.8 736.4,351.5 736.8,348.3 737.2,344.3 737.6,338.3 738.0,306.5 738.4,267.4 738.8,254.7 739.2,259.1 739.6,268.6 740.0,279.9 740.4,290.6 740.8,301.1 741.2,313.0 741.6,325.0 742.0,335.0 742.4,341.7 742.8,343.1 743.2,342.6 743.6,340.8 744.0,338.7 744.4,335.8 744.8,331.4 745.2,327.6 745.6,322.5 746.0,316.3 746.4,307.3 746.8,294.4 747.2,280.1 747.6,264.2 748.0,248.8 748.4,234.7 748.8,221.7 749.2,207.2 749.6,191.3 750.0,175.3 750.4,160.7 750.8,148.3 751.2,139.0 751.6,134.8 752.0,135.3 752.4,138.6 752.8,142.4 753.2,145.0 753.6,145.2 754.0,140.9 754.4,134.8 754.8,129.3 755.2,126.5 755.6,129.4 756.0,136.1 756.4,145.8 756.8,156.9 757.2,167.5 757.6,178.1 758.0,190.1 758.4,202.1 758.8,214.5 759.2,225.9 759.6,236.5 760.0,247.4 760.4,258.7 760.8,269.2 761.2,279.7 761.6,290.1 762.0,298.9 762.4,308.0 762.8,315.2 763.2,320.8 763.6,325.2 764.0,328.0 764.4,330.9 764.8,333.2 765.2,335.4 765.6,337.3 766.0,338.5 766.4,340.0 766.8,340.7 767.2,340.6 767.6,340.7 768.0,340.7 768.4,340.5 768.8,340.5 769.2,340.6 769.6,340.5 770.0,340.6 770.4,340.8 770.8,340.3 771.2,340.4 771.6,340.7 772.0,341.0 772.4,341.1 772.8,340.8 773.2,340.5 773.6,340.1 774.0,339.8 774.4,339.5 774.8,338.4 775.2,337.0 775.6,336.1 776.0,335.0 776.4,334.1 776.8,332.8 777.2,329.9 777.6,326.8 778.0,322.3 778.4,316.4 778.8,303.4 779.2,280.0 779.6,253.2 780.0,229.4 780.4,207.8 780.8,186.2 781.2,165.8 781.6,145.5 782.0,123.3 782.4,102.5 782.8,87.8 783.2,84.2 783.6,90.4 784.0,102.9 784.4,119.7 784.8,138.2 785.2,155.7 785.6,172.9 786.0,191.6 786.4,215.0 786.8,251.7 787.2,291.7 787.6,290.5 788.0,286.3 788.4,280.0 788.8,272.9 789.2,264.5 789.6,256.1 790.0,247.9 790.4,239.4 790.8,232.3 791.2,226.1 791.6,222.4 792.0,221.2 792.4,222.4 792.8,225.7 793.2,230.7 793.6,237.0 794.0,244.8 794.4,253.1 794.8,261.3 795.2,268.7 795.6,275.7 796.0,281.5 796.4,287.1 796.8,293.3 797.2,299.0 797.6,304.7 798.0,309.6 798.4,313.9 798.8,317.3 799.2,320.7 799.6,324.3 800.0,327.8 800.4,331.1 800.8,333.7 801.2,336.7 801.6,338.6 802.0,340.4 802.4,342.2 802.8,343.6 803.2,345.3 803.6,347.0 804.0,348.3 804.4,349.9 804.8,351.1 805.2,352.2 805.6,353.5 806.0,354.0 806.4,355.1 806.8,356.5 807.2,357.2 807.6,358.1 808.0,358.8 808.4,359.1 808.8,360.0 809.2,360.7 809.6,361.3 810.0,361.7 810.4,362.0 810.8,362.5 811.2,363.1 811.6,363.7 812.0,363.8 812.4,364.2 812.8,364.2 813.2,364.3 813.6,365.0 814.0,365.0 814.4,365.6 814.8,366.0 815.2,366.5 815.6,366.7 816.0,366.9 816.4,367.1 816.8,367.3 817.2,367.5 817.6,367.7 818.0,367.9 818.4,368.0 818.8,368.1 819.2,368.3 819.6,368.4 820.0,368.5 820.4,368.6 820.8,368.7 821.2,368.8 821.6,368.9 822.0,369.0 822.4,369.1 822.8,369.1 823.2,369.2 823.6,369.3 824.0,369.4 824.4,369.4 824.8,369.5 825.2,369.6 825.6,369.6 826.0,369.7 826.4,369.7 826.8,369.8 827.2,369.8 827.6,369.9 828.0,370.0 828.4,370.0 828.8,370.1 829.2,370.1 829.6,370.2 830.0,370.2 833.0,370.5 836.0,370.9 839.0,371.2 842.0,371.4 845.0,371.5 848.0,371.6 851.0,371.6 854.0,371.7 857.0,371.8 860.0,371.8 863.0,371.9 866.0,371.9 869.0,371.9 872.0,372.0 875.0,372.0 878.0,372.0 881.0,372.0 884.0,372.0 887.0,372.0 890.0,372.0 893.0,372.0 896.0,372.0 899.0,372.0 902.0,372.0 905.0,372.0 908.0,372.0 911.0,372.0 914.0,372.1 917.0,372.1 920.0,372.1 923.0,372.1 926.0,372.1 929.0,372.1 932.0,372.1 935.0,372.1 938.0,372.1 941.0,372.1 944.0,372.1 947.0,372.1 950.0,372.1 953.0,372.1 956.0,372.1 959.0,372.1 962.0,372.1 965.0,372.1 968.0,372.1 971.0,372.1 974.0,372.1 977.0,372.1 980.0,372.1 983.0,372.1 986.0,372.1 989.0,372.1 992.0,372.1 995.0,372.1 998.0,372.1 1001.0,372.1 1004.0,372.1 1007.0,372.1 1010.0,372.2 1013.0,372.2 1016.0,372.2 1019.0,372.2 1022.0,372.2 1025.0,372.2 1028.0,372.2 1031.0,372.2 1034.0,372.2 1037.0,372.2 1040.0,372.2 1043.0,372.2 1046.0,372.2 1049.0,372.2 1052.0,372.2 1055.0,372.2 1058.0,372.2 1061.0,372.2 1064.0,372.2 1067.0,372.2 1070.0,372.2 1073.0,372.2 1076.0,372.2 1079.0,372.2 1082.0,372.2 1085.0,372.2 1088.0,372.2 1091.0,372.2 1094.0,372.2 1097.0,372.2 1100.0,372.2 1103.0,372.2 1106.0,372.2 1109.0,372.2 1112.0,372.2 1115.0,372.2 1118.0,372.2 1121.0,372.2 1124.0,372.2 1127.0,372.2 1130.0,372.2 1133.0,372.2 1136.0,372.2 1139.0,372.2 1142.0,372.2 1145.0,372.2 1148.0,372.2 1151.0,372.2 1154.0,372.2 1157.0,372.2 1160.0,372.2 1163.0,372.2 1166.0,372.2 1169.0,372.2 1172.0,372.2 1175.0,372.2" fill="none" stroke="#f0821a" stroke-width="3.2" stroke-linejoin="round"/>
<path d="M718.0,362.4 718.4,362.3 718.8,362.2 719.2,361.3 719.6,361.2 720.0,360.9 720.4,360.2 720.8,360.2 721.2,359.6 721.6,359.0 722.0,358.5 722.4,358.0 722.8,357.7 723.2,357.3 723.6,357.0 724.0,356.2 724.4,355.7 724.8,355.6 725.2,355.3 725.6,355.5 726.0,355.4 726.4,354.9 726.8,354.4 727.2,354.1 727.6,353.3 728.0,353.0 728.4,353.3 728.8,352.4 729.2,352.2 729.6,351.7 730.0,351.2 730.4,351.2 730.8,351.2 731.2,350.6 731.6,349.9 732.0,349.3 732.4,348.4 732.8,348.2 733.2,348.3 733.6,347.4 734.0,347.3 734.4,346.4 734.8,344.9 735.2,343.8 735.6,341.5 736.0,339.4 736.4,337.0 736.8,333.7 737.2,329.6 737.6,320.6 738.0,293.9 738.4,264.0 738.8,254.7 739.2,259.8 739.6,268.1 740.0,278.4 740.4,286.9 740.8,294.9 741.2,304.4 741.6,313.4 742.0,321.4 742.4,326.4 742.8,328.0 743.2,327.3 743.6,325.8 744.0,324.0 744.4,321.1 744.8,318.2 745.2,314.7 745.6,311.0 746.0,305.8 746.4,298.2 746.8,289.1 747.2,278.9 747.6,268.1 748.0,257.5 748.4,247.0 748.8,237.7 749.2,227.6 749.6,215.7 750.0,205.0 750.4,193.7 750.8,184.3 751.2,177.7 751.6,173.6 752.0,173.7 752.4,175.6 752.8,178.1 753.2,179.6 753.6,178.9 754.0,175.7 754.4,171.6 754.8,167.6 755.2,166.1 755.6,167.3 756.0,171.2 756.4,177.2 756.8,184.5 757.2,191.5 757.6,198.3 758.0,206.7 758.4,214.9 758.8,223.8 759.2,231.8 759.6,238.8 760.0,246.2 760.4,253.8 760.8,261.7 761.2,269.6 761.6,277.8 762.0,286.1 762.4,293.2 762.8,299.8 763.2,305.2 763.6,309.7 764.0,313.6 764.4,316.5 764.8,319.4 765.2,321.5 765.6,323.3 766.0,324.7 766.4,326.1 766.8,327.2 767.2,328.0 767.6,329.0 768.0,328.9 768.4,329.4 768.8,329.4 769.2,329.5 769.6,329.9 770.0,329.9 770.4,329.9 770.8,330.2 771.2,330.0 771.6,330.0 772.0,330.3 772.4,330.2 772.8,330.5 773.2,330.7 773.6,330.4 774.0,329.7 774.4,329.4 774.8,328.7 775.2,328.0 775.6,327.5 776.0,326.0 776.4,324.2 776.8,323.1 777.2,320.9 777.6,318.1 778.0,314.6 778.4,309.0 778.8,298.0 779.2,280.6 779.6,260.4 780.0,241.8 780.4,225.3 780.8,209.2 781.2,193.9 781.6,178.8 782.0,162.5 782.4,147.2 782.8,136.9 783.2,133.6 783.6,137.0 784.0,144.8 784.4,155.2 784.8,168.0 785.2,180.9 785.6,193.7 786.0,208.4 786.4,224.7 786.8,250.2 787.2,278.3 787.6,279.1 788.0,279.2 788.4,277.2 788.8,273.8 789.2,268.5 789.6,262.6 790.0,256.8 790.4,251.2 790.8,246.6 791.2,242.7 791.6,239.6 792.0,238.4 792.4,239.1 792.8,241.0 793.2,244.0 793.6,248.5 794.0,253.7 794.4,259.3 794.8,266.1 795.2,272.0 795.6,277.9 796.0,282.9 796.4,287.6 796.8,293.1 797.2,298.5 797.6,304.1 798.0,308.9 798.4,313.2 798.8,317.3 799.2,320.6 799.6,323.9 800.0,327.5 800.4,329.6 800.8,331.8 801.2,334.1 801.6,335.8 802.0,338.1 802.4,340.4 802.8,342.3 803.2,343.7 803.6,345.5 804.0,346.7 804.4,348.2 804.8,349.9 805.2,351.6 805.6,353.3 806.0,354.2 806.4,355.2 806.8,355.7 807.2,356.2 807.6,356.6 808.0,357.5 808.4,358.5 808.8,359.2 809.2,360.1 809.6,360.3 810.0,360.8 810.4,361.7 810.8,362.1 811.2,362.6 811.6,362.7 812.0,362.9 812.4,363.7 812.8,364.4 813.2,364.8 813.6,364.9 814.0,365.1 814.4,365.3 814.8,365.5 815.2,365.8 815.6,366.1 816.0,366.3 816.4,366.5 816.8,366.7 817.2,366.9 817.6,367.1 818.0,367.3 818.4,367.4 818.8,367.6 819.2,367.7 819.6,367.8 820.0,368.0 820.4,368.1 820.8,368.2 821.2,368.3 821.6,368.4 822.0,368.5 822.4,368.6 822.8,368.7 823.2,368.8 823.6,368.9 824.0,368.9 824.4,369.0 824.8,369.1 825.2,369.2 825.6,369.2 826.0,369.3 826.4,369.4 826.8,369.4 827.2,369.5 827.6,369.6 828.0,369.6 828.4,369.7 828.8,369.8 829.2,369.8 829.6,369.9 830.0,369.9 833.0,370.3 836.0,370.6 839.0,370.9 842.0,371.2 845.0,371.3 848.0,371.4 851.0,371.5 854.0,371.6 857.0,371.6 860.0,371.7 863.0,371.8 866.0,371.8 869.0,371.9 872.0,371.9 875.0,371.9 878.0,371.9 881.0,371.9 884.0,371.9 887.0,371.9 890.0,371.9 893.0,371.9 896.0,372.0 899.0,372.0 902.0,372.0 905.0,372.0 908.0,372.0 911.0,372.0 914.0,372.0 917.0,372.0 920.0,372.0 923.0,372.0 926.0,372.0 929.0,372.0 932.0,372.0 935.0,372.0 938.0,372.0 941.0,372.0 944.0,372.0 947.0,372.0 950.0,372.0 953.0,372.0 956.0,372.0 959.0,372.0 962.0,372.0 965.0,372.0 968.0,372.0 971.0,372.0 974.0,372.1 977.0,372.1 980.0,372.1 983.0,372.1 986.0,372.1 989.0,372.1 992.0,372.1 995.0,372.1 998.0,372.1 1001.0,372.1 1004.0,372.1 1007.0,372.1 1010.0,372.1 1013.0,372.1 1016.0,372.1 1019.0,372.1 1022.0,372.1 1025.0,372.1 1028.0,372.1 1031.0,372.1 1034.0,372.1 1037.0,372.1 1040.0,372.1 1043.0,372.1 1046.0,372.1 1049.0,372.1 1052.0,372.1 1055.0,372.1 1058.0,372.1 1061.0,372.1 1064.0,372.1 1067.0,372.1 1070.0,372.1 1073.0,372.1 1076.0,372.1 1079.0,372.1 1082.0,372.1 1085.0,372.1 1088.0,372.1 1091.0,372.1 1094.0,372.1 1097.0,372.1 1100.0,372.1 1103.0,372.1 1106.0,372.1 1109.0,372.1 1112.0,372.1 1115.0,372.1 1118.0,372.1 1121.0,372.1 1124.0,372.1 1127.0,372.1 1130.0,372.1 1133.0,372.1 1136.0,372.1 1139.0,372.1 1142.0,372.1 1145.0,372.1 1148.0,372.1 1151.0,372.1 1154.0,372.1 1157.0,372.1 1160.0,372.1 1163.0,372.1 1166.0,372.1 1169.0,372.1 1172.0,372.1 1175.0,372.1" fill="none" stroke="#f6c650" stroke-width="3.2" stroke-linejoin="round"/>
<path d="M718.0,357.7 718.4,357.3 718.8,356.8 719.2,356.8 719.6,355.6 720.0,355.8 720.4,354.7 720.8,353.6 721.2,353.5 721.6,352.9 722.0,353.2 722.4,352.7 722.8,351.9 723.2,351.2 723.6,350.7 724.0,350.5 724.4,349.8 724.8,349.3 725.2,349.0 725.6,348.9 726.0,348.6 726.4,348.0 726.8,346.9 727.2,345.3 727.6,344.0 728.0,343.4 728.4,343.5 728.8,343.2 729.2,342.5 729.6,341.9 730.0,340.9 730.4,340.4 730.8,340.9 731.2,340.7 731.6,340.6 732.0,340.0 732.4,339.1 732.8,338.0 733.2,337.3 733.6,336.4 734.0,335.8 734.4,335.1 734.8,333.7 735.2,332.0 735.6,329.7 736.0,326.6 736.4,323.0 736.8,319.3 737.2,314.0 737.6,302.8 738.0,281.8 738.4,261.4 738.8,255.3 739.2,259.5 739.6,267.2 740.0,275.7 740.4,282.6 740.8,289.5 741.2,296.8 741.6,303.9 742.0,309.4 742.4,312.5 742.8,313.6 743.2,313.1 743.6,312.1 744.0,310.1 744.4,307.5 744.8,304.8 745.2,302.2 745.6,299.8 746.0,296.0 746.4,291.2 746.8,285.2 747.2,278.5 747.6,271.7 748.0,265.1 748.4,259.2 748.8,253.3 749.2,247.5 749.6,240.4 750.0,232.9 750.4,226.3 750.8,220.0 751.2,215.6 751.6,212.9 752.0,211.1 752.4,211.3 752.8,211.8 753.2,212.2 753.6,212.0 754.0,210.1 754.4,208.0 754.8,205.8 755.2,205.4 755.6,205.7 756.0,207.1 756.4,209.7 756.8,212.3 757.2,215.9 757.6,219.6 758.0,223.4 758.4,227.7 758.8,231.8 759.2,235.6 759.6,239.5 760.0,244.0 760.4,248.7 760.8,254.0 761.2,259.7 761.6,266.0 762.0,272.3 762.4,278.7 762.8,284.2 763.2,289.2 763.6,293.7 764.0,297.9 764.4,301.9 764.8,305.5 765.2,308.4 765.6,310.5 766.0,311.8 766.4,313.0 766.8,314.5 767.2,316.0 767.6,317.0 768.0,317.6 768.4,318.1 768.8,318.3 769.2,318.4 769.6,318.9 770.0,318.9 770.4,318.9 770.8,319.3 771.2,319.1 771.6,319.4 772.0,319.7 772.4,319.8 772.8,319.9 773.2,319.9 773.6,320.2 774.0,320.1 774.4,319.8 774.8,319.5 775.2,318.4 775.6,317.4 776.0,316.6 776.4,315.3 776.8,314.4 777.2,312.3 777.6,309.9 778.0,305.7 778.4,300.3 778.8,292.2 779.2,280.9 779.6,268.7 780.0,256.3 780.4,244.1 780.8,232.2 781.2,221.3 781.6,210.9 782.0,201.2 782.4,192.5 782.8,185.9 783.2,182.9 783.6,182.7 784.0,185.5 784.4,190.2 784.8,197.1 785.2,205.5 785.6,214.0 786.0,223.2 786.4,233.2 786.8,248.1 787.2,264.1 787.6,268.6 788.0,272.6 788.4,274.2 788.8,274.7 789.2,272.9 789.6,269.3 790.0,266.2 790.4,263.2 790.8,259.9 791.2,257.5 791.6,255.5 792.0,254.5 792.4,254.5 792.8,255.1 793.2,256.7 793.6,259.9 794.0,264.0 794.4,268.6 794.8,273.6 795.2,277.6 795.6,282.0 796.0,286.1 796.4,290.5 796.8,295.4 797.2,300.1 797.6,304.4 798.0,308.8 798.4,313.1 798.8,317.0 799.2,320.5 799.6,323.5 800.0,326.3 800.4,328.8 800.8,331.3 801.2,333.8 801.6,336.1 802.0,338.1 802.4,339.9 802.8,341.8 803.2,343.6 803.6,344.7 804.0,346.3 804.4,347.5 804.8,348.7 805.2,350.0 805.6,350.8 806.0,351.7 806.4,352.6 806.8,353.7 807.2,355.2 807.6,356.3 808.0,357.2 808.4,358.3 808.8,358.4 809.2,358.8 809.6,358.8 810.0,359.4 810.4,360.4 810.8,361.1 811.2,361.9 811.6,362.2 812.0,362.6 812.4,362.6 812.8,363.3 813.2,363.8 813.6,363.8 814.0,364.3 814.4,364.8 814.8,365.0 815.2,365.2 815.6,365.4 816.0,365.7 816.4,365.9 816.8,366.1 817.2,366.3 817.6,366.5 818.0,366.7 818.4,366.9 818.8,367.0 819.2,367.2 819.6,367.3 820.0,367.4 820.4,367.6 820.8,367.7 821.2,367.8 821.6,367.9 822.0,368.0 822.4,368.1 822.8,368.2 823.2,368.3 823.6,368.4 824.0,368.5 824.4,368.6 824.8,368.7 825.2,368.8 825.6,368.9 826.0,369.0 826.4,369.0 826.8,369.1 827.2,369.2 827.6,369.3 828.0,369.3 828.4,369.4 828.8,369.5 829.2,369.5 829.6,369.6 830.0,369.6 833.0,370.0 836.0,370.4 839.0,370.7 842.0,371.0 845.0,371.1 848.0,371.3 851.0,371.4 854.0,371.4 857.0,371.5 860.0,371.6 863.0,371.7 866.0,371.7 869.0,371.8 872.0,371.8 875.0,371.8 878.0,371.9 881.0,371.9 884.0,371.9 887.0,371.9 890.0,371.9 893.0,371.9 896.0,371.9 899.0,371.9 902.0,371.9 905.0,371.9 908.0,371.9 911.0,371.9 914.0,371.9 917.0,371.9 920.0,371.9 923.0,371.9 926.0,371.9 929.0,371.9 932.0,371.9 935.0,371.9 938.0,371.9 941.0,371.9 944.0,372.0 947.0,372.0 950.0,372.0 953.0,372.0 956.0,372.0 959.0,372.0 962.0,372.0 965.0,372.0 968.0,372.0 971.0,372.0 974.0,372.0 977.0,372.0 980.0,372.0 983.0,372.0 986.0,372.0 989.0,372.0 992.0,372.0 995.0,372.0 998.0,372.0 1001.0,372.0 1004.0,372.0 1007.0,372.0 1010.0,372.0 1013.0,372.0 1016.0,372.0 1019.0,372.0 1022.0,372.0 1025.0,372.0 1028.0,372.0 1031.0,372.0 1034.0,372.0 1037.0,372.0 1040.0,372.0 1043.0,372.0 1046.0,372.0 1049.0,372.0 1052.0,372.0 1055.0,372.0 1058.0,372.0 1061.0,372.0 1064.0,372.0 1067.0,372.0 1070.0,372.0 1073.0,372.0 1076.0,372.0 1079.0,372.0 1082.0,372.0 1085.0,372.0 1088.0,372.0 1091.0,372.0 1094.0,372.0 1097.0,372.0 1100.0,372.1 1103.0,372.1 1106.0,372.1 1109.0,372.1 1112.0,372.1 1115.0,372.1 1118.0,372.1 1121.0,372.1 1124.0,372.1 1127.0,372.1 1130.0,372.1 1133.0,372.1 1136.0,372.1 1139.0,372.1 1142.0,372.1 1145.0,372.1 1148.0,372.1 1151.0,372.1 1154.0,372.1 1157.0,372.1 1160.0,372.1 1163.0,372.1 1166.0,372.1 1169.0,372.1 1172.0,372.1 1175.0,372.1" fill="none" stroke="#cbe07c" stroke-width="3.2" stroke-linejoin="round"/>
<path d="M718.0,354.8 718.4,354.3 718.8,353.8 719.2,353.3 719.6,352.6 720.0,352.3 720.4,351.5 720.8,351.3 721.2,350.9 721.6,350.6 722.0,350.6 722.4,349.8 722.8,349.5 723.2,348.7 723.6,347.8 724.0,347.2 724.4,346.6 724.8,346.0 725.2,345.3 725.6,344.9 726.0,344.0 726.4,342.9 726.8,342.1 727.2,341.5 727.6,341.0 728.0,340.6 728.4,340.2 728.8,339.4 729.2,338.8 729.6,337.8 730.0,337.3 730.4,336.5 730.8,335.8 731.2,335.6 731.6,334.9 732.0,334.7 732.4,334.0 732.8,333.7 733.2,333.2 733.6,332.3 734.0,331.8 734.4,330.2 734.8,328.2 735.2,326.0 735.6,323.6 736.0,320.3 736.4,317.6 736.8,314.0 737.2,307.8 737.6,295.4 738.0,275.8 738.4,258.8 738.8,254.3 739.2,258.8 739.6,266.4 740.0,275.1 740.4,281.9 740.8,287.3 741.2,293.7 741.6,299.3 742.0,304.4 742.4,307.8 742.8,308.7 743.2,307.8 743.6,306.0 744.0,304.0 744.4,301.7 744.8,299.1 745.2,296.9 745.6,294.7 746.0,291.7 746.4,288.1 746.8,283.4 747.2,278.0 747.6,272.7 748.0,268.0 748.4,263.2 748.8,259.2 749.2,255.6 749.6,250.8 750.0,245.8 750.4,240.8 750.8,235.8 751.2,232.3 751.6,229.5 752.0,228.0 752.4,226.9 752.8,226.2 753.2,225.9 753.6,225.2 754.0,224.0 754.4,223.1 754.8,221.7 755.2,220.8 755.6,221.1 756.0,221.9 756.4,223.2 756.8,224.5 757.2,226.2 757.6,227.9 758.0,230.5 758.4,232.9 758.8,235.4 759.2,237.6 759.6,240.4 760.0,243.4 760.4,247.1 760.8,251.5 761.2,256.4 761.6,262.0 762.0,267.9 762.4,273.6 762.8,278.9 763.2,283.5 763.6,287.9 764.0,292.3 764.4,296.5 764.8,300.1 765.2,303.2 765.6,306.0 766.0,307.1 766.4,308.4 766.8,309.5 767.2,310.8 767.6,311.8 768.0,312.4 768.4,313.0 768.8,313.5 769.2,313.7 769.6,314.3 770.0,314.9 770.4,315.1 770.8,315.5 771.2,315.9 771.6,316.2 772.0,316.5 772.4,316.8 772.8,317.2 773.2,316.8 773.6,316.7 774.0,316.6 774.4,315.6 774.8,315.2 775.2,314.2 775.6,313.2 776.0,312.2 776.4,311.2 776.8,310.2 777.2,308.3 777.6,306.2 778.0,302.4 778.4,296.3 778.8,289.1 779.2,279.9 779.6,270.6 780.0,261.3 780.4,252.0 780.8,242.4 781.2,233.1 781.6,224.8 782.0,216.7 782.4,210.4 782.8,206.0 783.2,203.2 783.6,202.1 784.0,202.6 784.4,204.3 784.8,208.4 785.2,215.1 785.6,222.5 786.0,230.3 786.4,238.2 786.8,248.0 787.2,259.5 787.6,265.0 788.0,269.5 788.4,272.5 788.8,274.3 789.2,273.0 789.6,271.1 790.0,269.7 790.4,267.0 790.8,265.6 791.2,264.3 791.6,262.4 792.0,261.2 792.4,260.8 792.8,260.1 793.2,260.7 793.6,262.9 794.0,265.5 794.4,269.4 794.8,274.5 795.2,279.0 795.6,283.0 796.0,286.7 796.4,290.2 796.8,295.2 797.2,299.9 797.6,304.7 798.0,309.3 798.4,312.9 798.8,316.6 799.2,319.6 799.6,322.4 800.0,325.1 800.4,328.1 800.8,330.3 801.2,332.8 801.6,335.4 802.0,337.1 802.4,339.3 802.8,341.1 803.2,342.3 803.6,343.8 804.0,345.2 804.4,346.4 804.8,347.8 805.2,349.0 805.6,350.6 806.0,351.7 806.4,353.0 806.8,354.5 807.2,354.8 807.6,355.4 808.0,356.1 808.4,356.8 808.8,357.7 809.2,358.4 809.6,359.1 810.0,359.2 810.4,359.9 810.8,360.4 811.2,360.7 811.6,361.6 812.0,362.3 812.4,362.7 812.8,363.3 813.2,363.7 813.6,363.9 814.0,364.1 814.4,364.6 814.8,364.6 815.2,364.9 815.6,365.2 816.0,365.4 816.4,365.6 816.8,365.9 817.2,366.1 817.6,366.3 818.0,366.4 818.4,366.6 818.8,366.8 819.2,366.9 819.6,367.1 820.0,367.2 820.4,367.3 820.8,367.5 821.2,367.6 821.6,367.7 822.0,367.8 822.4,367.9 822.8,368.0 823.2,368.1 823.6,368.3 824.0,368.4 824.4,368.4 824.8,368.5 825.2,368.6 825.6,368.7 826.0,368.8 826.4,368.9 826.8,369.0 827.2,369.0 827.6,369.1 828.0,369.2 828.4,369.3 828.8,369.3 829.2,369.4 829.6,369.5 830.0,369.5 833.0,369.9 836.0,370.3 839.0,370.6 842.0,370.9 845.0,371.1 848.0,371.2 851.0,371.3 854.0,371.4 857.0,371.5 860.0,371.6 863.0,371.6 866.0,371.7 869.0,371.7 872.0,371.8 875.0,371.8 878.0,371.8 881.0,371.8 884.0,371.8 887.0,371.8 890.0,371.8 893.0,371.8 896.0,371.9 899.0,371.9 902.0,371.9 905.0,371.9 908.0,371.9 911.0,371.9 914.0,371.9 917.0,371.9 920.0,371.9 923.0,371.9 926.0,371.9 929.0,371.9 932.0,371.9 935.0,371.9 938.0,371.9 941.0,371.9 944.0,371.9 947.0,371.9 950.0,371.9 953.0,371.9 956.0,371.9 959.0,371.9 962.0,371.9 965.0,371.9 968.0,371.9 971.0,371.9 974.0,372.0 977.0,372.0 980.0,372.0 983.0,372.0 986.0,372.0 989.0,372.0 992.0,372.0 995.0,372.0 998.0,372.0 1001.0,372.0 1004.0,372.0 1007.0,372.0 1010.0,372.0 1013.0,372.0 1016.0,372.0 1019.0,372.0 1022.0,372.0 1025.0,372.0 1028.0,372.0 1031.0,372.0 1034.0,372.0 1037.0,372.0 1040.0,372.0 1043.0,372.0 1046.0,372.0 1049.0,372.0 1052.0,372.0 1055.0,372.0 1058.0,372.0 1061.0,372.0 1064.0,372.0 1067.0,372.0 1070.0,372.0 1073.0,372.0 1076.0,372.0 1079.0,372.0 1082.0,372.0 1085.0,372.0 1088.0,372.0 1091.0,372.0 1094.0,372.0 1097.0,372.0 1100.0,372.0 1103.0,372.0 1106.0,372.0 1109.0,372.0 1112.0,372.0 1115.0,372.0 1118.0,372.0 1121.0,372.0 1124.0,372.0 1127.0,372.0 1130.0,372.0 1133.0,372.0 1136.0,372.0 1139.0,372.0 1142.0,372.0 1145.0,372.0 1148.0,372.0 1151.0,372.0 1154.0,372.0 1157.0,372.0 1160.0,372.0 1163.0,372.0 1166.0,372.0 1169.0,372.0 1172.0,372.0 1175.0,372.0" fill="none" stroke="#68a43c" stroke-width="3.2" stroke-linejoin="round"/>
<path d="M718.0,353.0 718.4,352.5 718.8,352.3 719.2,351.5 719.6,350.8 720.0,350.5 720.4,349.7 720.8,349.7 721.2,349.3 721.6,348.3 722.0,347.9 722.4,346.8 722.8,346.3 723.2,345.9 723.6,345.2 724.0,344.2 724.4,343.4 724.8,342.7 725.2,342.1 725.6,342.3 726.0,341.7 726.4,340.9 726.8,339.9 727.2,338.6 727.6,337.5 728.0,336.8 728.4,336.1 728.8,335.9 729.2,334.9 729.6,334.3 730.0,333.7 730.4,332.7 730.8,332.0 731.2,331.3 731.6,330.4 732.0,329.6 732.4,329.4 732.8,328.7 733.2,327.9 733.6,327.3 734.0,326.2 734.4,325.2 734.8,323.9 735.2,322.0 735.6,319.7 736.0,316.8 736.4,313.0 736.8,308.9 737.2,302.9 737.6,288.7 738.0,272.2 738.4,258.9 738.8,255.2 739.2,259.6 739.6,266.2 740.0,274.3 740.4,280.4 740.8,285.0 741.2,289.9 741.6,294.6 742.0,298.8 742.4,301.0 742.8,302.4 743.2,301.5 743.6,299.9 744.0,298.1 744.4,295.7 744.8,293.3 745.2,290.9 745.6,288.9 746.0,286.1 746.4,283.6 746.8,280.6 747.2,277.8 747.6,274.8 748.0,271.6 748.4,268.6 748.8,265.5 749.2,263.0 749.6,259.9 750.0,256.4 750.4,252.9 750.8,249.3 751.2,246.6 751.6,244.2 752.0,242.2 752.4,240.9 752.8,239.9 753.2,238.9 753.6,238.4 754.0,237.5 754.4,236.5 754.8,236.0 755.2,235.2 755.6,234.9 756.0,235.1 756.4,235.0 756.8,235.2 757.2,235.8 757.6,236.1 758.0,236.7 758.4,237.9 758.8,238.8 759.2,240.4 759.6,241.7 760.0,242.8 760.4,244.9 760.8,248.0 761.2,252.7 761.6,257.5 762.0,262.6 762.4,267.6 762.8,272.4 763.2,276.6 763.6,281.4 764.0,285.9 764.4,290.3 764.8,295.0 765.2,298.1 765.6,301.3 766.0,302.2 766.4,302.9 766.8,304.4 767.2,305.2 767.6,306.3 768.0,307.2 768.4,307.6 768.8,308.1 769.2,308.9 769.6,309.0 770.0,309.4 770.4,310.0 770.8,310.4 771.2,311.3 771.6,311.7 772.0,311.5 772.4,312.2 772.8,312.2 773.2,312.6 773.6,312.8 774.0,312.3 774.4,311.8 774.8,311.0 775.2,310.5 775.6,309.0 776.0,308.4 776.4,307.2 776.8,305.9 777.2,304.8 777.6,302.7 778.0,298.8 778.4,293.2 778.8,286.9 779.2,280.2 779.6,274.6 780.0,267.3 780.4,259.4 780.8,252.0 781.2,243.9 781.6,237.2 782.0,231.6 782.4,227.8 782.8,224.7 783.2,222.3 783.6,220.1 784.0,218.3 784.4,217.9 784.8,220.1 785.2,224.4 785.6,229.9 786.0,235.7 786.4,241.1 786.8,247.1 787.2,254.1 787.6,260.7 788.0,266.2 788.4,271.1 788.8,273.9 789.2,274.6 789.6,274.2 790.0,273.0 790.4,272.2 790.8,270.9 791.2,269.7 791.6,268.6 792.0,267.4 792.4,266.7 792.8,265.9 793.2,265.6 793.6,266.5 794.0,268.9 794.4,272.6 794.8,276.7 795.2,281.4 795.6,285.2 796.0,288.9 796.4,292.6 796.8,296.6 797.2,300.9 797.6,305.1 798.0,309.1 798.4,312.5 798.8,315.5 799.2,318.8 799.6,321.9 800.0,325.5 800.4,328.6 800.8,330.9 801.2,332.9 801.6,334.7 802.0,336.6 802.4,338.9 802.8,341.3 803.2,342.3 803.6,343.9 804.0,344.6 804.4,345.3 804.8,346.9 805.2,348.5 805.6,350.3 806.0,351.7 806.4,353.3 806.8,354.4 807.2,355.2 807.6,356.3 808.0,356.6 808.4,357.6 808.8,357.8 809.2,357.9 809.6,358.9 810.0,358.9 810.4,359.4 810.8,360.4 811.2,360.6 811.6,361.2 812.0,361.7 812.4,361.8 812.8,362.3 813.2,362.7 813.6,363.1 814.0,364.1 814.4,364.5 814.8,364.6 815.2,364.7 815.6,364.9 816.0,365.2 816.4,365.4 816.8,365.6 817.2,365.8 817.6,366.0 818.0,366.2 818.4,366.4 818.8,366.6 819.2,366.7 819.6,366.9 820.0,367.0 820.4,367.1 820.8,367.3 821.2,367.4 821.6,367.5 822.0,367.6 822.4,367.8 822.8,367.9 823.2,368.0 823.6,368.1 824.0,368.2 824.4,368.3 824.8,368.4 825.2,368.5 825.6,368.6 826.0,368.7 826.4,368.7 826.8,368.8 827.2,368.9 827.6,369.0 828.0,369.1 828.4,369.1 828.8,369.2 829.2,369.3 829.6,369.3 830.0,369.4 833.0,369.8 836.0,370.2 839.0,370.6 842.0,370.8 845.0,371.0 848.0,371.1 851.0,371.2 854.0,371.3 857.0,371.4 860.0,371.5 863.0,371.6 866.0,371.6 869.0,371.7 872.0,371.7 875.0,371.8 878.0,371.8 881.0,371.8 884.0,371.8 887.0,371.8 890.0,371.8 893.0,371.8 896.0,371.8 899.0,371.8 902.0,371.8 905.0,371.8 908.0,371.8 911.0,371.8 914.0,371.9 917.0,371.9 920.0,371.9 923.0,371.9 926.0,371.9 929.0,371.9 932.0,371.9 935.0,371.9 938.0,371.9 941.0,371.9 944.0,371.9 947.0,371.9 950.0,371.9 953.0,371.9 956.0,371.9 959.0,371.9 962.0,371.9 965.0,371.9 968.0,371.9 971.0,371.9 974.0,371.9 977.0,371.9 980.0,371.9 983.0,371.9 986.0,371.9 989.0,371.9 992.0,371.9 995.0,371.9 998.0,371.9 1001.0,371.9 1004.0,371.9 1007.0,372.0 1010.0,372.0 1013.0,372.0 1016.0,372.0 1019.0,372.0 1022.0,372.0 1025.0,372.0 1028.0,372.0 1031.0,372.0 1034.0,372.0 1037.0,372.0 1040.0,372.0 1043.0,372.0 1046.0,372.0 1049.0,372.0 1052.0,372.0 1055.0,372.0 1058.0,372.0 1061.0,372.0 1064.0,372.0 1067.0,372.0 1070.0,372.0 1073.0,372.0 1076.0,372.0 1079.0,372.0 1082.0,372.0 1085.0,372.0 1088.0,372.0 1091.0,372.0 1094.0,372.0 1097.0,372.0 1100.0,372.0 1103.0,372.0 1106.0,372.0 1109.0,372.0 1112.0,372.0 1115.0,372.0 1118.0,372.0 1121.0,372.0 1124.0,372.0 1127.0,372.0 1130.0,372.0 1133.0,372.0 1136.0,372.0 1139.0,372.0 1142.0,372.0 1145.0,372.0 1148.0,372.0 1151.0,372.0 1154.0,372.0 1157.0,372.0 1160.0,372.0 1163.0,372.0 1166.0,372.0 1169.0,372.0 1172.0,372.0 1175.0,372.0" fill="none" stroke="#1d721b" stroke-width="3.2" stroke-linejoin="round"/>
<path d="M676.3,19.0 L1176.0,19.0 L1176.0,373.5 L676.3,373.5 Z" fill="none" stroke="#000" stroke-width="2.05"/>
<line x1="669.3" y1="19.00" x2="676.3" y2="19.00" stroke="#000" stroke-width="2"/>
<line x1="672.8" y1="48.54" x2="676.3" y2="48.54" stroke="#000" stroke-width="2"/>
<line x1="669.3" y1="78.08" x2="676.3" y2="78.08" stroke="#000" stroke-width="2"/>
<line x1="672.8" y1="107.62" x2="676.3" y2="107.62" stroke="#000" stroke-width="2"/>
<line x1="669.3" y1="137.17" x2="676.3" y2="137.17" stroke="#000" stroke-width="2"/>
<line x1="672.8" y1="166.71" x2="676.3" y2="166.71" stroke="#000" stroke-width="2"/>
<line x1="669.3" y1="196.25" x2="676.3" y2="196.25" stroke="#000" stroke-width="2"/>
<line x1="672.8" y1="225.79" x2="676.3" y2="225.79" stroke="#000" stroke-width="2"/>
<line x1="669.3" y1="255.33" x2="676.3" y2="255.33" stroke="#000" stroke-width="2"/>
<line x1="672.8" y1="284.88" x2="676.3" y2="284.88" stroke="#000" stroke-width="2"/>
<line x1="669.3" y1="314.42" x2="676.3" y2="314.42" stroke="#000" stroke-width="2"/>
<line x1="672.8" y1="343.96" x2="676.3" y2="343.96" stroke="#000" stroke-width="2"/>
<line x1="669.3" y1="373.50" x2="676.3" y2="373.50" stroke="#000" stroke-width="2"/>
<line x1="676.30" y1="373.5" x2="676.30" y2="380.0" stroke="#000" stroke-width="2"/>
<text x="676.30" y="405.00" font-size="21" text-anchor="middle" fill="#000" >900</text>
<line x1="717.90" y1="373.5" x2="717.90" y2="377.0" stroke="#000" stroke-width="2"/>
<line x1="759.50" y1="373.5" x2="759.50" y2="380.0" stroke="#000" stroke-width="2"/>
<text x="759.50" y="405.00" font-size="21" text-anchor="middle" fill="#000" >1000</text>
<line x1="801.10" y1="373.5" x2="801.10" y2="377.0" stroke="#000" stroke-width="2"/>
<line x1="842.70" y1="373.5" x2="842.70" y2="380.0" stroke="#000" stroke-width="2"/>
<text x="842.70" y="405.00" font-size="21" text-anchor="middle" fill="#000" >1100</text>
<line x1="884.30" y1="373.5" x2="884.30" y2="377.0" stroke="#000" stroke-width="2"/>
<line x1="925.90" y1="373.5" x2="925.90" y2="380.0" stroke="#000" stroke-width="2"/>
<text x="925.90" y="405.00" font-size="21" text-anchor="middle" fill="#000" >1200</text>
<line x1="967.50" y1="373.5" x2="967.50" y2="377.0" stroke="#000" stroke-width="2"/>
<line x1="1009.10" y1="373.5" x2="1009.10" y2="380.0" stroke="#000" stroke-width="2"/>
<text x="1009.10" y="405.00" font-size="21" text-anchor="middle" fill="#000" >1300</text>
<line x1="1050.70" y1="373.5" x2="1050.70" y2="377.0" stroke="#000" stroke-width="2"/>
<line x1="1092.30" y1="373.5" x2="1092.30" y2="380.0" stroke="#000" stroke-width="2"/>
<text x="1092.30" y="405.00" font-size="21" text-anchor="middle" fill="#000" >1400</text>
<line x1="1133.90" y1="373.5" x2="1133.90" y2="377.0" stroke="#000" stroke-width="2"/>
<line x1="1175.50" y1="373.5" x2="1175.50" y2="380.0" stroke="#000" stroke-width="2"/>
<text x="1175.50" y="405.00" font-size="21" text-anchor="middle" fill="#000" >1500</text>
<text x="925.60" y="436.00" font-size="21.5" text-anchor="middle" fill="#000" >Wavelength (nm)</text>
<text x="655.60" y="196.00" font-size="21.5" text-anchor="middle" fill="#000" transform="rotate(-90 655.6 196)">Intensity (a.u.)</text>
<text x="593.50" y="26.00" font-size="31.5" text-anchor="start" fill="#000" font-weight="bold">b</text>
<text x="704" y="242" font-size="22" font-style="italic">ZPL</text>
<rect x="1048.5" y="38.7" width="116.3" height="136" fill="#fff" stroke="#a0a0a0" stroke-width="1"/>
<line x1="1056" y1="54.10" x2="1104" y2="54.10" stroke="#f0821a" stroke-width="2.6"/>
<text x="1113.00" y="60.10" font-size="18.8" text-anchor="start" fill="#000" >120 K</text>
<line x1="1056" y1="81.05" x2="1104" y2="81.05" stroke="#f6c650" stroke-width="2.6"/>
<text x="1113.00" y="87.05" font-size="18.8" text-anchor="start" fill="#000" >170 K</text>
<line x1="1056" y1="108.00" x2="1104" y2="108.00" stroke="#cbe07c" stroke-width="2.6"/>
<text x="1113.00" y="114.00" font-size="18.8" text-anchor="start" fill="#000" >220 K</text>
<line x1="1056" y1="134.95" x2="1104" y2="134.95" stroke="#68a43c" stroke-width="2.6"/>
<text x="1113.00" y="140.95" font-size="18.8" text-anchor="start" fill="#000" >270 K</text>
<line x1="1056" y1="161.90" x2="1104" y2="161.90" stroke="#1d721b" stroke-width="2.6"/>
<text x="1113.00" y="167.90" font-size="18.8" text-anchor="start" fill="#000" >300 K</text>
<rect x="701.1" y="788.08" width="49.8" height="66.52" fill="url(#barg)" stroke="#f0b080" stroke-width="0.6"/>
<text x="726.00" y="885.50" font-size="21" text-anchor="middle" fill="#000" >120</text>
<rect x="801.1" y="659.46" width="49.8" height="195.14" fill="url(#barg)" stroke="#f0b080" stroke-width="0.6"/>
<text x="826.00" y="885.50" font-size="21" text-anchor="middle" fill="#000" >170</text>
<rect x="901.1" y="632.85" width="49.8" height="221.75" fill="url(#barg)" stroke="#f0b080" stroke-width="0.6"/>
<text x="926.00" y="885.50" font-size="21" text-anchor="middle" fill="#000" >220</text>
<rect x="1001.1" y="588.50" width="49.8" height="266.10" fill="url(#barg)" stroke="#f0b080" stroke-width="0.6"/>
<text x="1026.00" y="885.50" font-size="21" text-anchor="middle" fill="#000" >270</text>
<rect x="1101.1" y="550.06" width="49.8" height="304.54" fill="url(#barg)" stroke="#f0b080" stroke-width="0.6"/>
<text x="1126.00" y="885.50" font-size="21" text-anchor="middle" fill="#000" >300</text>
<path d="M676.0,499.8 L1176.0,499.8 L1176.0,854.6 L676.0,854.6 Z" fill="none" stroke="#000" stroke-width="2.05"/>
<line x1="669.0" y1="499.80" x2="676.0" y2="499.80" stroke="#000" stroke-width="2"/>
<text x="660.00" y="506.20" font-size="21" text-anchor="end" fill="#000" >1.2</text>
<line x1="672.5" y1="529.37" x2="676.0" y2="529.37" stroke="#000" stroke-width="2"/>
<line x1="669.0" y1="558.93" x2="676.0" y2="558.93" stroke="#000" stroke-width="2"/>
<text x="660.00" y="565.33" font-size="21" text-anchor="end" fill="#000" >1.0</text>
<line x1="672.5" y1="588.50" x2="676.0" y2="588.50" stroke="#000" stroke-width="2"/>
<line x1="669.0" y1="618.07" x2="676.0" y2="618.07" stroke="#000" stroke-width="2"/>
<text x="660.00" y="624.47" font-size="21" text-anchor="end" fill="#000" >0.8</text>
<line x1="672.5" y1="647.63" x2="676.0" y2="647.63" stroke="#000" stroke-width="2"/>
<line x1="669.0" y1="677.20" x2="676.0" y2="677.20" stroke="#000" stroke-width="2"/>
<text x="660.00" y="683.60" font-size="21" text-anchor="end" fill="#000" >0.6</text>
<line x1="672.5" y1="706.77" x2="676.0" y2="706.77" stroke="#000" stroke-width="2"/>
<line x1="669.0" y1="736.33" x2="676.0" y2="736.33" stroke="#000" stroke-width="2"/>
<text x="660.00" y="742.73" font-size="21" text-anchor="end" fill="#000" >0.4</text>
<line x1="672.5" y1="765.90" x2="676.0" y2="765.90" stroke="#000" stroke-width="2"/>
<line x1="669.0" y1="795.47" x2="676.0" y2="795.47" stroke="#000" stroke-width="2"/>
<text x="660.00" y="801.87" font-size="21" text-anchor="end" fill="#000" >0.2</text>
<line x1="672.5" y1="825.03" x2="676.0" y2="825.03" stroke="#000" stroke-width="2"/>
<line x1="669.0" y1="854.60" x2="676.0" y2="854.60" stroke="#000" stroke-width="2"/>
<text x="660.00" y="861.00" font-size="21" text-anchor="end" fill="#000" >0.0</text>
<line x1="676.00" y1="854.6" x2="676.00" y2="861.1" stroke="#000" stroke-width="2"/>
<line x1="776.00" y1="854.6" x2="776.00" y2="861.1" stroke="#000" stroke-width="2"/>
<line x1="876.00" y1="854.6" x2="876.00" y2="861.1" stroke="#000" stroke-width="2"/>
<line x1="976.00" y1="854.6" x2="976.00" y2="861.1" stroke="#000" stroke-width="2"/>
<line x1="1076.00" y1="854.6" x2="1076.00" y2="861.1" stroke="#000" stroke-width="2"/>
<line x1="1176.00" y1="854.6" x2="1176.00" y2="861.1" stroke="#000" stroke-width="2"/>
<text x="926.00" y="916.50" font-size="21.5" text-anchor="middle" fill="#000" >Temperature (K)</text>
<text x="613.50" y="679.50" font-size="21.5" text-anchor="middle" fill="#000" transform="rotate(-90 613.5 679.5)">Huang-Rhys S factor</text>
<text x="593.50" y="498.50" font-size="31.5" text-anchor="start" fill="#000" font-weight="bold">d</text>
</svg></body></html>
